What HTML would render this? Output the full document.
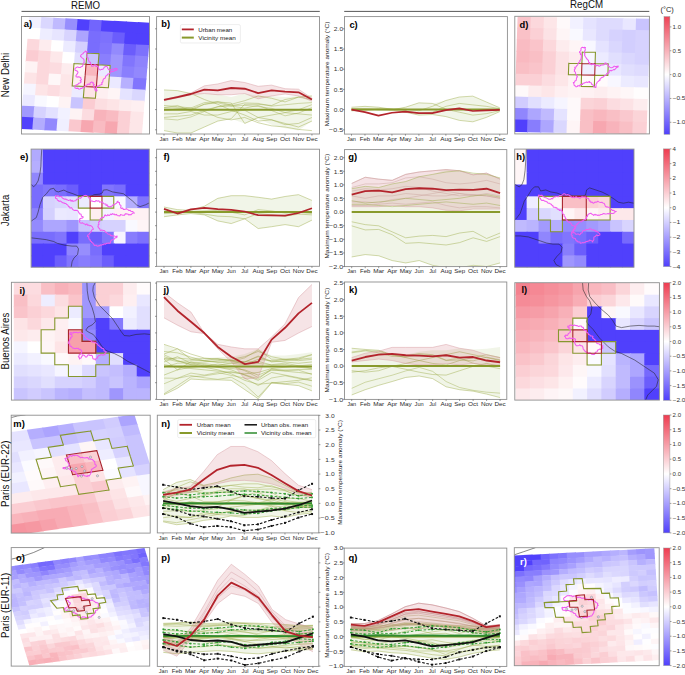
<!DOCTYPE html>
<html><head><meta charset="utf-8"><style>
html,body{margin:0;padding:0;background:#fff;}
body{width:685px;height:675px;overflow:hidden;}
svg{display:block;font-family:"Liberation Sans", sans-serif;}
</style></head><body>
<svg width="685" height="675" viewBox="0 0 685 675">
<rect x="0" y="0" width="685" height="675" fill="#fff"/>
<clipPath id="c156_16"><rect x="156.60" y="16.60" width="162.90" height="117.40"/></clipPath>
<g clip-path="url(#c156_16)">
<polygon points="164.00,89.93 177.45,90.64 190.90,93.52 204.35,93.52 217.80,94.24 231.25,97.11 244.70,93.52 258.15,95.91 271.60,95.91 285.05,97.11 298.50,95.91 311.95,95.91 311.95,121.05 298.50,130.62 285.05,128.23 271.60,124.64 258.15,118.65 244.70,123.44 231.25,118.65 217.80,121.05 204.35,127.03 190.90,133.02 177.45,133.02 164.00,130.62" fill="#7a9a1a" stroke="none" stroke-width="1" fill-opacity="0.1"/>
<polyline points="164.00,89.93 177.45,90.64 190.90,93.52 204.35,99.50 217.80,104.29 231.25,110.28 244.70,115.06 258.15,121.05 271.60,119.85 285.05,123.44 298.50,127.03 311.95,121.05" fill="none" stroke="#9aab45" stroke-width="0.45" stroke-linejoin="round"/>
<polyline points="164.00,105.49 177.45,106.68 190.90,107.88 204.35,111.47 217.80,117.46 231.25,119.85 244.70,117.46 258.15,122.72 271.60,125.84 285.05,127.03 298.50,129.43 311.95,130.62" fill="none" stroke="#9aab45" stroke-width="0.45" stroke-linejoin="round"/>
<polyline points="164.00,117.46 177.45,116.26 190.90,115.06 204.35,110.28 217.80,106.68 231.25,104.29 244.70,100.70 258.15,95.91 271.60,98.31 285.05,101.90 298.50,97.11 311.95,95.91" fill="none" stroke="#9aab45" stroke-width="0.45" stroke-linejoin="round"/>
<polyline points="164.00,130.62 177.45,133.02 190.90,133.02 204.35,127.03 217.80,121.05 231.25,118.65 244.70,104.29 258.15,104.29 271.60,105.49 285.05,99.50 298.50,97.11 311.95,99.50" fill="none" stroke="#9aab45" stroke-width="0.45" stroke-linejoin="round"/>
<polyline points="164.00,113.87 177.45,113.87 190.90,111.47 204.35,115.06 217.80,115.06 231.25,111.47 244.70,110.28 258.15,117.46 271.60,115.06 285.05,112.67 298.50,113.87 311.95,115.06" fill="none" stroke="#9aab45" stroke-width="0.45" stroke-linejoin="round"/>
<polyline points="164.00,107.88 177.45,107.88 190.90,109.08 204.35,104.29 217.80,101.90 231.25,103.09 244.70,123.44 258.15,117.46 271.60,119.85 285.05,124.64 298.50,123.44 311.95,117.46" fill="none" stroke="#9aab45" stroke-width="0.45" stroke-linejoin="round"/>
<polyline points="164.00,107.68 177.45,105.46 190.90,110.80 204.35,104.21 217.80,102.81 231.25,106.06 244.70,102.94 258.15,103.37 271.60,106.13 285.05,104.75 298.50,103.43 311.95,102.58" fill="none" stroke="#9aab45" stroke-width="0.42" stroke-linejoin="round"/>
<polyline points="164.00,110.72 177.45,108.80 190.90,107.96 204.35,102.64 217.80,101.58 231.25,105.20 244.70,105.40 258.15,106.44 271.60,108.41 285.05,112.49 298.50,109.75 311.95,104.67" fill="none" stroke="#9aab45" stroke-width="0.42" stroke-linejoin="round"/>
<polyline points="164.00,118.86 177.45,119.98 190.90,116.95 204.35,111.52 217.80,106.77 231.25,106.05 244.70,108.16 258.15,105.40 271.60,110.56 285.05,115.82 298.50,113.07 311.95,107.60" fill="none" stroke="#9aab45" stroke-width="0.42" stroke-linejoin="round"/>
<polygon points="164.00,99.50 177.45,96.39 190.90,93.04 204.35,85.86 217.80,83.94 231.25,80.59 244.70,82.50 258.15,86.33 271.60,85.14 285.05,88.73 298.50,89.21 311.95,98.31 311.95,101.18 298.50,95.91 285.05,94.00 271.60,95.91 258.15,98.78 244.70,93.52 231.25,94.71 217.80,94.71 204.35,93.52 190.90,94.71 177.45,97.83 164.00,100.70" fill="#b22234" stroke="none" stroke-width="1" fill-opacity="0.12"/>
<polyline points="164.00,99.50 177.45,96.39 190.90,93.04 204.35,85.86 217.80,83.94 231.25,80.59 244.70,82.50 258.15,86.33 271.60,85.14 285.05,88.73 298.50,89.21 311.95,98.31" fill="none" stroke="#d9a0a6" stroke-width="0.5" stroke-linejoin="round"/>
<polyline points="164.00,100.70 177.45,97.83 190.90,94.71 204.35,93.52 217.80,94.71 231.25,94.71 244.70,93.52 258.15,98.78 271.60,95.91 285.05,94.00 298.50,95.91 311.95,101.18" fill="none" stroke="#d9a0a6" stroke-width="0.5" stroke-linejoin="round"/>
<polyline points="164.00,109.80 177.45,109.80 190.90,109.80 204.35,109.80 217.80,109.80 231.25,109.80 244.70,109.80 258.15,109.80 271.60,109.80 285.05,109.80 298.50,109.80 311.95,109.80" fill="none" stroke="#889a2c" stroke-width="2.0" stroke-linejoin="round"/>
<polyline points="164.00,99.98 177.45,97.11 190.90,94.00 204.35,89.69 217.80,90.40 231.25,88.01 244.70,88.73 258.15,93.04 271.60,90.40 285.05,91.60 298.50,92.32 311.95,99.50" fill="none" stroke="#b3242c" stroke-width="1.8" stroke-linejoin="round"/>
</g>
<rect x="156.60" y="16.60" width="162.90" height="117.40" fill="none" stroke="#8e8e8e" stroke-width="0.9"/>
<line x1="164.00" y1="134.00" x2="164.00" y2="135.60" stroke="#555" stroke-width="0.6"/>
<text x="164.00" y="140.70" font-size="6.15" text-anchor="middle" font-weight="normal" fill="#2a2a2a" textLength="8.94" lengthAdjust="spacingAndGlyphs">Jan</text>
<line x1="177.45" y1="134.00" x2="177.45" y2="135.60" stroke="#555" stroke-width="0.6"/>
<text x="177.45" y="140.70" font-size="6.15" text-anchor="middle" font-weight="normal" fill="#2a2a2a" textLength="10.27" lengthAdjust="spacingAndGlyphs">Feb</text>
<line x1="190.90" y1="134.00" x2="190.90" y2="135.60" stroke="#555" stroke-width="0.6"/>
<text x="190.90" y="140.70" font-size="6.15" text-anchor="middle" font-weight="normal" fill="#2a2a2a" textLength="10.94" lengthAdjust="spacingAndGlyphs">Mar</text>
<line x1="204.35" y1="134.00" x2="204.35" y2="135.60" stroke="#555" stroke-width="0.6"/>
<text x="204.35" y="140.70" font-size="6.15" text-anchor="middle" font-weight="normal" fill="#2a2a2a" textLength="10.03" lengthAdjust="spacingAndGlyphs">Apr</text>
<line x1="217.80" y1="134.00" x2="217.80" y2="135.60" stroke="#555" stroke-width="0.6"/>
<text x="217.80" y="140.70" font-size="6.15" text-anchor="middle" font-weight="normal" fill="#2a2a2a" textLength="11.99" lengthAdjust="spacingAndGlyphs">May</text>
<line x1="231.25" y1="134.00" x2="231.25" y2="135.60" stroke="#555" stroke-width="0.6"/>
<text x="231.25" y="140.70" font-size="6.15" text-anchor="middle" font-weight="normal" fill="#2a2a2a" textLength="9.06" lengthAdjust="spacingAndGlyphs">Jun</text>
<line x1="244.70" y1="134.00" x2="244.70" y2="135.60" stroke="#555" stroke-width="0.6"/>
<text x="244.70" y="140.70" font-size="6.15" text-anchor="middle" font-weight="normal" fill="#2a2a2a" textLength="7.00" lengthAdjust="spacingAndGlyphs">Jul</text>
<line x1="258.15" y1="134.00" x2="258.15" y2="135.60" stroke="#555" stroke-width="0.6"/>
<text x="258.15" y="140.70" font-size="6.15" text-anchor="middle" font-weight="normal" fill="#2a2a2a" textLength="11.33" lengthAdjust="spacingAndGlyphs">Aug</text>
<line x1="271.60" y1="134.00" x2="271.60" y2="135.60" stroke="#555" stroke-width="0.6"/>
<text x="271.60" y="140.70" font-size="6.15" text-anchor="middle" font-weight="normal" fill="#2a2a2a" textLength="10.93" lengthAdjust="spacingAndGlyphs">Sep</text>
<line x1="285.05" y1="134.00" x2="285.05" y2="135.60" stroke="#555" stroke-width="0.6"/>
<text x="285.05" y="140.70" font-size="6.15" text-anchor="middle" font-weight="normal" fill="#2a2a2a" textLength="10.03" lengthAdjust="spacingAndGlyphs">Oct</text>
<line x1="298.50" y1="134.00" x2="298.50" y2="135.60" stroke="#555" stroke-width="0.6"/>
<text x="298.50" y="140.70" font-size="6.15" text-anchor="middle" font-weight="normal" fill="#2a2a2a" textLength="11.32" lengthAdjust="spacingAndGlyphs">Nov</text>
<line x1="311.95" y1="134.00" x2="311.95" y2="135.60" stroke="#555" stroke-width="0.6"/>
<text x="311.95" y="140.70" font-size="6.15" text-anchor="middle" font-weight="normal" fill="#2a2a2a" textLength="11.22" lengthAdjust="spacingAndGlyphs">Dec</text>
<line x1="155.00" y1="129.80" x2="156.60" y2="129.80" stroke="#555" stroke-width="0.6"/>
<line x1="155.00" y1="109.60" x2="156.60" y2="109.60" stroke="#555" stroke-width="0.6"/>
<line x1="155.00" y1="89.40" x2="156.60" y2="89.40" stroke="#555" stroke-width="0.6"/>
<line x1="155.00" y1="69.20" x2="156.60" y2="69.20" stroke="#555" stroke-width="0.6"/>
<line x1="155.00" y1="49.00" x2="156.60" y2="49.00" stroke="#555" stroke-width="0.6"/>
<line x1="155.00" y1="28.80" x2="156.60" y2="28.80" stroke="#555" stroke-width="0.6"/>
<rect x="180.4" y="24.6" width="60" height="18.4" rx="1.5" fill="#fff" fill-opacity="0.85" stroke="#e2e2e2" stroke-width="0.6"/>
<line x1="181.80" y1="29.40" x2="193.80" y2="29.40" stroke="#b3242c" stroke-width="1.8"/>
<line x1="181.80" y1="37.60" x2="193.80" y2="37.60" stroke="#889a2c" stroke-width="2.0"/>
<text x="198.30" y="31.60" font-size="5.9" text-anchor="start" font-weight="normal" fill="#222" textLength="33.98" lengthAdjust="spacingAndGlyphs">Urban mean</text>
<text x="198.30" y="39.80" font-size="5.9" text-anchor="start" font-weight="normal" fill="#222" textLength="37.49" lengthAdjust="spacingAndGlyphs">Vicinity mean</text>
<clipPath id="c344_16"><rect x="344.50" y="16.60" width="162.90" height="117.50"/></clipPath>
<g clip-path="url(#c344_16)">
<polygon points="351.50,107.23 364.98,106.35 378.46,107.23 391.94,109.27 405.42,107.23 418.90,102.85 432.38,103.43 445.86,100.51 459.34,97.01 472.82,96.13 486.30,101.97 499.78,107.81 499.78,111.61 486.30,117.45 472.82,121.82 459.34,120.36 445.86,116.57 432.38,114.53 418.90,115.11 405.42,112.19 391.94,110.15 378.46,110.73 364.98,110.73 351.50,111.61" fill="#7a9a1a" stroke="none" stroke-width="1" fill-opacity="0.1"/>
<polyline points="351.50,107.23 364.98,106.35 378.46,107.23 391.94,109.27 405.42,110.73 418.90,113.65 432.38,112.19 445.86,106.35 459.34,103.43 472.82,104.89 486.30,106.35 499.78,108.69" fill="none" stroke="#9aab45" stroke-width="0.45" stroke-linejoin="round"/>
<polyline points="351.50,110.73 364.98,110.15 378.46,109.27 391.94,109.85 405.42,107.23 418.90,102.85 432.38,103.43 445.86,109.27 459.34,112.19 472.82,115.11 486.30,113.65 499.78,110.73" fill="none" stroke="#9aab45" stroke-width="0.45" stroke-linejoin="round"/>
<polyline points="351.50,109.27 364.98,108.69 378.46,109.85 391.94,110.15 405.42,112.19 418.90,115.11 432.38,114.53 445.86,116.57 459.34,120.36 472.82,121.82 486.30,117.45 499.78,111.61" fill="none" stroke="#9aab45" stroke-width="0.45" stroke-linejoin="round"/>
<polyline points="351.50,108.69 364.98,109.27 378.46,108.69 391.94,108.69 405.42,109.27 418.90,110.73 432.38,106.35 445.86,100.51 459.34,97.01 472.82,96.13 486.30,101.97 499.78,107.81" fill="none" stroke="#9aab45" stroke-width="0.45" stroke-linejoin="round"/>
<polyline points="351.50,109.60 364.98,109.60 378.46,109.60 391.94,109.60 405.42,109.60 418.90,109.60 432.38,109.60 445.86,109.60 459.34,109.60 472.82,109.60 486.30,109.60 499.78,109.60" fill="none" stroke="#889a2c" stroke-width="2.0" stroke-linejoin="round"/>
<polyline points="351.50,109.56 364.98,112.19 378.46,115.69 391.94,112.77 405.42,111.61 418.90,113.07 432.38,113.07 445.86,110.15 459.34,108.39 472.82,111.02 486.30,110.44 499.78,109.85" fill="none" stroke="#b3242c" stroke-width="1.7" stroke-linejoin="round"/>
</g>
<rect x="344.50" y="16.60" width="162.90" height="117.50" fill="none" stroke="#8e8e8e" stroke-width="0.9"/>
<line x1="351.50" y1="134.10" x2="351.50" y2="135.70" stroke="#555" stroke-width="0.6"/>
<text x="351.50" y="140.70" font-size="6.15" text-anchor="middle" font-weight="normal" fill="#2a2a2a" textLength="8.94" lengthAdjust="spacingAndGlyphs">Jan</text>
<line x1="364.98" y1="134.10" x2="364.98" y2="135.70" stroke="#555" stroke-width="0.6"/>
<text x="364.98" y="140.70" font-size="6.15" text-anchor="middle" font-weight="normal" fill="#2a2a2a" textLength="10.27" lengthAdjust="spacingAndGlyphs">Feb</text>
<line x1="378.46" y1="134.10" x2="378.46" y2="135.70" stroke="#555" stroke-width="0.6"/>
<text x="378.46" y="140.70" font-size="6.15" text-anchor="middle" font-weight="normal" fill="#2a2a2a" textLength="10.94" lengthAdjust="spacingAndGlyphs">Mar</text>
<line x1="391.94" y1="134.10" x2="391.94" y2="135.70" stroke="#555" stroke-width="0.6"/>
<text x="391.94" y="140.70" font-size="6.15" text-anchor="middle" font-weight="normal" fill="#2a2a2a" textLength="10.03" lengthAdjust="spacingAndGlyphs">Apr</text>
<line x1="405.42" y1="134.10" x2="405.42" y2="135.70" stroke="#555" stroke-width="0.6"/>
<text x="405.42" y="140.70" font-size="6.15" text-anchor="middle" font-weight="normal" fill="#2a2a2a" textLength="11.99" lengthAdjust="spacingAndGlyphs">May</text>
<line x1="418.90" y1="134.10" x2="418.90" y2="135.70" stroke="#555" stroke-width="0.6"/>
<text x="418.90" y="140.70" font-size="6.15" text-anchor="middle" font-weight="normal" fill="#2a2a2a" textLength="9.06" lengthAdjust="spacingAndGlyphs">Jun</text>
<line x1="432.38" y1="134.10" x2="432.38" y2="135.70" stroke="#555" stroke-width="0.6"/>
<text x="432.38" y="140.70" font-size="6.15" text-anchor="middle" font-weight="normal" fill="#2a2a2a" textLength="7.00" lengthAdjust="spacingAndGlyphs">Jul</text>
<line x1="445.86" y1="134.10" x2="445.86" y2="135.70" stroke="#555" stroke-width="0.6"/>
<text x="445.86" y="140.70" font-size="6.15" text-anchor="middle" font-weight="normal" fill="#2a2a2a" textLength="11.33" lengthAdjust="spacingAndGlyphs">Aug</text>
<line x1="459.34" y1="134.10" x2="459.34" y2="135.70" stroke="#555" stroke-width="0.6"/>
<text x="459.34" y="140.70" font-size="6.15" text-anchor="middle" font-weight="normal" fill="#2a2a2a" textLength="10.93" lengthAdjust="spacingAndGlyphs">Sep</text>
<line x1="472.82" y1="134.10" x2="472.82" y2="135.70" stroke="#555" stroke-width="0.6"/>
<text x="472.82" y="140.70" font-size="6.15" text-anchor="middle" font-weight="normal" fill="#2a2a2a" textLength="10.03" lengthAdjust="spacingAndGlyphs">Oct</text>
<line x1="486.30" y1="134.10" x2="486.30" y2="135.70" stroke="#555" stroke-width="0.6"/>
<text x="486.30" y="140.70" font-size="6.15" text-anchor="middle" font-weight="normal" fill="#2a2a2a" textLength="11.32" lengthAdjust="spacingAndGlyphs">Nov</text>
<line x1="499.78" y1="134.10" x2="499.78" y2="135.70" stroke="#555" stroke-width="0.6"/>
<text x="499.78" y="140.70" font-size="6.15" text-anchor="middle" font-weight="normal" fill="#2a2a2a" textLength="11.22" lengthAdjust="spacingAndGlyphs">Dec</text>
<line x1="342.90" y1="28.80" x2="344.50" y2="28.80" stroke="#555" stroke-width="0.6"/>
<line x1="342.90" y1="49.00" x2="344.50" y2="49.00" stroke="#555" stroke-width="0.6"/>
<line x1="342.90" y1="69.20" x2="344.50" y2="69.20" stroke="#555" stroke-width="0.6"/>
<line x1="342.90" y1="89.40" x2="344.50" y2="89.40" stroke="#555" stroke-width="0.6"/>
<line x1="342.90" y1="109.60" x2="344.50" y2="109.60" stroke="#555" stroke-width="0.6"/>
<line x1="342.90" y1="129.80" x2="344.50" y2="129.80" stroke="#555" stroke-width="0.6"/>
<text x="343.10" y="31.00" font-size="6.15" text-anchor="end" font-weight="normal" fill="#333" textLength="9.22" lengthAdjust="spacingAndGlyphs">2.0</text>
<text x="343.10" y="51.20" font-size="6.15" text-anchor="end" font-weight="normal" fill="#333" textLength="9.22" lengthAdjust="spacingAndGlyphs">1.5</text>
<text x="343.10" y="71.40" font-size="6.15" text-anchor="end" font-weight="normal" fill="#333" textLength="9.22" lengthAdjust="spacingAndGlyphs">1.0</text>
<text x="343.10" y="91.60" font-size="6.15" text-anchor="end" font-weight="normal" fill="#333" textLength="9.22" lengthAdjust="spacingAndGlyphs">0.5</text>
<text x="343.10" y="111.80" font-size="6.15" text-anchor="end" font-weight="normal" fill="#333" textLength="9.22" lengthAdjust="spacingAndGlyphs">0.0</text>
<text x="343.10" y="132.00" font-size="6.15" text-anchor="end" font-weight="normal" fill="#333" textLength="14.08" lengthAdjust="spacingAndGlyphs">−0.5</text>
<text x="328.60" y="73.90" font-size="6.0" text-anchor="middle" font-weight="normal" fill="#222" transform="rotate(-90 328.60 73.90)" textLength="104.67" lengthAdjust="spacingAndGlyphs">Maximum temperature anomaly (°C)</text>
<clipPath id="c156_149"><rect x="156.60" y="149.20" width="162.90" height="117.10"/></clipPath>
<g clip-path="url(#c156_149)">
<polygon points="164.00,207.00 177.45,209.63 190.90,210.42 204.35,206.21 217.80,198.33 231.25,195.70 244.70,195.70 258.15,197.28 271.60,199.12 285.05,196.49 298.50,194.65 311.95,200.43 311.95,220.14 298.50,226.71 285.05,224.60 271.60,226.71 258.15,228.54 244.70,218.82 231.25,223.55 217.80,220.92 204.35,214.88 190.90,213.57 177.45,214.88 164.00,216.72" fill="#7a9a1a" stroke="none" stroke-width="1" fill-opacity="0.1"/>
<polyline points="164.00,207.00 177.45,209.63 190.90,210.42 204.35,206.21 217.80,198.33 231.25,195.70 244.70,195.70 258.15,197.28 271.60,199.12 285.05,196.49 298.50,194.65 311.95,200.43" fill="none" stroke="#9aab45" stroke-width="0.45" stroke-linejoin="round"/>
<polyline points="164.00,216.72 177.45,214.88 190.90,213.57 204.35,214.88 217.80,220.92 231.25,223.55 244.70,218.82 258.15,213.57 271.60,214.88 285.05,216.20 298.50,214.09 311.95,214.88" fill="none" stroke="#9aab45" stroke-width="0.45" stroke-linejoin="round"/>
<polyline points="164.00,213.57 177.45,213.04 190.90,212.25 204.35,214.09 217.80,216.20 231.25,216.72 244.70,218.82 258.15,228.54 271.60,226.71 285.05,224.60 298.50,226.71 311.95,220.14" fill="none" stroke="#9aab45" stroke-width="0.45" stroke-linejoin="round"/>
<polyline points="164.00,210.94 177.45,211.47 190.90,211.47 204.35,210.94 217.80,210.42 231.25,212.25 244.70,214.88 258.15,209.63 271.60,210.94 285.05,213.04 298.50,212.25 311.95,213.57" fill="none" stroke="#9aab45" stroke-width="0.45" stroke-linejoin="round"/>
<polyline points="164.00,212.10 177.45,212.10 190.90,212.10 204.35,212.10 217.80,212.10 231.25,212.10 244.70,212.10 258.15,212.10 271.60,212.10 285.05,212.10 298.50,212.10 311.95,212.10" fill="none" stroke="#889a2c" stroke-width="2.0" stroke-linejoin="round"/>
<polyline points="164.00,208.84 177.45,213.57 190.90,209.36 204.35,207.79 217.80,209.10 231.25,209.89 244.70,211.47 258.15,215.14 271.60,215.41 285.05,215.67 298.50,213.04 311.95,208.31" fill="none" stroke="#b3242c" stroke-width="1.7" stroke-linejoin="round"/>
</g>
<rect x="156.60" y="149.20" width="162.90" height="117.10" fill="none" stroke="#8e8e8e" stroke-width="0.9"/>
<line x1="164.00" y1="266.30" x2="164.00" y2="267.90" stroke="#555" stroke-width="0.6"/>
<text x="164.00" y="273.00" font-size="6.15" text-anchor="middle" font-weight="normal" fill="#2a2a2a" textLength="8.94" lengthAdjust="spacingAndGlyphs">Jan</text>
<line x1="177.45" y1="266.30" x2="177.45" y2="267.90" stroke="#555" stroke-width="0.6"/>
<text x="177.45" y="273.00" font-size="6.15" text-anchor="middle" font-weight="normal" fill="#2a2a2a" textLength="10.27" lengthAdjust="spacingAndGlyphs">Feb</text>
<line x1="190.90" y1="266.30" x2="190.90" y2="267.90" stroke="#555" stroke-width="0.6"/>
<text x="190.90" y="273.00" font-size="6.15" text-anchor="middle" font-weight="normal" fill="#2a2a2a" textLength="10.94" lengthAdjust="spacingAndGlyphs">Mar</text>
<line x1="204.35" y1="266.30" x2="204.35" y2="267.90" stroke="#555" stroke-width="0.6"/>
<text x="204.35" y="273.00" font-size="6.15" text-anchor="middle" font-weight="normal" fill="#2a2a2a" textLength="10.03" lengthAdjust="spacingAndGlyphs">Apr</text>
<line x1="217.80" y1="266.30" x2="217.80" y2="267.90" stroke="#555" stroke-width="0.6"/>
<text x="217.80" y="273.00" font-size="6.15" text-anchor="middle" font-weight="normal" fill="#2a2a2a" textLength="11.99" lengthAdjust="spacingAndGlyphs">May</text>
<line x1="231.25" y1="266.30" x2="231.25" y2="267.90" stroke="#555" stroke-width="0.6"/>
<text x="231.25" y="273.00" font-size="6.15" text-anchor="middle" font-weight="normal" fill="#2a2a2a" textLength="9.06" lengthAdjust="spacingAndGlyphs">Jun</text>
<line x1="244.70" y1="266.30" x2="244.70" y2="267.90" stroke="#555" stroke-width="0.6"/>
<text x="244.70" y="273.00" font-size="6.15" text-anchor="middle" font-weight="normal" fill="#2a2a2a" textLength="7.00" lengthAdjust="spacingAndGlyphs">Jul</text>
<line x1="258.15" y1="266.30" x2="258.15" y2="267.90" stroke="#555" stroke-width="0.6"/>
<text x="258.15" y="273.00" font-size="6.15" text-anchor="middle" font-weight="normal" fill="#2a2a2a" textLength="11.33" lengthAdjust="spacingAndGlyphs">Aug</text>
<line x1="271.60" y1="266.30" x2="271.60" y2="267.90" stroke="#555" stroke-width="0.6"/>
<text x="271.60" y="273.00" font-size="6.15" text-anchor="middle" font-weight="normal" fill="#2a2a2a" textLength="10.93" lengthAdjust="spacingAndGlyphs">Sep</text>
<line x1="285.05" y1="266.30" x2="285.05" y2="267.90" stroke="#555" stroke-width="0.6"/>
<text x="285.05" y="273.00" font-size="6.15" text-anchor="middle" font-weight="normal" fill="#2a2a2a" textLength="10.03" lengthAdjust="spacingAndGlyphs">Oct</text>
<line x1="298.50" y1="266.30" x2="298.50" y2="267.90" stroke="#555" stroke-width="0.6"/>
<text x="298.50" y="273.00" font-size="6.15" text-anchor="middle" font-weight="normal" fill="#2a2a2a" textLength="11.32" lengthAdjust="spacingAndGlyphs">Nov</text>
<line x1="311.95" y1="266.30" x2="311.95" y2="267.90" stroke="#555" stroke-width="0.6"/>
<text x="311.95" y="273.00" font-size="6.15" text-anchor="middle" font-weight="normal" fill="#2a2a2a" textLength="11.22" lengthAdjust="spacingAndGlyphs">Dec</text>
<line x1="155.00" y1="266.50" x2="156.60" y2="266.50" stroke="#555" stroke-width="0.6"/>
<line x1="155.00" y1="252.90" x2="156.60" y2="252.90" stroke="#555" stroke-width="0.6"/>
<line x1="155.00" y1="239.30" x2="156.60" y2="239.30" stroke="#555" stroke-width="0.6"/>
<line x1="155.00" y1="225.70" x2="156.60" y2="225.70" stroke="#555" stroke-width="0.6"/>
<line x1="155.00" y1="212.10" x2="156.60" y2="212.10" stroke="#555" stroke-width="0.6"/>
<line x1="155.00" y1="198.50" x2="156.60" y2="198.50" stroke="#555" stroke-width="0.6"/>
<line x1="155.00" y1="184.90" x2="156.60" y2="184.90" stroke="#555" stroke-width="0.6"/>
<line x1="155.00" y1="171.30" x2="156.60" y2="171.30" stroke="#555" stroke-width="0.6"/>
<line x1="155.00" y1="157.70" x2="156.60" y2="157.70" stroke="#555" stroke-width="0.6"/>
<clipPath id="c344_149"><rect x="344.50" y="149.60" width="162.30" height="117.00"/></clipPath>
<g clip-path="url(#c344_149)">
<polygon points="351.70,188.73 365.19,186.33 378.68,187.53 392.17,183.94 405.66,181.55 419.15,176.76 432.64,174.36 446.13,170.06 459.62,170.77 473.11,173.17 486.60,174.36 500.09,177.96 500.09,262.94 486.60,266.54 473.11,265.34 459.62,267.73 446.13,267.73 432.64,265.34 419.15,260.55 405.66,262.94 392.17,260.55 378.68,255.76 365.19,254.57 351.70,256.96" fill="#7a9a1a" stroke="none" stroke-width="1" fill-opacity="0.1"/>
<polygon points="351.70,183.46 365.19,177.24 378.68,179.15 392.17,180.35 405.66,174.36 419.15,171.97 432.64,170.77 446.13,169.58 459.62,170.77 473.11,174.84 486.60,173.17 500.09,179.15 500.09,209.08 486.60,209.08 473.11,209.08 459.62,210.75 446.13,210.28 432.64,207.88 419.15,206.68 405.66,206.68 392.17,205.49 378.68,206.68 365.19,206.68 351.70,206.68" fill="#b22234" stroke="none" stroke-width="1" fill-opacity="0.13"/>
<polyline points="351.70,183.46 365.19,177.24 378.68,179.15 392.17,180.35 405.66,174.36 419.15,171.97 432.64,170.77 446.13,169.58 459.62,170.77 473.11,174.84 486.60,173.17 500.09,179.15" fill="none" stroke="#d49aa0" stroke-width="0.45" stroke-linejoin="round"/>
<polyline points="351.70,206.68 365.19,206.68 378.68,206.68 392.17,205.49 405.66,206.68 419.15,206.68 432.64,207.88 446.13,210.28 459.62,210.75 473.11,209.08 486.60,209.08 500.09,209.08" fill="none" stroke="#d49aa0" stroke-width="0.45" stroke-linejoin="round"/>
<polyline points="351.70,221.77 365.19,224.64 378.68,225.84 392.17,231.82 405.66,237.81 419.15,236.13 432.64,235.41 446.13,236.61 459.62,233.02 473.11,231.34 486.60,238.53 500.09,233.02" fill="none" stroke="#9aab45" stroke-width="0.45" stroke-linejoin="round"/>
<polyline points="351.70,225.84 365.19,229.91 378.68,229.43 392.17,234.69 405.66,243.31 419.15,242.60 432.64,243.79 446.13,244.99 459.62,242.60 473.11,237.81 486.60,241.40 500.09,236.61" fill="none" stroke="#9aab45" stroke-width="0.45" stroke-linejoin="round"/>
<polyline points="351.70,256.96 365.19,254.57 378.68,255.76 392.17,260.55 405.66,262.94 419.15,260.55 432.64,265.34 446.13,267.73 459.62,267.73 473.11,265.34 486.60,266.54 500.09,262.94" fill="none" stroke="#9aab45" stroke-width="0.45" stroke-linejoin="round"/>
<polyline points="351.70,183.46 365.19,177.24 378.68,179.15 392.17,180.35 405.66,174.36 419.15,171.97 432.64,170.77 446.13,169.58 459.62,170.77 473.11,174.84 486.60,173.17 500.09,179.15" fill="none" stroke="#c9a09a" stroke-width="0.45" stroke-linejoin="round"/>
<polyline points="351.70,187.53 365.19,183.94 378.68,183.94 392.17,182.74 405.66,177.96 419.15,176.76 432.64,179.15 446.13,182.74 459.62,183.94 473.11,182.74 486.60,180.35 500.09,183.94" fill="none" stroke="#c9a09a" stroke-width="0.45" stroke-linejoin="round"/>
<polyline points="351.70,195.91 365.19,198.31 378.68,195.91 392.17,195.91 405.66,193.52 419.15,194.71 432.64,195.91 446.13,195.91 459.62,193.52 473.11,195.91 486.60,193.52 500.09,195.91" fill="none" stroke="#c9a09a" stroke-width="0.45" stroke-linejoin="round"/>
<polyline points="351.70,201.90 365.19,201.90 378.68,203.09 392.17,199.50 405.66,198.31 419.15,195.91 432.64,193.52 446.13,191.12 459.62,193.52 473.11,194.71 486.60,195.91 500.09,198.31" fill="none" stroke="#c9a09a" stroke-width="0.45" stroke-linejoin="round"/>
<polyline points="351.70,205.49 365.19,205.49 378.68,204.29 392.17,203.09 405.66,204.29 419.15,203.09 432.64,201.90 446.13,205.49 459.62,207.88 473.11,206.68 486.60,206.68 500.09,207.88" fill="none" stroke="#c9a09a" stroke-width="0.45" stroke-linejoin="round"/>
<polyline points="351.70,191.12 365.19,188.73 378.68,189.93 392.17,188.73 405.66,186.33 419.15,187.53 432.64,191.12 446.13,193.52 459.62,195.91 473.11,194.71 486.60,195.91 500.09,198.31" fill="none" stroke="#c9a09a" stroke-width="0.45" stroke-linejoin="round"/>
<polyline points="351.70,188.73 365.19,186.33 378.68,187.53 392.17,183.94 405.66,181.55 419.15,176.76 432.64,174.36 446.13,171.97 459.62,170.77 473.11,173.17 486.60,174.36 500.09,177.96" fill="none" stroke="#9aab45" stroke-width="0.45" stroke-linejoin="round"/>
<polyline points="351.70,200.70 365.19,203.09 378.68,201.90 392.17,200.70 405.66,198.31 419.15,199.50 432.64,200.70 446.13,199.50 459.62,198.31 473.11,195.91 486.60,194.71 500.09,197.11" fill="none" stroke="#9aab45" stroke-width="0.45" stroke-linejoin="round"/>
<polyline points="351.70,204.29 365.19,204.29 378.68,205.49 392.17,206.68 405.66,205.49 419.15,204.29 432.64,203.09 446.13,201.90 459.62,203.09 473.11,204.29 486.60,203.09 500.09,205.49" fill="none" stroke="#9aab45" stroke-width="0.45" stroke-linejoin="round"/>
<polyline points="351.70,212.10 365.19,212.10 378.68,212.10 392.17,212.10 405.66,212.10 419.15,212.10 432.64,212.10 446.13,212.10 459.62,212.10 473.11,212.10 486.60,212.10 500.09,212.10" fill="none" stroke="#889a2c" stroke-width="2.0" stroke-linejoin="round"/>
<polyline points="351.70,194.71 365.19,191.12 378.68,190.64 392.17,192.32 405.66,189.21 419.15,188.25 432.64,188.73 446.13,190.17 459.62,189.69 473.11,189.93 486.60,188.73 500.09,193.04" fill="none" stroke="#b3242c" stroke-width="1.8" stroke-linejoin="round"/>
</g>
<rect x="344.50" y="149.60" width="162.30" height="117.00" fill="none" stroke="#8e8e8e" stroke-width="0.9"/>
<line x1="351.70" y1="266.60" x2="351.70" y2="268.20" stroke="#555" stroke-width="0.6"/>
<text x="351.70" y="273.00" font-size="6.15" text-anchor="middle" font-weight="normal" fill="#2a2a2a" textLength="8.94" lengthAdjust="spacingAndGlyphs">Jan</text>
<line x1="365.19" y1="266.60" x2="365.19" y2="268.20" stroke="#555" stroke-width="0.6"/>
<text x="365.19" y="273.00" font-size="6.15" text-anchor="middle" font-weight="normal" fill="#2a2a2a" textLength="10.27" lengthAdjust="spacingAndGlyphs">Feb</text>
<line x1="378.68" y1="266.60" x2="378.68" y2="268.20" stroke="#555" stroke-width="0.6"/>
<text x="378.68" y="273.00" font-size="6.15" text-anchor="middle" font-weight="normal" fill="#2a2a2a" textLength="10.94" lengthAdjust="spacingAndGlyphs">Mar</text>
<line x1="392.17" y1="266.60" x2="392.17" y2="268.20" stroke="#555" stroke-width="0.6"/>
<text x="392.17" y="273.00" font-size="6.15" text-anchor="middle" font-weight="normal" fill="#2a2a2a" textLength="10.03" lengthAdjust="spacingAndGlyphs">Apr</text>
<line x1="405.66" y1="266.60" x2="405.66" y2="268.20" stroke="#555" stroke-width="0.6"/>
<text x="405.66" y="273.00" font-size="6.15" text-anchor="middle" font-weight="normal" fill="#2a2a2a" textLength="11.99" lengthAdjust="spacingAndGlyphs">May</text>
<line x1="419.15" y1="266.60" x2="419.15" y2="268.20" stroke="#555" stroke-width="0.6"/>
<text x="419.15" y="273.00" font-size="6.15" text-anchor="middle" font-weight="normal" fill="#2a2a2a" textLength="9.06" lengthAdjust="spacingAndGlyphs">Jun</text>
<line x1="432.64" y1="266.60" x2="432.64" y2="268.20" stroke="#555" stroke-width="0.6"/>
<text x="432.64" y="273.00" font-size="6.15" text-anchor="middle" font-weight="normal" fill="#2a2a2a" textLength="7.00" lengthAdjust="spacingAndGlyphs">Jul</text>
<line x1="446.13" y1="266.60" x2="446.13" y2="268.20" stroke="#555" stroke-width="0.6"/>
<text x="446.13" y="273.00" font-size="6.15" text-anchor="middle" font-weight="normal" fill="#2a2a2a" textLength="11.33" lengthAdjust="spacingAndGlyphs">Aug</text>
<line x1="459.62" y1="266.60" x2="459.62" y2="268.20" stroke="#555" stroke-width="0.6"/>
<text x="459.62" y="273.00" font-size="6.15" text-anchor="middle" font-weight="normal" fill="#2a2a2a" textLength="10.93" lengthAdjust="spacingAndGlyphs">Sep</text>
<line x1="473.11" y1="266.60" x2="473.11" y2="268.20" stroke="#555" stroke-width="0.6"/>
<text x="473.11" y="273.00" font-size="6.15" text-anchor="middle" font-weight="normal" fill="#2a2a2a" textLength="10.03" lengthAdjust="spacingAndGlyphs">Oct</text>
<line x1="486.60" y1="266.60" x2="486.60" y2="268.20" stroke="#555" stroke-width="0.6"/>
<text x="486.60" y="273.00" font-size="6.15" text-anchor="middle" font-weight="normal" fill="#2a2a2a" textLength="11.32" lengthAdjust="spacingAndGlyphs">Nov</text>
<line x1="500.09" y1="266.60" x2="500.09" y2="268.20" stroke="#555" stroke-width="0.6"/>
<text x="500.09" y="273.00" font-size="6.15" text-anchor="middle" font-weight="normal" fill="#2a2a2a" textLength="11.22" lengthAdjust="spacingAndGlyphs">Dec</text>
<line x1="342.90" y1="157.70" x2="344.50" y2="157.70" stroke="#555" stroke-width="0.6"/>
<line x1="342.90" y1="171.30" x2="344.50" y2="171.30" stroke="#555" stroke-width="0.6"/>
<line x1="342.90" y1="184.90" x2="344.50" y2="184.90" stroke="#555" stroke-width="0.6"/>
<line x1="342.90" y1="198.50" x2="344.50" y2="198.50" stroke="#555" stroke-width="0.6"/>
<line x1="342.90" y1="212.10" x2="344.50" y2="212.10" stroke="#555" stroke-width="0.6"/>
<line x1="342.90" y1="225.70" x2="344.50" y2="225.70" stroke="#555" stroke-width="0.6"/>
<line x1="342.90" y1="239.30" x2="344.50" y2="239.30" stroke="#555" stroke-width="0.6"/>
<line x1="342.90" y1="252.90" x2="344.50" y2="252.90" stroke="#555" stroke-width="0.6"/>
<line x1="342.90" y1="266.50" x2="344.50" y2="266.50" stroke="#555" stroke-width="0.6"/>
<text x="343.10" y="159.90" font-size="6.15" text-anchor="end" font-weight="normal" fill="#333" textLength="9.22" lengthAdjust="spacingAndGlyphs">2.0</text>
<text x="343.10" y="173.50" font-size="6.15" text-anchor="end" font-weight="normal" fill="#333" textLength="9.22" lengthAdjust="spacingAndGlyphs">1.5</text>
<text x="343.10" y="187.10" font-size="6.15" text-anchor="end" font-weight="normal" fill="#333" textLength="9.22" lengthAdjust="spacingAndGlyphs">1.0</text>
<text x="343.10" y="200.70" font-size="6.15" text-anchor="end" font-weight="normal" fill="#333" textLength="9.22" lengthAdjust="spacingAndGlyphs">0.5</text>
<text x="343.10" y="214.30" font-size="6.15" text-anchor="end" font-weight="normal" fill="#333" textLength="9.22" lengthAdjust="spacingAndGlyphs">0.0</text>
<text x="343.10" y="227.90" font-size="6.15" text-anchor="end" font-weight="normal" fill="#333" textLength="14.08" lengthAdjust="spacingAndGlyphs">−0.5</text>
<text x="343.10" y="241.50" font-size="6.15" text-anchor="end" font-weight="normal" fill="#333" textLength="14.08" lengthAdjust="spacingAndGlyphs">−1.0</text>
<text x="343.10" y="255.10" font-size="6.15" text-anchor="end" font-weight="normal" fill="#333" textLength="14.08" lengthAdjust="spacingAndGlyphs">−1.5</text>
<text x="343.10" y="268.70" font-size="6.15" text-anchor="end" font-weight="normal" fill="#333" textLength="14.08" lengthAdjust="spacingAndGlyphs">−2.0</text>
<text x="328.60" y="206.20" font-size="6.0" text-anchor="middle" font-weight="normal" fill="#222" transform="rotate(-90 328.60 206.20)" textLength="104.67" lengthAdjust="spacingAndGlyphs">Maximum temperature anomaly (°C)</text>
<clipPath id="c156_281"><rect x="156.60" y="281.80" width="162.90" height="117.70"/></clipPath>
<g clip-path="url(#c156_281)">
<polygon points="164.00,344.36 177.45,350.14 190.90,356.71 204.35,358.02 217.80,357.23 231.25,356.71 244.70,354.08 258.15,348.82 271.60,355.39 285.05,355.39 298.50,354.08 311.95,352.24 311.95,390.86 298.50,385.61 285.05,384.29 271.60,382.98 258.15,398.74 244.70,389.55 231.25,380.35 217.80,379.83 204.35,379.83 190.90,379.04 177.45,388.23 164.00,394.80" fill="#7a9a1a" stroke="none" stroke-width="1" fill-opacity="0.1"/>
<polyline points="164.00,344.36 177.45,348.82 190.90,354.08 204.35,358.02 217.80,359.33 231.25,360.65 244.70,361.96 258.15,356.71 271.60,361.96 285.05,360.65 298.50,359.33 311.95,358.02" fill="none" stroke="#9aab45" stroke-width="0.45" stroke-linejoin="round"/>
<polyline points="164.00,354.08 177.45,348.82 190.90,359.33 204.35,360.65 217.80,361.96 231.25,363.27 244.70,364.59 258.15,359.33 271.60,360.65 285.05,361.96 298.50,363.27 311.95,361.96" fill="none" stroke="#9aab45" stroke-width="0.45" stroke-linejoin="round"/>
<polyline points="164.00,359.33 177.45,369.84 190.90,361.96 204.35,364.59 217.80,367.21 231.25,369.84 244.70,375.10 258.15,380.35 271.60,372.47 285.05,375.10 298.50,377.72 311.95,380.35" fill="none" stroke="#9aab45" stroke-width="0.45" stroke-linejoin="round"/>
<polyline points="164.00,375.10 177.45,369.84 190.90,367.21 204.35,365.90 217.80,367.21 231.25,368.53 244.70,369.84 258.15,375.10 271.60,369.84 285.05,371.16 298.50,372.47 311.95,373.78" fill="none" stroke="#9aab45" stroke-width="0.45" stroke-linejoin="round"/>
<polyline points="164.00,394.80 177.45,388.23 190.90,379.04 204.35,379.83 217.80,379.83 231.25,380.35 244.70,389.55 258.15,398.74 271.60,382.98 285.05,384.29 298.50,385.61 311.95,390.86" fill="none" stroke="#9aab45" stroke-width="0.45" stroke-linejoin="round"/>
<polyline points="164.00,356.71 177.45,360.65 190.90,364.59 204.35,367.21 217.80,369.84 231.25,373.78 244.70,380.35 258.15,384.29 271.60,382.98 285.05,381.67 298.50,380.35 311.95,377.72" fill="none" stroke="#9aab45" stroke-width="0.45" stroke-linejoin="round"/>
<polyline points="164.00,361.96 177.45,356.71 190.90,363.27 204.35,361.96 217.80,360.65 231.25,359.33 244.70,356.71 258.15,351.45 271.60,356.71 285.05,359.33 298.50,360.65 311.95,359.33" fill="none" stroke="#9aab45" stroke-width="0.45" stroke-linejoin="round"/>
<polyline points="164.00,364.59 177.45,367.21 190.90,368.53 204.35,369.84 217.80,371.16 231.25,372.47 244.70,373.78 258.15,372.47 271.60,368.53 285.05,367.21 298.50,365.90 311.95,364.59" fill="none" stroke="#9aab45" stroke-width="0.45" stroke-linejoin="round"/>
<polyline points="164.00,378.09 177.45,378.31 190.90,375.59 204.35,377.72 217.80,379.37 231.25,377.21 244.70,384.54 258.15,397.00 271.60,382.43 285.05,383.72 298.50,382.05 311.95,386.22" fill="none" stroke="#9aab45" stroke-width="0.42" stroke-linejoin="round"/>
<polyline points="164.00,358.60 177.45,361.57 190.90,360.80 204.35,360.53 217.80,358.64 231.25,360.54 244.70,362.10 258.15,356.03 271.60,361.34 285.05,359.12 298.50,359.03 311.95,354.85" fill="none" stroke="#9aab45" stroke-width="0.42" stroke-linejoin="round"/>
<polyline points="164.00,351.46 177.45,352.84 190.90,357.15 204.35,360.98 217.80,362.32 231.25,360.83 244.70,364.20 258.15,363.54 271.60,364.70 285.05,363.10 298.50,365.82 311.95,368.39" fill="none" stroke="#9aab45" stroke-width="0.42" stroke-linejoin="round"/>
<polyline points="164.00,393.79 177.45,385.63 190.90,376.77 204.35,375.86 217.80,373.80 231.25,371.57 244.70,374.69 258.15,379.07 271.60,368.82 285.05,370.69 298.50,369.54 311.95,369.42" fill="none" stroke="#9aab45" stroke-width="0.42" stroke-linejoin="round"/>
<polyline points="164.00,383.81 177.45,378.25 190.90,373.08 204.35,375.08 217.80,372.51 231.25,375.39 244.70,378.04 258.15,385.54 271.60,377.97 285.05,375.70 298.50,378.41 311.95,380.81" fill="none" stroke="#9aab45" stroke-width="0.42" stroke-linejoin="round"/>
<polyline points="164.00,367.20 177.45,363.24 190.90,362.68 204.35,366.23 217.80,364.10 231.25,365.34 244.70,370.69 258.15,377.50 271.60,370.21 285.05,369.91 298.50,370.10 311.95,374.42" fill="none" stroke="#9aab45" stroke-width="0.42" stroke-linejoin="round"/>
<polyline points="164.00,354.79 177.45,360.74 190.90,364.85 204.35,363.54 217.80,365.37 231.25,362.91 244.70,362.02 258.15,361.33 271.60,365.07 285.05,364.42 298.50,367.14 311.95,368.66" fill="none" stroke="#9aab45" stroke-width="0.42" stroke-linejoin="round"/>
<polyline points="164.00,358.85 177.45,358.13 190.90,359.13 204.35,358.55 217.80,358.81 231.25,361.17 244.70,357.90 258.15,349.82 271.60,359.17 285.05,359.58 298.50,357.93 311.95,354.53" fill="none" stroke="#9aab45" stroke-width="0.42" stroke-linejoin="round"/>
<polygon points="164.00,292.33 177.45,302.84 190.90,312.04 204.35,333.06 217.80,344.36 231.25,346.98 244.70,348.82 258.15,348.82 271.60,337.00 285.05,323.86 298.50,297.59 311.95,284.45 311.95,326.49 298.50,333.06 285.05,340.42 271.60,342.25 258.15,377.72 244.70,379.04 231.25,361.96 217.80,348.82 204.35,333.58 190.90,331.74 177.45,325.18 164.00,317.82" fill="#b22234" stroke="none" stroke-width="1" fill-opacity="0.12"/>
<polyline points="164.00,292.33 177.45,302.84 190.90,312.04 204.35,333.06 217.80,344.36 231.25,346.98 244.70,348.82 258.15,348.82 271.60,337.00 285.05,323.86 298.50,297.59 311.95,284.45" fill="none" stroke="#d9a0a6" stroke-width="0.5" stroke-linejoin="round"/>
<polyline points="164.00,317.82 177.45,325.18 190.90,331.74 204.35,333.58 217.80,348.82 231.25,361.96 244.70,379.04 258.15,377.72 271.60,342.25 285.05,340.42 298.50,333.06 311.95,326.49" fill="none" stroke="#d9a0a6" stroke-width="0.5" stroke-linejoin="round"/>
<polyline points="164.00,366.40 177.45,366.40 190.90,366.40 204.35,366.40 217.80,366.40 231.25,366.40 244.70,366.40 258.15,366.40 271.60,366.40 285.05,366.40 298.50,366.40 311.95,366.40" fill="none" stroke="#889a2c" stroke-width="2.0" stroke-linejoin="round"/>
<polyline points="164.00,297.06 177.45,310.73 190.90,321.76 204.35,333.06 217.80,346.98 231.25,356.71 244.70,364.06 258.15,361.96 271.60,339.63 285.05,327.80 298.50,313.35 311.95,302.84" fill="none" stroke="#b3242c" stroke-width="1.8" stroke-linejoin="round"/>
</g>
<rect x="156.60" y="281.80" width="162.90" height="117.70" fill="none" stroke="#8e8e8e" stroke-width="0.9"/>
<line x1="164.00" y1="399.50" x2="164.00" y2="401.10" stroke="#555" stroke-width="0.6"/>
<text x="164.00" y="406.20" font-size="6.15" text-anchor="middle" font-weight="normal" fill="#2a2a2a" textLength="8.94" lengthAdjust="spacingAndGlyphs">Jan</text>
<line x1="177.45" y1="399.50" x2="177.45" y2="401.10" stroke="#555" stroke-width="0.6"/>
<text x="177.45" y="406.20" font-size="6.15" text-anchor="middle" font-weight="normal" fill="#2a2a2a" textLength="10.27" lengthAdjust="spacingAndGlyphs">Feb</text>
<line x1="190.90" y1="399.50" x2="190.90" y2="401.10" stroke="#555" stroke-width="0.6"/>
<text x="190.90" y="406.20" font-size="6.15" text-anchor="middle" font-weight="normal" fill="#2a2a2a" textLength="10.94" lengthAdjust="spacingAndGlyphs">Mar</text>
<line x1="204.35" y1="399.50" x2="204.35" y2="401.10" stroke="#555" stroke-width="0.6"/>
<text x="204.35" y="406.20" font-size="6.15" text-anchor="middle" font-weight="normal" fill="#2a2a2a" textLength="10.03" lengthAdjust="spacingAndGlyphs">Apr</text>
<line x1="217.80" y1="399.50" x2="217.80" y2="401.10" stroke="#555" stroke-width="0.6"/>
<text x="217.80" y="406.20" font-size="6.15" text-anchor="middle" font-weight="normal" fill="#2a2a2a" textLength="11.99" lengthAdjust="spacingAndGlyphs">May</text>
<line x1="231.25" y1="399.50" x2="231.25" y2="401.10" stroke="#555" stroke-width="0.6"/>
<text x="231.25" y="406.20" font-size="6.15" text-anchor="middle" font-weight="normal" fill="#2a2a2a" textLength="9.06" lengthAdjust="spacingAndGlyphs">Jun</text>
<line x1="244.70" y1="399.50" x2="244.70" y2="401.10" stroke="#555" stroke-width="0.6"/>
<text x="244.70" y="406.20" font-size="6.15" text-anchor="middle" font-weight="normal" fill="#2a2a2a" textLength="7.00" lengthAdjust="spacingAndGlyphs">Jul</text>
<line x1="258.15" y1="399.50" x2="258.15" y2="401.10" stroke="#555" stroke-width="0.6"/>
<text x="258.15" y="406.20" font-size="6.15" text-anchor="middle" font-weight="normal" fill="#2a2a2a" textLength="11.33" lengthAdjust="spacingAndGlyphs">Aug</text>
<line x1="271.60" y1="399.50" x2="271.60" y2="401.10" stroke="#555" stroke-width="0.6"/>
<text x="271.60" y="406.20" font-size="6.15" text-anchor="middle" font-weight="normal" fill="#2a2a2a" textLength="10.93" lengthAdjust="spacingAndGlyphs">Sep</text>
<line x1="285.05" y1="399.50" x2="285.05" y2="401.10" stroke="#555" stroke-width="0.6"/>
<text x="285.05" y="406.20" font-size="6.15" text-anchor="middle" font-weight="normal" fill="#2a2a2a" textLength="10.03" lengthAdjust="spacingAndGlyphs">Oct</text>
<line x1="298.50" y1="399.50" x2="298.50" y2="401.10" stroke="#555" stroke-width="0.6"/>
<text x="298.50" y="406.20" font-size="6.15" text-anchor="middle" font-weight="normal" fill="#2a2a2a" textLength="11.32" lengthAdjust="spacingAndGlyphs">Nov</text>
<line x1="311.95" y1="399.50" x2="311.95" y2="401.10" stroke="#555" stroke-width="0.6"/>
<text x="311.95" y="406.20" font-size="6.15" text-anchor="middle" font-weight="normal" fill="#2a2a2a" textLength="11.22" lengthAdjust="spacingAndGlyphs">Dec</text>
<line x1="155.00" y1="399.30" x2="156.60" y2="399.30" stroke="#555" stroke-width="0.6"/>
<line x1="155.00" y1="382.70" x2="156.60" y2="382.70" stroke="#555" stroke-width="0.6"/>
<line x1="155.00" y1="366.10" x2="156.60" y2="366.10" stroke="#555" stroke-width="0.6"/>
<line x1="155.00" y1="349.50" x2="156.60" y2="349.50" stroke="#555" stroke-width="0.6"/>
<line x1="155.00" y1="332.90" x2="156.60" y2="332.90" stroke="#555" stroke-width="0.6"/>
<line x1="155.00" y1="316.30" x2="156.60" y2="316.30" stroke="#555" stroke-width="0.6"/>
<line x1="155.00" y1="299.70" x2="156.60" y2="299.70" stroke="#555" stroke-width="0.6"/>
<line x1="155.00" y1="283.10" x2="156.60" y2="283.10" stroke="#555" stroke-width="0.6"/>
<clipPath id="c344_282"><rect x="344.50" y="282.00" width="162.30" height="117.40"/></clipPath>
<g clip-path="url(#c344_282)">
<polygon points="351.70,348.25 365.19,349.42 378.68,350.29 392.17,354.67 405.66,354.67 419.15,351.75 432.64,350.29 446.13,350.29 459.62,348.25 473.11,349.42 486.60,348.83 500.09,347.08 500.09,397.59 486.60,394.09 473.11,391.17 459.62,389.71 446.13,386.79 432.64,378.61 419.15,375.99 405.66,377.45 392.17,381.53 378.68,385.33 365.19,389.71 351.70,394.96" fill="#7a9a1a" stroke="none" stroke-width="1" fill-opacity="0.1"/>
<polyline points="351.70,348.25 365.19,349.42 378.68,350.29 392.17,354.67 405.66,357.59 419.15,360.51 432.64,363.43 446.13,364.89 459.62,360.51 473.11,357.59 486.60,354.67 500.09,357.59" fill="none" stroke="#9aab45" stroke-width="0.45" stroke-linejoin="round"/>
<polyline points="351.70,370.73 365.19,372.19 378.68,370.73 392.17,366.35 405.66,363.43 419.15,360.51 432.64,357.59 446.13,354.67 459.62,351.75 473.11,354.67 486.60,357.59 500.09,360.51" fill="none" stroke="#9aab45" stroke-width="0.45" stroke-linejoin="round"/>
<polyline points="351.70,394.96 365.19,389.71 378.68,385.33 392.17,381.53 405.66,377.45 419.15,375.99 432.64,378.61 446.13,386.79 459.62,389.71 473.11,391.17 486.60,394.09 500.09,397.59" fill="none" stroke="#9aab45" stroke-width="0.45" stroke-linejoin="round"/>
<polyline points="351.70,372.19 365.19,370.73 378.68,367.81 392.17,366.35 405.66,369.27 419.15,372.19 432.64,374.53 446.13,375.11 459.62,370.73 473.11,366.35 486.60,363.43 500.09,366.35" fill="none" stroke="#9aab45" stroke-width="0.45" stroke-linejoin="round"/>
<polyline points="351.70,352.83 365.19,350.91 378.68,351.14 392.17,355.21 405.66,357.10 419.15,354.69 432.64,355.39 446.13,360.59 459.62,359.90 473.11,360.83 486.60,357.17 500.09,359.83" fill="none" stroke="#9aab45" stroke-width="0.42" stroke-linejoin="round"/>
<polyline points="351.70,351.97 365.19,350.22 378.68,352.91 392.17,356.41 405.66,356.17 419.15,353.51 432.64,354.68 446.13,360.15 459.62,358.16 473.11,363.21 486.60,366.06 500.09,368.70" fill="none" stroke="#9aab45" stroke-width="0.42" stroke-linejoin="round"/>
<polyline points="351.70,388.37 365.19,382.26 378.68,378.71 392.17,375.21 405.66,370.94 419.15,367.32 432.64,371.35 446.13,381.55 459.62,387.50 473.11,390.33 486.60,392.16 500.09,393.15" fill="none" stroke="#9aab45" stroke-width="0.42" stroke-linejoin="round"/>
<polygon points="351.70,357.59 365.19,353.21 378.68,351.17 392.17,347.37 405.66,347.37 419.15,347.37 432.64,347.37 446.13,344.45 459.62,348.25 473.11,350.29 486.60,354.67 500.09,357.59 500.09,364.89 486.60,364.89 473.11,363.43 459.62,364.89 446.13,363.43 432.64,364.89 419.15,364.89 405.66,363.43 392.17,360.51 378.68,359.05 365.19,360.51 351.70,361.97" fill="#b22234" stroke="none" stroke-width="1" fill-opacity="0.12"/>
<polyline points="351.70,357.59 365.19,353.21 378.68,351.17 392.17,347.37 405.66,347.37 419.15,347.37 432.64,347.37 446.13,344.45 459.62,348.25 473.11,350.29 486.60,354.67 500.09,357.59" fill="none" stroke="#d9a0a6" stroke-width="0.5" stroke-linejoin="round"/>
<polyline points="351.70,361.97 365.19,360.51 378.68,359.05 392.17,360.51 405.66,363.43 419.15,364.89 432.64,364.89 446.13,363.43 459.62,364.89 473.11,363.43 486.60,364.89 500.09,364.89" fill="none" stroke="#d9a0a6" stroke-width="0.5" stroke-linejoin="round"/>
<polyline points="351.70,366.10 365.19,366.10 378.68,366.10 392.17,366.10 405.66,366.10 419.15,366.10 432.64,366.10 446.13,366.10 459.62,366.10 473.11,366.10 486.60,366.10 500.09,366.10" fill="none" stroke="#889a2c" stroke-width="2.0" stroke-linejoin="round"/>
<polyline points="351.70,360.51 365.19,357.01 378.68,354.67 392.17,353.80 405.66,355.26 419.15,355.55 432.64,356.42 446.13,355.26 459.62,357.59 473.11,357.01 486.60,360.51 500.09,362.26" fill="none" stroke="#b3242c" stroke-width="1.8" stroke-linejoin="round"/>
</g>
<rect x="344.50" y="282.00" width="162.30" height="117.40" fill="none" stroke="#8e8e8e" stroke-width="0.9"/>
<line x1="351.70" y1="399.40" x2="351.70" y2="401.00" stroke="#555" stroke-width="0.6"/>
<text x="351.70" y="406.20" font-size="6.15" text-anchor="middle" font-weight="normal" fill="#2a2a2a" textLength="8.94" lengthAdjust="spacingAndGlyphs">Jan</text>
<line x1="365.19" y1="399.40" x2="365.19" y2="401.00" stroke="#555" stroke-width="0.6"/>
<text x="365.19" y="406.20" font-size="6.15" text-anchor="middle" font-weight="normal" fill="#2a2a2a" textLength="10.27" lengthAdjust="spacingAndGlyphs">Feb</text>
<line x1="378.68" y1="399.40" x2="378.68" y2="401.00" stroke="#555" stroke-width="0.6"/>
<text x="378.68" y="406.20" font-size="6.15" text-anchor="middle" font-weight="normal" fill="#2a2a2a" textLength="10.94" lengthAdjust="spacingAndGlyphs">Mar</text>
<line x1="392.17" y1="399.40" x2="392.17" y2="401.00" stroke="#555" stroke-width="0.6"/>
<text x="392.17" y="406.20" font-size="6.15" text-anchor="middle" font-weight="normal" fill="#2a2a2a" textLength="10.03" lengthAdjust="spacingAndGlyphs">Apr</text>
<line x1="405.66" y1="399.40" x2="405.66" y2="401.00" stroke="#555" stroke-width="0.6"/>
<text x="405.66" y="406.20" font-size="6.15" text-anchor="middle" font-weight="normal" fill="#2a2a2a" textLength="11.99" lengthAdjust="spacingAndGlyphs">May</text>
<line x1="419.15" y1="399.40" x2="419.15" y2="401.00" stroke="#555" stroke-width="0.6"/>
<text x="419.15" y="406.20" font-size="6.15" text-anchor="middle" font-weight="normal" fill="#2a2a2a" textLength="9.06" lengthAdjust="spacingAndGlyphs">Jun</text>
<line x1="432.64" y1="399.40" x2="432.64" y2="401.00" stroke="#555" stroke-width="0.6"/>
<text x="432.64" y="406.20" font-size="6.15" text-anchor="middle" font-weight="normal" fill="#2a2a2a" textLength="7.00" lengthAdjust="spacingAndGlyphs">Jul</text>
<line x1="446.13" y1="399.40" x2="446.13" y2="401.00" stroke="#555" stroke-width="0.6"/>
<text x="446.13" y="406.20" font-size="6.15" text-anchor="middle" font-weight="normal" fill="#2a2a2a" textLength="11.33" lengthAdjust="spacingAndGlyphs">Aug</text>
<line x1="459.62" y1="399.40" x2="459.62" y2="401.00" stroke="#555" stroke-width="0.6"/>
<text x="459.62" y="406.20" font-size="6.15" text-anchor="middle" font-weight="normal" fill="#2a2a2a" textLength="10.93" lengthAdjust="spacingAndGlyphs">Sep</text>
<line x1="473.11" y1="399.40" x2="473.11" y2="401.00" stroke="#555" stroke-width="0.6"/>
<text x="473.11" y="406.20" font-size="6.15" text-anchor="middle" font-weight="normal" fill="#2a2a2a" textLength="10.03" lengthAdjust="spacingAndGlyphs">Oct</text>
<line x1="486.60" y1="399.40" x2="486.60" y2="401.00" stroke="#555" stroke-width="0.6"/>
<text x="486.60" y="406.20" font-size="6.15" text-anchor="middle" font-weight="normal" fill="#2a2a2a" textLength="11.32" lengthAdjust="spacingAndGlyphs">Nov</text>
<line x1="500.09" y1="399.40" x2="500.09" y2="401.00" stroke="#555" stroke-width="0.6"/>
<text x="500.09" y="406.20" font-size="6.15" text-anchor="middle" font-weight="normal" fill="#2a2a2a" textLength="11.22" lengthAdjust="spacingAndGlyphs">Dec</text>
<line x1="342.90" y1="283.10" x2="344.50" y2="283.10" stroke="#555" stroke-width="0.6"/>
<line x1="342.90" y1="299.70" x2="344.50" y2="299.70" stroke="#555" stroke-width="0.6"/>
<line x1="342.90" y1="316.30" x2="344.50" y2="316.30" stroke="#555" stroke-width="0.6"/>
<line x1="342.90" y1="332.90" x2="344.50" y2="332.90" stroke="#555" stroke-width="0.6"/>
<line x1="342.90" y1="349.50" x2="344.50" y2="349.50" stroke="#555" stroke-width="0.6"/>
<line x1="342.90" y1="366.10" x2="344.50" y2="366.10" stroke="#555" stroke-width="0.6"/>
<line x1="342.90" y1="382.70" x2="344.50" y2="382.70" stroke="#555" stroke-width="0.6"/>
<line x1="342.90" y1="399.30" x2="344.50" y2="399.30" stroke="#555" stroke-width="0.6"/>
<text x="343.10" y="285.30" font-size="6.15" text-anchor="end" font-weight="normal" fill="#333" textLength="9.22" lengthAdjust="spacingAndGlyphs">2.5</text>
<text x="343.10" y="301.90" font-size="6.15" text-anchor="end" font-weight="normal" fill="#333" textLength="9.22" lengthAdjust="spacingAndGlyphs">2.0</text>
<text x="343.10" y="318.50" font-size="6.15" text-anchor="end" font-weight="normal" fill="#333" textLength="9.22" lengthAdjust="spacingAndGlyphs">1.5</text>
<text x="343.10" y="335.10" font-size="6.15" text-anchor="end" font-weight="normal" fill="#333" textLength="9.22" lengthAdjust="spacingAndGlyphs">1.0</text>
<text x="343.10" y="351.70" font-size="6.15" text-anchor="end" font-weight="normal" fill="#333" textLength="9.22" lengthAdjust="spacingAndGlyphs">0.5</text>
<text x="343.10" y="368.30" font-size="6.15" text-anchor="end" font-weight="normal" fill="#333" textLength="9.22" lengthAdjust="spacingAndGlyphs">0.0</text>
<text x="343.10" y="384.90" font-size="6.15" text-anchor="end" font-weight="normal" fill="#333" textLength="14.08" lengthAdjust="spacingAndGlyphs">−0.5</text>
<text x="343.10" y="401.50" font-size="6.15" text-anchor="end" font-weight="normal" fill="#333" textLength="14.08" lengthAdjust="spacingAndGlyphs">−1.0</text>
<text x="328.60" y="340.10" font-size="6.0" text-anchor="middle" font-weight="normal" fill="#222" transform="rotate(-90 328.60 340.10)" textLength="104.67" lengthAdjust="spacingAndGlyphs">Maximum temperature anomaly (°C)</text>
<clipPath id="c157_415"><rect x="157.30" y="415.20" width="161.50" height="117.70"/></clipPath>
<g clip-path="url(#c157_415)">
<polygon points="163.10,489.67 176.64,482.37 190.18,479.45 203.72,485.29 217.26,482.37 230.80,477.99 244.34,475.07 257.88,474.20 271.42,477.99 284.96,485.29 298.50,492.59 312.04,492.59 312.04,513.03 298.50,514.49 284.96,517.41 271.42,515.95 257.88,517.41 244.34,517.41 230.80,515.95 217.26,518.87 203.72,520.33 190.18,523.25 176.64,524.71 163.10,521.79" fill="#7a9a1a" stroke="none" stroke-width="1" fill-opacity="0.1"/>
<polyline points="163.10,489.67 176.64,482.37 190.18,479.45 203.72,485.29 217.26,482.37 230.80,477.99 244.34,475.07 257.88,474.20 271.42,477.99 284.96,485.29 298.50,492.59 312.04,492.59" fill="none" stroke="#9aab45" stroke-width="0.45" stroke-linejoin="round"/>
<polyline points="163.10,492.59 176.64,489.67 190.18,492.59 203.72,489.67 217.26,486.75 230.80,485.29 244.34,483.83 257.88,483.83 271.42,486.75 284.96,489.67 298.50,492.59 312.04,495.51" fill="none" stroke="#9aab45" stroke-width="0.45" stroke-linejoin="round"/>
<polyline points="163.10,498.43 176.64,501.35 190.18,498.43 203.72,495.51 217.26,492.59 230.80,492.59 244.34,495.51 257.88,498.43 271.42,499.89 284.96,498.43 298.50,498.43 312.04,501.35" fill="none" stroke="#9aab45" stroke-width="0.45" stroke-linejoin="round"/>
<polyline points="163.10,507.19 176.64,510.11 190.18,511.57 203.72,510.11 217.26,508.65 230.80,507.19 244.34,505.73 257.88,504.27 271.42,505.73 284.96,507.19 298.50,505.73 312.04,505.73" fill="none" stroke="#9aab45" stroke-width="0.45" stroke-linejoin="round"/>
<polyline points="163.10,513.03 176.64,517.41 190.18,517.41 203.72,514.49 217.26,513.03 230.80,511.57 244.34,510.11 257.88,510.11 271.42,508.65 284.96,510.11 298.50,507.19 312.04,507.19" fill="none" stroke="#9aab45" stroke-width="0.45" stroke-linejoin="round"/>
<polyline points="163.10,521.79 176.64,524.71 190.18,523.25 203.72,520.33 217.26,518.87 230.80,515.95 244.34,517.41 257.88,517.41 271.42,515.95 284.96,517.41 298.50,514.49 312.04,513.03" fill="none" stroke="#9aab45" stroke-width="0.45" stroke-linejoin="round"/>
<polyline points="163.10,497.51 176.64,494.07 190.18,491.34 203.72,492.41 217.26,492.35 230.80,491.18 244.34,489.90 257.88,489.39 271.42,488.93 284.96,490.72 298.50,495.61 312.04,495.83" fill="none" stroke="#9aab45" stroke-width="0.42" stroke-linejoin="round"/>
<polyline points="163.10,495.54 176.64,487.39 190.18,481.84 203.72,485.99 217.26,487.46 230.80,485.46 244.34,487.21 257.88,487.79 271.42,485.69 284.96,490.48 298.50,496.12 312.04,494.00" fill="none" stroke="#9aab45" stroke-width="0.42" stroke-linejoin="round"/>
<polyline points="163.10,517.78 176.64,515.92 190.18,517.49 203.72,512.57 217.26,514.53 230.80,511.01 244.34,512.43 257.88,510.70 271.42,509.92 284.96,509.89 298.50,506.93 312.04,507.77" fill="none" stroke="#9aab45" stroke-width="0.42" stroke-linejoin="round"/>
<polyline points="163.10,500.23 176.64,493.32 190.18,495.71 203.72,501.61 217.26,501.60 230.80,500.39 244.34,500.87 257.88,502.91 271.42,499.78 284.96,503.54 298.50,506.75 312.04,504.34" fill="none" stroke="#9aab45" stroke-width="0.42" stroke-linejoin="round"/>
<polyline points="163.10,520.95 176.64,522.68 190.18,519.74 203.72,517.11 217.26,514.52 230.80,515.19 244.34,515.41 257.88,510.46 271.42,506.14 284.96,510.79 298.50,512.57 312.04,511.22" fill="none" stroke="#9aab45" stroke-width="0.42" stroke-linejoin="round"/>
<polyline points="163.10,505.87 176.64,506.25 190.18,501.23 203.72,503.63 217.26,501.97 230.80,499.49 244.34,495.81 257.88,491.94 271.42,492.20 284.96,500.60 298.50,502.22 312.04,502.06" fill="none" stroke="#9aab45" stroke-width="0.42" stroke-linejoin="round"/>
<polyline points="163.10,497.08 176.64,487.73 190.18,488.29 203.72,494.69 217.26,491.07 230.80,488.71 244.34,488.81 257.88,492.35 271.42,498.11 284.96,501.60 298.50,506.28 312.04,507.63" fill="none" stroke="#9aab45" stroke-width="0.42" stroke-linejoin="round"/>
<polyline points="163.10,511.30 176.64,510.79 190.18,507.54 203.72,505.64 217.26,506.86 230.80,500.38 244.34,495.67 257.88,498.39 271.42,501.74 284.96,505.25 298.50,507.97 312.04,504.75" fill="none" stroke="#9aab45" stroke-width="0.42" stroke-linejoin="round"/>
<polygon points="163.10,492.01 176.64,488.21 190.18,486.75 203.72,471.57 217.26,454.64 230.80,446.46 244.34,446.46 257.88,451.72 271.42,460.47 284.96,473.61 298.50,485.29 312.04,489.67 312.04,497.85 298.50,494.05 284.96,488.21 271.42,483.83 257.88,481.50 244.34,480.33 230.80,480.91 217.26,483.83 203.72,486.75 190.18,492.59 176.64,495.51 163.10,497.85" fill="#b22234" stroke="none" stroke-width="1" fill-opacity="0.12"/>
<polyline points="163.10,492.01 176.64,488.21 190.18,486.75 203.72,471.57 217.26,454.64 230.80,446.46 244.34,446.46 257.88,451.72 271.42,460.47 284.96,473.61 298.50,485.29 312.04,489.67" fill="none" stroke="#d9a0a6" stroke-width="0.5" stroke-linejoin="round"/>
<polyline points="163.10,497.85 176.64,495.51 190.18,492.59 203.72,486.75 217.26,483.83 230.80,480.91 244.34,480.33 257.88,481.50 271.42,483.83 284.96,488.21 298.50,494.05 312.04,497.85" fill="none" stroke="#d9a0a6" stroke-width="0.5" stroke-linejoin="round"/>
<polyline points="163.10,503.40 176.64,503.40 190.18,503.40 203.72,503.40 217.26,503.40 230.80,503.40 244.34,503.40 257.88,503.40 271.42,503.40 284.96,503.40 298.50,503.40 312.04,503.40" fill="none" stroke="#889a2c" stroke-width="2.0" stroke-linejoin="round"/>
<polyline points="163.10,492.62 176.64,493.81 190.18,495.00 203.72,493.33 217.26,492.62 230.80,491.90 244.34,490.95 257.88,491.43 271.42,492.62 284.96,493.81 298.50,495.71 312.04,493.81" fill="none" stroke="#2f9a2f" stroke-width="0.95" stroke-linejoin="round" stroke-dasharray="2.6,1.7"/>
<rect x="162.25" y="491.77" width="1.7" height="1.7" fill="#2f9a2f"/>
<rect x="175.79" y="492.96" width="1.7" height="1.7" fill="#2f9a2f"/>
<rect x="189.33" y="494.15" width="1.7" height="1.7" fill="#2f9a2f"/>
<rect x="202.87" y="492.48" width="1.7" height="1.7" fill="#2f9a2f"/>
<rect x="216.41" y="491.77" width="1.7" height="1.7" fill="#2f9a2f"/>
<rect x="229.95" y="491.05" width="1.7" height="1.7" fill="#2f9a2f"/>
<rect x="243.49" y="490.10" width="1.7" height="1.7" fill="#2f9a2f"/>
<rect x="257.03" y="490.58" width="1.7" height="1.7" fill="#2f9a2f"/>
<rect x="270.57" y="491.77" width="1.7" height="1.7" fill="#2f9a2f"/>
<rect x="284.11" y="492.96" width="1.7" height="1.7" fill="#2f9a2f"/>
<rect x="297.65" y="494.86" width="1.7" height="1.7" fill="#2f9a2f"/>
<rect x="311.19" y="492.96" width="1.7" height="1.7" fill="#2f9a2f"/>
<polyline points="163.10,496.67 176.64,498.10 190.18,497.38 203.72,496.67 217.26,496.19 230.80,495.00 244.34,494.29 257.88,495.00 271.42,496.19 284.96,497.38 298.50,498.57 312.04,497.38" fill="none" stroke="#2f9a2f" stroke-width="0.95" stroke-linejoin="round" stroke-dasharray="2.6,1.7"/>
<rect x="162.25" y="495.82" width="1.7" height="1.7" fill="#2f9a2f"/>
<rect x="175.79" y="497.25" width="1.7" height="1.7" fill="#2f9a2f"/>
<rect x="189.33" y="496.53" width="1.7" height="1.7" fill="#2f9a2f"/>
<rect x="202.87" y="495.82" width="1.7" height="1.7" fill="#2f9a2f"/>
<rect x="216.41" y="495.34" width="1.7" height="1.7" fill="#2f9a2f"/>
<rect x="229.95" y="494.15" width="1.7" height="1.7" fill="#2f9a2f"/>
<rect x="243.49" y="493.44" width="1.7" height="1.7" fill="#2f9a2f"/>
<rect x="257.03" y="494.15" width="1.7" height="1.7" fill="#2f9a2f"/>
<rect x="270.57" y="495.34" width="1.7" height="1.7" fill="#2f9a2f"/>
<rect x="284.11" y="496.53" width="1.7" height="1.7" fill="#2f9a2f"/>
<rect x="297.65" y="497.72" width="1.7" height="1.7" fill="#2f9a2f"/>
<rect x="311.19" y="496.53" width="1.7" height="1.7" fill="#2f9a2f"/>
<polyline points="163.10,505.24 176.64,506.90 190.18,508.10 203.72,508.57 217.26,507.62 230.80,508.57 244.34,510.00 257.88,510.48 271.42,508.57 284.96,507.62 298.50,505.71 312.04,505.24" fill="none" stroke="#2f9a2f" stroke-width="0.95" stroke-linejoin="round" stroke-dasharray="2.6,1.7"/>
<rect x="162.25" y="504.39" width="1.7" height="1.7" fill="#2f9a2f"/>
<rect x="175.79" y="506.05" width="1.7" height="1.7" fill="#2f9a2f"/>
<rect x="189.33" y="507.25" width="1.7" height="1.7" fill="#2f9a2f"/>
<rect x="202.87" y="507.72" width="1.7" height="1.7" fill="#2f9a2f"/>
<rect x="216.41" y="506.77" width="1.7" height="1.7" fill="#2f9a2f"/>
<rect x="229.95" y="507.72" width="1.7" height="1.7" fill="#2f9a2f"/>
<rect x="243.49" y="509.15" width="1.7" height="1.7" fill="#2f9a2f"/>
<rect x="257.03" y="509.63" width="1.7" height="1.7" fill="#2f9a2f"/>
<rect x="270.57" y="507.72" width="1.7" height="1.7" fill="#2f9a2f"/>
<rect x="284.11" y="506.77" width="1.7" height="1.7" fill="#2f9a2f"/>
<rect x="297.65" y="504.86" width="1.7" height="1.7" fill="#2f9a2f"/>
<rect x="311.19" y="504.39" width="1.7" height="1.7" fill="#2f9a2f"/>
<polyline points="163.10,508.10 176.64,509.29 190.18,510.95 203.72,511.67 217.26,512.38 230.80,512.86 244.34,514.05 257.88,513.33 271.42,510.95 284.96,509.29 298.50,507.62 312.04,506.90" fill="none" stroke="#2f9a2f" stroke-width="0.95" stroke-linejoin="round" stroke-dasharray="2.6,1.7"/>
<rect x="162.25" y="507.25" width="1.7" height="1.7" fill="#2f9a2f"/>
<rect x="175.79" y="508.44" width="1.7" height="1.7" fill="#2f9a2f"/>
<rect x="189.33" y="510.10" width="1.7" height="1.7" fill="#2f9a2f"/>
<rect x="202.87" y="510.82" width="1.7" height="1.7" fill="#2f9a2f"/>
<rect x="216.41" y="511.53" width="1.7" height="1.7" fill="#2f9a2f"/>
<rect x="229.95" y="512.01" width="1.7" height="1.7" fill="#2f9a2f"/>
<rect x="243.49" y="513.20" width="1.7" height="1.7" fill="#2f9a2f"/>
<rect x="257.03" y="512.48" width="1.7" height="1.7" fill="#2f9a2f"/>
<rect x="270.57" y="510.10" width="1.7" height="1.7" fill="#2f9a2f"/>
<rect x="284.11" y="508.44" width="1.7" height="1.7" fill="#2f9a2f"/>
<rect x="297.65" y="506.77" width="1.7" height="1.7" fill="#2f9a2f"/>
<rect x="311.19" y="506.05" width="1.7" height="1.7" fill="#2f9a2f"/>
<polyline points="163.10,484.76 176.64,487.14 190.18,489.52 203.72,487.86 217.26,486.19 230.80,491.43 244.34,496.19 257.88,496.67 271.42,498.10 284.96,498.57 298.50,490.24 312.04,483.81" fill="none" stroke="#111" stroke-width="1.1" stroke-linejoin="round" stroke-dasharray="2.6,1.7"/>
<rect x="162.10" y="483.76" width="2.0" height="2.0" fill="#111"/>
<rect x="175.64" y="486.14" width="2.0" height="2.0" fill="#111"/>
<rect x="189.18" y="488.52" width="2.0" height="2.0" fill="#111"/>
<rect x="202.72" y="486.86" width="2.0" height="2.0" fill="#111"/>
<rect x="216.26" y="485.19" width="2.0" height="2.0" fill="#111"/>
<rect x="229.80" y="490.43" width="2.0" height="2.0" fill="#111"/>
<rect x="243.34" y="495.19" width="2.0" height="2.0" fill="#111"/>
<rect x="256.88" y="495.67" width="2.0" height="2.0" fill="#111"/>
<rect x="270.42" y="497.10" width="2.0" height="2.0" fill="#111"/>
<rect x="283.96" y="497.57" width="2.0" height="2.0" fill="#111"/>
<rect x="297.50" y="489.24" width="2.0" height="2.0" fill="#111"/>
<rect x="311.04" y="482.81" width="2.0" height="2.0" fill="#111"/>
<polyline points="163.10,514.05 176.64,517.14 190.18,523.57 203.72,527.14 217.26,525.95 230.80,527.14 244.34,530.71 257.88,529.52 271.42,525.95 284.96,522.86 298.50,517.62 312.04,514.05" fill="none" stroke="#111" stroke-width="1.1" stroke-linejoin="round" stroke-dasharray="2.6,1.7"/>
<rect x="162.10" y="513.05" width="2.0" height="2.0" fill="#111"/>
<rect x="175.64" y="516.14" width="2.0" height="2.0" fill="#111"/>
<rect x="189.18" y="522.57" width="2.0" height="2.0" fill="#111"/>
<rect x="202.72" y="526.14" width="2.0" height="2.0" fill="#111"/>
<rect x="216.26" y="524.95" width="2.0" height="2.0" fill="#111"/>
<rect x="229.80" y="526.14" width="2.0" height="2.0" fill="#111"/>
<rect x="243.34" y="529.71" width="2.0" height="2.0" fill="#111"/>
<rect x="256.88" y="528.52" width="2.0" height="2.0" fill="#111"/>
<rect x="270.42" y="524.95" width="2.0" height="2.0" fill="#111"/>
<rect x="283.96" y="521.86" width="2.0" height="2.0" fill="#111"/>
<rect x="297.50" y="516.62" width="2.0" height="2.0" fill="#111"/>
<rect x="311.04" y="513.05" width="2.0" height="2.0" fill="#111"/>
<polyline points="163.10,508.10 176.64,510.48 190.18,514.76 203.72,516.43 217.26,518.81 230.80,521.19 244.34,525.24 257.88,524.29 271.42,520.00 284.96,516.43 298.50,512.38 312.04,509.29" fill="none" stroke="#111" stroke-width="1.1" stroke-linejoin="round" stroke-dasharray="2.6,1.7"/>
<rect x="162.10" y="507.10" width="2.0" height="2.0" fill="#111"/>
<rect x="175.64" y="509.48" width="2.0" height="2.0" fill="#111"/>
<rect x="189.18" y="513.76" width="2.0" height="2.0" fill="#111"/>
<rect x="202.72" y="515.43" width="2.0" height="2.0" fill="#111"/>
<rect x="216.26" y="517.81" width="2.0" height="2.0" fill="#111"/>
<rect x="229.80" y="520.19" width="2.0" height="2.0" fill="#111"/>
<rect x="243.34" y="524.24" width="2.0" height="2.0" fill="#111"/>
<rect x="256.88" y="523.29" width="2.0" height="2.0" fill="#111"/>
<rect x="270.42" y="519.00" width="2.0" height="2.0" fill="#111"/>
<rect x="283.96" y="515.43" width="2.0" height="2.0" fill="#111"/>
<rect x="297.50" y="511.38" width="2.0" height="2.0" fill="#111"/>
<rect x="311.04" y="508.29" width="2.0" height="2.0" fill="#111"/>
<polyline points="163.10,503.33 176.64,503.57 190.18,503.10 203.72,503.33 217.26,503.57 230.80,503.33 244.34,503.33 257.88,503.57 271.42,503.33 284.96,503.57 298.50,503.57 312.04,503.10" fill="none" stroke="#2e8b2e" stroke-width="1.8" stroke-linejoin="round"/>
<polyline points="163.10,500.95 176.64,503.33 190.18,506.19 203.72,507.62 217.26,506.90 230.80,509.29 244.34,512.86 257.88,511.67 271.42,510.48 284.96,508.57 298.50,505.24 312.04,500.48" fill="none" stroke="#111" stroke-width="1.8" stroke-linejoin="round"/>
<polyline points="163.10,494.93 176.64,492.59 190.18,489.67 203.72,479.45 217.26,469.82 230.80,465.73 244.34,464.85 257.88,467.77 271.42,475.07 284.96,483.25 298.50,491.13 312.04,495.51" fill="none" stroke="#b3242c" stroke-width="1.8" stroke-linejoin="round"/>
</g>
<rect x="157.30" y="415.20" width="161.50" height="117.70" fill="none" stroke="#8e8e8e" stroke-width="0.9"/>
<line x1="163.10" y1="532.90" x2="163.10" y2="534.50" stroke="#555" stroke-width="0.6"/>
<text x="163.10" y="539.60" font-size="6.15" text-anchor="middle" font-weight="normal" fill="#2a2a2a" textLength="8.94" lengthAdjust="spacingAndGlyphs">Jan</text>
<line x1="176.64" y1="532.90" x2="176.64" y2="534.50" stroke="#555" stroke-width="0.6"/>
<text x="176.64" y="539.60" font-size="6.15" text-anchor="middle" font-weight="normal" fill="#2a2a2a" textLength="10.27" lengthAdjust="spacingAndGlyphs">Feb</text>
<line x1="190.18" y1="532.90" x2="190.18" y2="534.50" stroke="#555" stroke-width="0.6"/>
<text x="190.18" y="539.60" font-size="6.15" text-anchor="middle" font-weight="normal" fill="#2a2a2a" textLength="10.94" lengthAdjust="spacingAndGlyphs">Mar</text>
<line x1="203.72" y1="532.90" x2="203.72" y2="534.50" stroke="#555" stroke-width="0.6"/>
<text x="203.72" y="539.60" font-size="6.15" text-anchor="middle" font-weight="normal" fill="#2a2a2a" textLength="10.03" lengthAdjust="spacingAndGlyphs">Apr</text>
<line x1="217.26" y1="532.90" x2="217.26" y2="534.50" stroke="#555" stroke-width="0.6"/>
<text x="217.26" y="539.60" font-size="6.15" text-anchor="middle" font-weight="normal" fill="#2a2a2a" textLength="11.99" lengthAdjust="spacingAndGlyphs">May</text>
<line x1="230.80" y1="532.90" x2="230.80" y2="534.50" stroke="#555" stroke-width="0.6"/>
<text x="230.80" y="539.60" font-size="6.15" text-anchor="middle" font-weight="normal" fill="#2a2a2a" textLength="9.06" lengthAdjust="spacingAndGlyphs">Jun</text>
<line x1="244.34" y1="532.90" x2="244.34" y2="534.50" stroke="#555" stroke-width="0.6"/>
<text x="244.34" y="539.60" font-size="6.15" text-anchor="middle" font-weight="normal" fill="#2a2a2a" textLength="7.00" lengthAdjust="spacingAndGlyphs">Jul</text>
<line x1="257.88" y1="532.90" x2="257.88" y2="534.50" stroke="#555" stroke-width="0.6"/>
<text x="257.88" y="539.60" font-size="6.15" text-anchor="middle" font-weight="normal" fill="#2a2a2a" textLength="11.33" lengthAdjust="spacingAndGlyphs">Aug</text>
<line x1="271.42" y1="532.90" x2="271.42" y2="534.50" stroke="#555" stroke-width="0.6"/>
<text x="271.42" y="539.60" font-size="6.15" text-anchor="middle" font-weight="normal" fill="#2a2a2a" textLength="10.93" lengthAdjust="spacingAndGlyphs">Sep</text>
<line x1="284.96" y1="532.90" x2="284.96" y2="534.50" stroke="#555" stroke-width="0.6"/>
<text x="284.96" y="539.60" font-size="6.15" text-anchor="middle" font-weight="normal" fill="#2a2a2a" textLength="10.03" lengthAdjust="spacingAndGlyphs">Oct</text>
<line x1="298.50" y1="532.90" x2="298.50" y2="534.50" stroke="#555" stroke-width="0.6"/>
<text x="298.50" y="539.60" font-size="6.15" text-anchor="middle" font-weight="normal" fill="#2a2a2a" textLength="11.32" lengthAdjust="spacingAndGlyphs">Nov</text>
<line x1="312.04" y1="532.90" x2="312.04" y2="534.50" stroke="#555" stroke-width="0.6"/>
<text x="312.04" y="539.60" font-size="6.15" text-anchor="middle" font-weight="normal" fill="#2a2a2a" textLength="11.22" lengthAdjust="spacingAndGlyphs">Dec</text>
<line x1="318.80" y1="415.35" x2="320.40" y2="415.35" stroke="#555" stroke-width="0.6"/>
<line x1="318.80" y1="430.02" x2="320.40" y2="430.02" stroke="#555" stroke-width="0.6"/>
<line x1="318.80" y1="444.70" x2="320.40" y2="444.70" stroke="#555" stroke-width="0.6"/>
<line x1="318.80" y1="459.38" x2="320.40" y2="459.38" stroke="#555" stroke-width="0.6"/>
<line x1="318.80" y1="474.05" x2="320.40" y2="474.05" stroke="#555" stroke-width="0.6"/>
<line x1="318.80" y1="488.72" x2="320.40" y2="488.72" stroke="#555" stroke-width="0.6"/>
<line x1="318.80" y1="503.40" x2="320.40" y2="503.40" stroke="#555" stroke-width="0.6"/>
<line x1="318.80" y1="518.07" x2="320.40" y2="518.07" stroke="#555" stroke-width="0.6"/>
<line x1="318.80" y1="532.75" x2="320.40" y2="532.75" stroke="#555" stroke-width="0.6"/>
<text x="334.60" y="417.55" font-size="6.15" text-anchor="end" font-weight="normal" fill="#333" textLength="9.22" lengthAdjust="spacingAndGlyphs">3.0</text>
<text x="334.60" y="432.22" font-size="6.15" text-anchor="end" font-weight="normal" fill="#333" textLength="9.22" lengthAdjust="spacingAndGlyphs">2.5</text>
<text x="334.60" y="446.90" font-size="6.15" text-anchor="end" font-weight="normal" fill="#333" textLength="9.22" lengthAdjust="spacingAndGlyphs">2.0</text>
<text x="334.60" y="461.57" font-size="6.15" text-anchor="end" font-weight="normal" fill="#333" textLength="9.22" lengthAdjust="spacingAndGlyphs">1.5</text>
<text x="334.60" y="476.25" font-size="6.15" text-anchor="end" font-weight="normal" fill="#333" textLength="9.22" lengthAdjust="spacingAndGlyphs">1.0</text>
<text x="334.60" y="490.92" font-size="6.15" text-anchor="end" font-weight="normal" fill="#333" textLength="9.22" lengthAdjust="spacingAndGlyphs">0.5</text>
<text x="334.60" y="505.60" font-size="6.15" text-anchor="end" font-weight="normal" fill="#333" textLength="9.22" lengthAdjust="spacingAndGlyphs">0.0</text>
<text x="334.60" y="520.27" font-size="6.15" text-anchor="end" font-weight="normal" fill="#333" textLength="14.08" lengthAdjust="spacingAndGlyphs">−0.5</text>
<text x="334.60" y="534.95" font-size="6.15" text-anchor="end" font-weight="normal" fill="#333" textLength="14.08" lengthAdjust="spacingAndGlyphs">−1.0</text>
<text x="341.90" y="472.50" font-size="6.0" text-anchor="middle" font-weight="normal" fill="#222" transform="rotate(-90 341.90 472.50)" textLength="104.67" lengthAdjust="spacingAndGlyphs">Maximum temperature anomaly (°C)</text>
<rect x="177.7" y="419.6" width="138.1" height="18.1" rx="1.5" fill="#fff" fill-opacity="0.85" stroke="#e2e2e2" stroke-width="0.6"/>
<line x1="179.50" y1="424.80" x2="192.00" y2="424.80" stroke="#b3242c" stroke-width="1.8"/>
<line x1="179.50" y1="433.00" x2="192.00" y2="433.00" stroke="#889a2c" stroke-width="2.0"/>
<text x="196.70" y="427.10" font-size="5.9" text-anchor="start" font-weight="normal" fill="#222" textLength="33.98" lengthAdjust="spacingAndGlyphs">Urban mean</text>
<text x="196.70" y="435.30" font-size="5.9" text-anchor="start" font-weight="normal" fill="#222" textLength="37.49" lengthAdjust="spacingAndGlyphs">Vicinity mean</text>
<line x1="244.50" y1="424.80" x2="257.00" y2="424.80" stroke="#111" stroke-width="1.5"/>
<line x1="244.50" y1="433.00" x2="257.00" y2="433.00" stroke="#2e8b2e" stroke-width="1.5"/>
<text x="260.90" y="427.10" font-size="5.9" text-anchor="start" font-weight="normal" fill="#222" textLength="47.20" lengthAdjust="spacingAndGlyphs">Urban obs. mean</text>
<text x="260.90" y="435.30" font-size="5.9" text-anchor="start" font-weight="normal" fill="#222" textLength="50.71" lengthAdjust="spacingAndGlyphs">Vicinity obs. mean</text>
<clipPath id="c157_548"><rect x="157.30" y="548.10" width="161.50" height="118.30"/></clipPath>
<g clip-path="url(#c157_548)">
<polygon points="163.30,623.33 176.90,622.86 190.50,622.14 204.10,623.33 217.70,623.33 231.30,622.14 244.90,622.86 258.50,623.33 272.10,623.81 285.70,624.52 299.30,625.71 312.90,625.24 312.90,649.52 299.30,650.00 285.70,651.43 272.10,652.38 258.50,653.81 244.90,653.10 231.30,651.43 217.70,650.71 204.10,651.43 190.50,652.38 176.90,653.81 163.30,652.38" fill="#7a9a1a" stroke="none" stroke-width="1" fill-opacity="0.1"/>
<polyline points="163.30,623.33 176.90,622.86 190.50,622.14 204.10,623.33 217.70,623.33 231.30,622.14 244.90,622.86 258.50,623.33 272.10,623.81 285.70,624.52 299.30,625.71 312.90,625.24" fill="none" stroke="#9aab45" stroke-width="0.45" stroke-linejoin="round"/>
<polyline points="163.30,625.71 176.90,626.19 190.50,625.71 204.10,626.90 217.70,625.71 231.30,625.24 244.90,625.71 258.50,626.90 272.10,627.62 285.70,628.10 299.30,629.29 312.90,628.10" fill="none" stroke="#9aab45" stroke-width="0.45" stroke-linejoin="round"/>
<polyline points="163.30,630.48 176.90,630.95 190.50,631.67 204.10,630.95 217.70,630.48 231.30,630.00 244.90,630.48 258.50,630.95 272.10,631.67 285.70,630.95 299.30,630.48 312.90,630.00" fill="none" stroke="#9aab45" stroke-width="0.45" stroke-linejoin="round"/>
<polyline points="163.30,637.62 176.90,638.81 190.50,640.00 204.10,638.81 217.70,637.62 231.30,638.81 244.90,640.00 258.50,640.48 272.10,639.52 285.70,638.81 299.30,637.62 312.90,637.14" fill="none" stroke="#9aab45" stroke-width="0.45" stroke-linejoin="round"/>
<polyline points="163.30,644.76 176.90,645.95 190.50,647.14 204.10,646.67 217.70,645.24 231.30,645.95 244.90,647.62 258.50,648.33 272.10,646.67 285.70,645.24 299.30,644.29 312.90,643.57" fill="none" stroke="#9aab45" stroke-width="0.45" stroke-linejoin="round"/>
<polyline points="163.30,652.38 176.90,653.81 190.50,652.38 204.10,651.43 217.70,650.71 231.30,651.43 244.90,653.10 258.50,653.81 272.10,652.38 285.70,651.43 299.30,650.00 312.90,649.52" fill="none" stroke="#9aab45" stroke-width="0.45" stroke-linejoin="round"/>
<polyline points="163.30,640.62 176.90,643.63 190.50,640.82 204.10,641.71 217.70,643.81 231.30,646.92 244.90,646.16 258.50,647.93 272.10,647.68 285.70,647.02 299.30,648.74 312.90,648.43" fill="none" stroke="#9aab45" stroke-width="0.42" stroke-linejoin="round"/>
<polyline points="163.30,639.52 176.90,641.11 190.50,638.53 204.10,637.28 217.70,636.90 231.30,633.50 244.90,635.37 258.50,637.67 272.10,636.74 285.70,638.94 299.30,641.22 312.90,641.07" fill="none" stroke="#9aab45" stroke-width="0.42" stroke-linejoin="round"/>
<polyline points="163.30,639.93 176.90,637.24 190.50,639.68 204.10,638.18 217.70,635.91 231.30,638.39 244.90,641.44 258.50,639.31 272.10,637.56 285.70,635.81 299.30,634.58 312.90,631.23" fill="none" stroke="#9aab45" stroke-width="0.42" stroke-linejoin="round"/>
<polyline points="163.30,637.14 176.90,636.78 190.50,633.46 204.10,631.22 217.70,627.95 231.30,629.70 244.90,632.46 258.50,633.45 272.10,630.71 285.70,628.76 299.30,627.32 312.90,625.77" fill="none" stroke="#9aab45" stroke-width="0.42" stroke-linejoin="round"/>
<polyline points="163.30,624.73 176.90,623.48 190.50,622.75 204.10,624.93 217.70,624.61 231.30,623.33 244.90,623.46 258.50,624.23 272.10,626.60 285.70,625.92 299.30,626.20 312.90,625.72" fill="none" stroke="#9aab45" stroke-width="0.42" stroke-linejoin="round"/>
<polyline points="163.30,636.65 176.90,634.16 190.50,635.89 204.10,632.84 217.70,632.87 231.30,631.95 244.90,631.64 258.50,635.03 272.10,636.16 285.70,633.98 299.30,634.22 312.90,634.40" fill="none" stroke="#9aab45" stroke-width="0.42" stroke-linejoin="round"/>
<polyline points="163.30,623.91 176.90,624.23 190.50,625.15 204.10,625.88 217.70,625.30 231.30,624.30 244.90,623.46 258.50,626.70 272.10,630.13 285.70,630.36 299.30,628.19 312.90,627.11" fill="none" stroke="#9aab45" stroke-width="0.42" stroke-linejoin="round"/>
<polyline points="163.30,644.56 176.90,642.54 190.50,639.09 204.10,640.51 217.70,640.87 231.30,639.40 244.90,641.57 258.50,644.10 272.10,646.48 285.70,648.01 299.30,646.53 312.90,647.86" fill="none" stroke="#9aab45" stroke-width="0.42" stroke-linejoin="round"/>
<polygon points="163.30,635.70 176.90,641.60 190.50,628.40 204.10,605.00 217.70,580.30 231.30,564.20 244.90,574.40 258.50,586.10 272.10,609.50 285.70,619.70 299.30,624.00 312.90,627.80 312.90,651.80 299.30,644.50 285.70,635.70 272.10,622.60 258.50,603.60 244.90,596.30 231.30,593.40 217.70,603.60 204.10,622.60 190.50,640.10 176.90,656.20 163.30,650.30" fill="#b22234" stroke="none" stroke-width="1" fill-opacity="0.12"/>
<polyline points="163.30,635.70 176.90,641.60 190.50,628.40 204.10,605.00 217.70,580.30 231.30,564.20 244.90,574.40 258.50,586.10 272.10,609.50 285.70,619.70 299.30,624.00 312.90,627.80" fill="none" stroke="#d49aa0" stroke-width="0.45" stroke-linejoin="round"/>
<polyline points="163.30,650.30 176.90,656.20 190.50,640.10 204.10,622.60 217.70,603.60 231.30,593.40 244.90,596.30 258.50,603.60 272.10,622.60 285.70,635.70 299.30,644.50 312.90,651.80" fill="none" stroke="#d49aa0" stroke-width="0.45" stroke-linejoin="round"/>
<polyline points="163.30,638.00 176.90,644.00 190.50,632.00 204.10,612.00 217.70,588.00 231.30,572.00 244.90,580.00 258.50,592.00 272.10,612.00 285.70,626.00 299.30,632.00 312.90,633.00" fill="none" stroke="#d49aa0" stroke-width="0.45" stroke-linejoin="round"/>
<polyline points="163.30,644.00 176.90,650.00 190.50,637.00 204.10,617.00 217.70,598.00 231.30,586.00 244.90,590.00 258.50,600.00 272.10,618.00 285.70,630.00 299.30,637.00 312.90,641.00" fill="none" stroke="#d49aa0" stroke-width="0.45" stroke-linejoin="round"/>
<polyline points="163.30,646.00 176.90,652.00 190.50,636.00 204.10,614.00 217.70,592.00 231.30,578.00 244.90,586.00 258.50,596.00 272.10,614.00 285.70,628.00 299.30,634.00 312.90,638.00" fill="none" stroke="#d49aa0" stroke-width="0.45" stroke-linejoin="round"/>
<polyline points="163.30,636.60 176.90,636.60 190.50,636.60 204.10,636.60 217.70,636.60 231.30,636.60 244.90,636.60 258.50,636.60 272.10,636.60 285.70,636.60 299.30,636.60 312.90,636.60" fill="none" stroke="#889a2c" stroke-width="2.0" stroke-linejoin="round"/>
<polyline points="163.30,629.29 176.90,630.00 190.50,632.38 204.10,628.57 217.70,628.10 231.30,626.90 244.90,625.71 258.50,626.19 272.10,627.62 285.70,630.00 299.30,631.67 312.90,629.29" fill="none" stroke="#2f9a2f" stroke-width="0.95" stroke-linejoin="round" stroke-dasharray="2.6,1.7"/>
<rect x="162.45" y="628.44" width="1.7" height="1.7" fill="#2f9a2f"/>
<rect x="176.05" y="629.15" width="1.7" height="1.7" fill="#2f9a2f"/>
<rect x="189.65" y="631.53" width="1.7" height="1.7" fill="#2f9a2f"/>
<rect x="203.25" y="627.72" width="1.7" height="1.7" fill="#2f9a2f"/>
<rect x="216.85" y="627.25" width="1.7" height="1.7" fill="#2f9a2f"/>
<rect x="230.45" y="626.05" width="1.7" height="1.7" fill="#2f9a2f"/>
<rect x="244.05" y="624.86" width="1.7" height="1.7" fill="#2f9a2f"/>
<rect x="257.65" y="625.34" width="1.7" height="1.7" fill="#2f9a2f"/>
<rect x="271.25" y="626.77" width="1.7" height="1.7" fill="#2f9a2f"/>
<rect x="284.85" y="629.15" width="1.7" height="1.7" fill="#2f9a2f"/>
<rect x="298.45" y="630.82" width="1.7" height="1.7" fill="#2f9a2f"/>
<rect x="312.05" y="628.44" width="1.7" height="1.7" fill="#2f9a2f"/>
<polyline points="163.30,632.38 176.90,634.05 190.50,632.86 204.10,633.33 217.70,632.38 231.30,630.00 244.90,629.29 258.50,629.29 272.10,630.48 285.70,632.38 299.30,634.05 312.90,632.86" fill="none" stroke="#2f9a2f" stroke-width="0.95" stroke-linejoin="round" stroke-dasharray="2.6,1.7"/>
<rect x="162.45" y="631.53" width="1.7" height="1.7" fill="#2f9a2f"/>
<rect x="176.05" y="633.20" width="1.7" height="1.7" fill="#2f9a2f"/>
<rect x="189.65" y="632.01" width="1.7" height="1.7" fill="#2f9a2f"/>
<rect x="203.25" y="632.48" width="1.7" height="1.7" fill="#2f9a2f"/>
<rect x="216.85" y="631.53" width="1.7" height="1.7" fill="#2f9a2f"/>
<rect x="230.45" y="629.15" width="1.7" height="1.7" fill="#2f9a2f"/>
<rect x="244.05" y="628.44" width="1.7" height="1.7" fill="#2f9a2f"/>
<rect x="257.65" y="628.44" width="1.7" height="1.7" fill="#2f9a2f"/>
<rect x="271.25" y="629.63" width="1.7" height="1.7" fill="#2f9a2f"/>
<rect x="284.85" y="631.53" width="1.7" height="1.7" fill="#2f9a2f"/>
<rect x="298.45" y="633.20" width="1.7" height="1.7" fill="#2f9a2f"/>
<rect x="312.05" y="632.01" width="1.7" height="1.7" fill="#2f9a2f"/>
<polyline points="163.30,640.00 176.90,641.90 190.50,643.57 204.10,644.29 217.70,642.38 231.30,641.90 244.90,644.76 258.50,645.24 272.10,642.38 285.70,641.19 299.30,638.81 312.90,639.52" fill="none" stroke="#2f9a2f" stroke-width="0.95" stroke-linejoin="round" stroke-dasharray="2.6,1.7"/>
<rect x="162.45" y="639.15" width="1.7" height="1.7" fill="#2f9a2f"/>
<rect x="176.05" y="641.05" width="1.7" height="1.7" fill="#2f9a2f"/>
<rect x="189.65" y="642.72" width="1.7" height="1.7" fill="#2f9a2f"/>
<rect x="203.25" y="643.44" width="1.7" height="1.7" fill="#2f9a2f"/>
<rect x="216.85" y="641.53" width="1.7" height="1.7" fill="#2f9a2f"/>
<rect x="230.45" y="641.05" width="1.7" height="1.7" fill="#2f9a2f"/>
<rect x="244.05" y="643.91" width="1.7" height="1.7" fill="#2f9a2f"/>
<rect x="257.65" y="644.39" width="1.7" height="1.7" fill="#2f9a2f"/>
<rect x="271.25" y="641.53" width="1.7" height="1.7" fill="#2f9a2f"/>
<rect x="284.85" y="640.34" width="1.7" height="1.7" fill="#2f9a2f"/>
<rect x="298.45" y="637.96" width="1.7" height="1.7" fill="#2f9a2f"/>
<rect x="312.05" y="638.67" width="1.7" height="1.7" fill="#2f9a2f"/>
<polyline points="163.30,643.57 176.90,645.24 190.50,647.14 204.10,645.95 217.70,645.24 231.30,647.14 244.90,648.33 258.50,646.67 272.10,644.29 285.70,643.57 299.30,642.38 312.90,641.19" fill="none" stroke="#2f9a2f" stroke-width="0.95" stroke-linejoin="round" stroke-dasharray="2.6,1.7"/>
<rect x="162.45" y="642.72" width="1.7" height="1.7" fill="#2f9a2f"/>
<rect x="176.05" y="644.39" width="1.7" height="1.7" fill="#2f9a2f"/>
<rect x="189.65" y="646.29" width="1.7" height="1.7" fill="#2f9a2f"/>
<rect x="203.25" y="645.10" width="1.7" height="1.7" fill="#2f9a2f"/>
<rect x="216.85" y="644.39" width="1.7" height="1.7" fill="#2f9a2f"/>
<rect x="230.45" y="646.29" width="1.7" height="1.7" fill="#2f9a2f"/>
<rect x="244.05" y="647.48" width="1.7" height="1.7" fill="#2f9a2f"/>
<rect x="257.65" y="645.82" width="1.7" height="1.7" fill="#2f9a2f"/>
<rect x="271.25" y="643.44" width="1.7" height="1.7" fill="#2f9a2f"/>
<rect x="284.85" y="642.72" width="1.7" height="1.7" fill="#2f9a2f"/>
<rect x="298.45" y="641.53" width="1.7" height="1.7" fill="#2f9a2f"/>
<rect x="312.05" y="640.34" width="1.7" height="1.7" fill="#2f9a2f"/>
<polyline points="163.30,618.10 176.90,619.76 190.50,622.86 204.10,621.43 217.70,619.05 231.30,624.52 244.90,628.10 258.50,629.29 272.10,630.48 285.70,631.67 299.30,623.33 312.90,616.67" fill="none" stroke="#111" stroke-width="1.1" stroke-linejoin="round" stroke-dasharray="2.6,1.7"/>
<rect x="162.30" y="617.10" width="2.0" height="2.0" fill="#111"/>
<rect x="175.90" y="618.76" width="2.0" height="2.0" fill="#111"/>
<rect x="189.50" y="621.86" width="2.0" height="2.0" fill="#111"/>
<rect x="203.10" y="620.43" width="2.0" height="2.0" fill="#111"/>
<rect x="216.70" y="618.05" width="2.0" height="2.0" fill="#111"/>
<rect x="230.30" y="623.52" width="2.0" height="2.0" fill="#111"/>
<rect x="243.90" y="627.10" width="2.0" height="2.0" fill="#111"/>
<rect x="257.50" y="628.29" width="2.0" height="2.0" fill="#111"/>
<rect x="271.10" y="629.48" width="2.0" height="2.0" fill="#111"/>
<rect x="284.70" y="630.67" width="2.0" height="2.0" fill="#111"/>
<rect x="298.30" y="622.33" width="2.0" height="2.0" fill="#111"/>
<rect x="311.90" y="615.67" width="2.0" height="2.0" fill="#111"/>
<polyline points="163.30,647.14 176.90,651.43 190.50,654.29 204.10,660.24 217.70,658.57 231.30,660.48 244.90,665.00 258.50,663.33 272.10,660.24 285.70,657.38 299.30,651.43 312.90,646.67" fill="none" stroke="#111" stroke-width="1.1" stroke-linejoin="round" stroke-dasharray="2.6,1.7"/>
<rect x="162.30" y="646.14" width="2.0" height="2.0" fill="#111"/>
<rect x="175.90" y="650.43" width="2.0" height="2.0" fill="#111"/>
<rect x="189.50" y="653.29" width="2.0" height="2.0" fill="#111"/>
<rect x="203.10" y="659.24" width="2.0" height="2.0" fill="#111"/>
<rect x="216.70" y="657.57" width="2.0" height="2.0" fill="#111"/>
<rect x="230.30" y="659.48" width="2.0" height="2.0" fill="#111"/>
<rect x="243.90" y="664.00" width="2.0" height="2.0" fill="#111"/>
<rect x="257.50" y="662.33" width="2.0" height="2.0" fill="#111"/>
<rect x="271.10" y="659.24" width="2.0" height="2.0" fill="#111"/>
<rect x="284.70" y="656.38" width="2.0" height="2.0" fill="#111"/>
<rect x="298.30" y="650.43" width="2.0" height="2.0" fill="#111"/>
<rect x="311.90" y="645.67" width="2.0" height="2.0" fill="#111"/>
<polyline points="163.30,647.14 176.90,650.71 190.50,652.38 204.10,654.29 217.70,653.81 231.30,656.19 244.90,659.05 258.50,657.86 272.10,653.81 285.70,650.71 299.30,648.33 312.90,645.95" fill="none" stroke="#111" stroke-width="1.1" stroke-linejoin="round" stroke-dasharray="2.6,1.7"/>
<rect x="162.30" y="646.14" width="2.0" height="2.0" fill="#111"/>
<rect x="175.90" y="649.71" width="2.0" height="2.0" fill="#111"/>
<rect x="189.50" y="651.38" width="2.0" height="2.0" fill="#111"/>
<rect x="203.10" y="653.29" width="2.0" height="2.0" fill="#111"/>
<rect x="216.70" y="652.81" width="2.0" height="2.0" fill="#111"/>
<rect x="230.30" y="655.19" width="2.0" height="2.0" fill="#111"/>
<rect x="243.90" y="658.05" width="2.0" height="2.0" fill="#111"/>
<rect x="257.50" y="656.86" width="2.0" height="2.0" fill="#111"/>
<rect x="271.10" y="652.81" width="2.0" height="2.0" fill="#111"/>
<rect x="284.70" y="649.71" width="2.0" height="2.0" fill="#111"/>
<rect x="298.30" y="647.33" width="2.0" height="2.0" fill="#111"/>
<rect x="311.90" y="644.95" width="2.0" height="2.0" fill="#111"/>
<polyline points="163.30,635.95 176.90,636.19 190.50,635.71 204.10,635.95 217.70,636.19 231.30,635.95 244.90,635.95 258.50,636.19 272.10,635.95 285.70,636.19 299.30,636.19 312.90,635.71" fill="none" stroke="#2e8b2e" stroke-width="1.8" stroke-linejoin="round"/>
<polyline points="163.30,634.05 176.90,636.43 190.50,640.00 204.10,641.19 217.70,640.48 231.30,641.90 244.90,645.95 258.50,644.76 272.10,643.57 285.70,642.38 299.30,637.62 312.90,633.33" fill="none" stroke="#111" stroke-width="1.8" stroke-linejoin="round"/>
<polyline points="163.30,641.60 176.90,646.00 190.50,635.70 204.10,619.70 217.70,595.70 231.30,582.60 244.90,589.00 258.50,597.80 272.10,615.30 285.70,631.40 299.30,635.70 312.90,637.20" fill="none" stroke="#b3242c" stroke-width="1.8" stroke-linejoin="round"/>
</g>
<rect x="157.30" y="548.10" width="161.50" height="118.30" fill="none" stroke="#8e8e8e" stroke-width="0.9"/>
<line x1="163.30" y1="666.40" x2="163.30" y2="668.00" stroke="#555" stroke-width="0.6"/>
<text x="163.30" y="673.20" font-size="6.15" text-anchor="middle" font-weight="normal" fill="#2a2a2a" textLength="8.94" lengthAdjust="spacingAndGlyphs">Jan</text>
<line x1="176.90" y1="666.40" x2="176.90" y2="668.00" stroke="#555" stroke-width="0.6"/>
<text x="176.90" y="673.20" font-size="6.15" text-anchor="middle" font-weight="normal" fill="#2a2a2a" textLength="10.27" lengthAdjust="spacingAndGlyphs">Feb</text>
<line x1="190.50" y1="666.40" x2="190.50" y2="668.00" stroke="#555" stroke-width="0.6"/>
<text x="190.50" y="673.20" font-size="6.15" text-anchor="middle" font-weight="normal" fill="#2a2a2a" textLength="10.94" lengthAdjust="spacingAndGlyphs">Mar</text>
<line x1="204.10" y1="666.40" x2="204.10" y2="668.00" stroke="#555" stroke-width="0.6"/>
<text x="204.10" y="673.20" font-size="6.15" text-anchor="middle" font-weight="normal" fill="#2a2a2a" textLength="10.03" lengthAdjust="spacingAndGlyphs">Apr</text>
<line x1="217.70" y1="666.40" x2="217.70" y2="668.00" stroke="#555" stroke-width="0.6"/>
<text x="217.70" y="673.20" font-size="6.15" text-anchor="middle" font-weight="normal" fill="#2a2a2a" textLength="11.99" lengthAdjust="spacingAndGlyphs">May</text>
<line x1="231.30" y1="666.40" x2="231.30" y2="668.00" stroke="#555" stroke-width="0.6"/>
<text x="231.30" y="673.20" font-size="6.15" text-anchor="middle" font-weight="normal" fill="#2a2a2a" textLength="9.06" lengthAdjust="spacingAndGlyphs">Jun</text>
<line x1="244.90" y1="666.40" x2="244.90" y2="668.00" stroke="#555" stroke-width="0.6"/>
<text x="244.90" y="673.20" font-size="6.15" text-anchor="middle" font-weight="normal" fill="#2a2a2a" textLength="7.00" lengthAdjust="spacingAndGlyphs">Jul</text>
<line x1="258.50" y1="666.40" x2="258.50" y2="668.00" stroke="#555" stroke-width="0.6"/>
<text x="258.50" y="673.20" font-size="6.15" text-anchor="middle" font-weight="normal" fill="#2a2a2a" textLength="11.33" lengthAdjust="spacingAndGlyphs">Aug</text>
<line x1="272.10" y1="666.40" x2="272.10" y2="668.00" stroke="#555" stroke-width="0.6"/>
<text x="272.10" y="673.20" font-size="6.15" text-anchor="middle" font-weight="normal" fill="#2a2a2a" textLength="10.93" lengthAdjust="spacingAndGlyphs">Sep</text>
<line x1="285.70" y1="666.40" x2="285.70" y2="668.00" stroke="#555" stroke-width="0.6"/>
<text x="285.70" y="673.20" font-size="6.15" text-anchor="middle" font-weight="normal" fill="#2a2a2a" textLength="10.03" lengthAdjust="spacingAndGlyphs">Oct</text>
<line x1="299.30" y1="666.40" x2="299.30" y2="668.00" stroke="#555" stroke-width="0.6"/>
<text x="299.30" y="673.20" font-size="6.15" text-anchor="middle" font-weight="normal" fill="#2a2a2a" textLength="11.32" lengthAdjust="spacingAndGlyphs">Nov</text>
<line x1="312.90" y1="666.40" x2="312.90" y2="668.00" stroke="#555" stroke-width="0.6"/>
<text x="312.90" y="673.20" font-size="6.15" text-anchor="middle" font-weight="normal" fill="#2a2a2a" textLength="11.22" lengthAdjust="spacingAndGlyphs">Dec</text>
<line x1="318.80" y1="548.10" x2="320.40" y2="548.10" stroke="#555" stroke-width="0.6"/>
<line x1="318.80" y1="562.85" x2="320.40" y2="562.85" stroke="#555" stroke-width="0.6"/>
<line x1="318.80" y1="577.60" x2="320.40" y2="577.60" stroke="#555" stroke-width="0.6"/>
<line x1="318.80" y1="592.35" x2="320.40" y2="592.35" stroke="#555" stroke-width="0.6"/>
<line x1="318.80" y1="607.10" x2="320.40" y2="607.10" stroke="#555" stroke-width="0.6"/>
<line x1="318.80" y1="621.85" x2="320.40" y2="621.85" stroke="#555" stroke-width="0.6"/>
<line x1="318.80" y1="636.60" x2="320.40" y2="636.60" stroke="#555" stroke-width="0.6"/>
<line x1="318.80" y1="651.35" x2="320.40" y2="651.35" stroke="#555" stroke-width="0.6"/>
<line x1="318.80" y1="666.10" x2="320.40" y2="666.10" stroke="#555" stroke-width="0.6"/>
<clipPath id="c344_548"><rect x="344.20" y="548.10" width="162.60" height="118.30"/></clipPath>
<g clip-path="url(#c344_548)">
<polygon points="350.90,625.91 364.44,627.11 377.98,625.91 391.52,624.71 405.06,623.52 418.60,623.52 432.14,624.00 445.68,625.43 459.22,625.91 472.76,625.91 486.30,627.83 499.84,627.11 499.84,649.85 486.30,651.05 472.76,653.44 459.22,657.03 445.68,659.43 432.14,658.23 418.60,655.84 405.06,653.44 391.52,652.72 377.98,651.05 364.44,651.77 350.90,649.85" fill="#7a9a1a" stroke="none" stroke-width="1" fill-opacity="0.1"/>
<polyline points="350.90,625.91 364.44,627.11 377.98,625.91 391.52,624.71 405.06,623.52 418.60,623.52 432.14,624.00 445.68,625.43 459.22,625.91 472.76,625.91 486.30,627.83 499.84,627.11" fill="none" stroke="#9aab45" stroke-width="0.45" stroke-linejoin="round"/>
<polyline points="350.90,628.31 364.44,628.78 377.98,627.83 391.52,625.91 405.06,624.71 418.60,624.71 432.14,625.91 445.68,627.11 459.22,628.31 472.76,628.78 486.30,630.22 499.84,629.50" fill="none" stroke="#9aab45" stroke-width="0.45" stroke-linejoin="round"/>
<polyline points="350.90,637.88 364.44,639.08 377.98,640.28 391.52,640.75 405.06,640.28 418.60,641.47 432.14,643.87 445.68,644.58 459.22,642.67 472.76,640.28 486.30,639.08 499.84,637.88" fill="none" stroke="#9aab45" stroke-width="0.45" stroke-linejoin="round"/>
<polyline points="350.90,641.47 364.44,643.15 377.98,644.58 391.52,645.54 405.06,646.26 418.60,647.46 432.14,649.85 445.68,651.05 459.22,648.65 472.76,645.54 486.30,643.15 499.84,641.47" fill="none" stroke="#9aab45" stroke-width="0.45" stroke-linejoin="round"/>
<polyline points="350.90,645.06 364.44,646.98 377.98,647.94 391.52,649.37 405.06,650.33 418.60,652.25 432.14,654.64 445.68,655.84 459.22,652.72 472.76,649.37 486.30,646.98 499.84,645.06" fill="none" stroke="#9aab45" stroke-width="0.45" stroke-linejoin="round"/>
<polyline points="350.90,649.85 364.44,651.77 377.98,651.05 391.52,652.72 405.06,653.44 418.60,655.84 432.14,658.23 445.68,659.43 459.22,657.03 472.76,653.44 486.30,651.05 499.84,649.85" fill="none" stroke="#9aab45" stroke-width="0.45" stroke-linejoin="round"/>
<polyline points="350.90,636.15 364.44,639.80 377.98,636.90 391.52,635.11 405.06,631.24 418.60,628.88 432.14,625.64 445.68,626.11 459.22,626.64 472.76,629.79 486.30,632.17 499.84,630.70" fill="none" stroke="#9aab45" stroke-width="0.42" stroke-linejoin="round"/>
<polyline points="350.90,636.93 364.44,637.43 377.98,633.86 391.52,635.87 405.06,636.28 418.60,634.29 432.14,631.88 445.68,629.95 459.22,633.47 472.76,630.01 486.30,631.98 499.84,633.74" fill="none" stroke="#9aab45" stroke-width="0.42" stroke-linejoin="round"/>
<polyline points="350.90,627.21 364.44,628.31 377.98,629.65 391.52,626.79 405.06,624.12 418.60,624.16 432.14,624.68 445.68,627.53 459.22,630.20 472.76,629.28 486.30,628.29 499.84,628.73" fill="none" stroke="#9aab45" stroke-width="0.42" stroke-linejoin="round"/>
<polyline points="350.90,643.87 364.44,644.59 377.98,645.73 391.52,647.67 405.06,648.69 418.60,651.02 432.14,650.94 445.68,651.82 459.22,652.27 472.76,650.44 486.30,647.66 499.84,648.28" fill="none" stroke="#9aab45" stroke-width="0.42" stroke-linejoin="round"/>
<polyline points="350.90,642.57 364.44,642.24 377.98,639.67 391.52,636.78 405.06,638.23 418.60,640.54 432.14,642.39 445.68,647.73 459.22,645.25 472.76,641.03 486.30,638.42 499.84,636.61" fill="none" stroke="#9aab45" stroke-width="0.42" stroke-linejoin="round"/>
<polyline points="350.90,645.78 364.44,644.96 377.98,643.71 391.52,641.51 405.06,642.34 418.60,640.92 432.14,639.80 445.68,642.29 459.22,643.85 472.76,642.57 486.30,640.73 499.84,640.54" fill="none" stroke="#9aab45" stroke-width="0.42" stroke-linejoin="round"/>
<polyline points="350.90,630.14 364.44,630.12 377.98,630.12 391.52,630.25 405.06,627.23 418.60,630.17 432.14,633.76 445.68,633.32 459.22,636.58 472.76,633.78 486.30,632.04 499.84,631.30" fill="none" stroke="#9aab45" stroke-width="0.42" stroke-linejoin="round"/>
<polyline points="350.90,646.32 364.44,648.40 377.98,647.54 391.52,647.37 405.06,646.28 418.60,647.35 432.14,649.63 445.68,654.50 459.22,649.33 472.76,644.99 486.30,646.39 499.84,646.15" fill="none" stroke="#9aab45" stroke-width="0.42" stroke-linejoin="round"/>
<polygon points="350.90,623.52 364.44,623.52 377.98,620.64 391.52,613.94 405.06,606.76 418.60,603.17 432.14,604.84 445.68,607.96 459.22,611.55 472.76,618.25 486.30,625.91 499.84,624.71 499.84,630.22 486.30,630.70 472.76,628.31 459.22,627.83 445.68,626.39 432.14,625.43 418.60,624.00 405.06,624.71 391.52,625.91 377.98,628.31 364.44,630.22 350.90,630.22" fill="#b22234" stroke="none" stroke-width="1" fill-opacity="0.12"/>
<polyline points="350.90,623.52 364.44,623.52 377.98,620.64 391.52,613.94 405.06,606.76 418.60,603.17 432.14,604.84 445.68,607.96 459.22,611.55 472.76,618.25 486.30,625.91 499.84,624.71" fill="none" stroke="#c98c92" stroke-width="0.45" stroke-linejoin="round"/>
<polyline points="350.90,630.22 364.44,630.22 377.98,628.31 391.52,625.91 405.06,624.71 418.60,624.00 432.14,625.43 445.68,626.39 459.22,627.83 472.76,628.31 486.30,630.70 499.84,630.22" fill="none" stroke="#c98c92" stroke-width="0.45" stroke-linejoin="round"/>
<polyline points="350.90,623.52 364.44,623.52 377.98,620.64 391.52,613.94 405.06,606.76 418.60,603.17 432.14,604.84 445.68,607.96 459.22,611.55 472.76,618.25 486.30,625.91 499.84,624.71" fill="none" stroke="#c98c92" stroke-width="0.45" stroke-linejoin="round"/>
<polyline points="350.90,626.39 364.44,627.11 377.98,624.71 391.52,619.93 405.06,613.94 418.60,612.03 432.14,613.46 445.68,615.86 459.22,618.73 472.76,622.32 486.30,627.83 499.84,626.39" fill="none" stroke="#c98c92" stroke-width="0.45" stroke-linejoin="round"/>
<polyline points="350.90,628.31 364.44,628.78 377.98,627.11 391.52,623.52 405.06,619.93 418.60,618.25 432.14,619.93 445.68,621.60 459.22,624.00 472.76,625.91 486.30,629.50 499.84,628.31" fill="none" stroke="#c98c92" stroke-width="0.45" stroke-linejoin="round"/>
<polyline points="350.90,633.03 364.44,633.39 377.98,632.32 391.52,630.52 405.06,628.72 418.60,628.37 432.14,629.08 445.68,629.80 459.22,630.52 472.76,631.96 486.30,633.75 499.84,633.25" fill="none" stroke="#b9a078" stroke-width="0.45" stroke-linejoin="round"/>
<polyline points="350.90,631.61 364.44,632.11 377.98,630.60 391.52,628.09 405.06,625.57 418.60,625.07 432.14,626.08 445.68,627.08 459.22,628.09 472.76,630.10 486.30,632.61 499.84,631.91" fill="none" stroke="#b9a078" stroke-width="0.45" stroke-linejoin="round"/>
<polyline points="350.90,630.18 364.44,630.83 377.98,628.89 391.52,625.66 405.06,622.42 418.60,621.78 432.14,623.07 445.68,624.36 459.22,625.66 472.76,628.24 486.30,631.47 499.84,630.57" fill="none" stroke="#b9a078" stroke-width="0.45" stroke-linejoin="round"/>
<polyline points="350.90,628.76 364.44,629.55 377.98,627.18 391.52,623.22 405.06,619.27 418.60,618.48 432.14,620.06 445.68,621.64 459.22,623.22 472.76,626.39 486.30,630.34 499.84,629.23" fill="none" stroke="#b9a078" stroke-width="0.45" stroke-linejoin="round"/>
<polyline points="350.90,627.33 364.44,628.26 377.98,625.46 391.52,620.79 405.06,616.12 418.60,615.19 432.14,617.06 445.68,618.93 459.22,620.79 472.76,624.53 486.30,629.20 499.84,627.89" fill="none" stroke="#b9a078" stroke-width="0.45" stroke-linejoin="round"/>
<polyline points="350.90,626.50 364.44,627.51 377.98,624.46 391.52,619.37 405.06,614.29 418.60,613.27 432.14,615.30 445.68,617.34 459.22,619.37 472.76,623.44 486.30,628.53 499.84,627.11" fill="none" stroke="#c98c92" stroke-width="0.45" stroke-linejoin="round"/>
<polyline points="350.90,625.66 364.44,626.77 377.98,623.46 391.52,617.96 405.06,612.45 418.60,611.35 432.14,613.55 445.68,615.75 459.22,617.96 472.76,622.36 486.30,627.87 499.84,626.33" fill="none" stroke="#c98c92" stroke-width="0.45" stroke-linejoin="round"/>
<polygon points="350.90,625.31 364.44,626.45 377.98,623.03 391.52,617.35 405.06,611.66 418.60,610.52 432.14,612.80 445.68,615.07 459.22,617.35 472.76,621.90 486.30,627.58 499.84,625.99 499.84,633.25 486.30,633.75 472.76,631.96 459.22,630.52 445.68,629.80 432.14,629.08 418.60,628.37 405.06,628.72 391.52,630.52 377.98,632.32 364.44,633.39 350.90,633.03" fill="#8a6a2a" stroke="none" stroke-width="1" fill-opacity="0.08"/>
<polyline points="350.90,636.60 364.44,636.60 377.98,636.60 391.52,636.60 405.06,636.60 418.60,636.60 432.14,636.60 445.68,636.60 459.22,636.60 472.76,636.60 486.30,636.60 499.84,636.60" fill="none" stroke="#889a2c" stroke-width="2.0" stroke-linejoin="round"/>
<polyline points="350.90,629.50 364.44,630.22 377.98,632.61 391.52,628.78 405.06,628.31 418.60,627.11 432.14,625.91 445.68,626.39 459.22,627.83 472.76,630.22 486.30,631.90 499.84,629.50" fill="none" stroke="#2f9a2f" stroke-width="0.95" stroke-linejoin="round" stroke-dasharray="2.6,1.7"/>
<rect x="350.05" y="628.65" width="1.7" height="1.7" fill="#2f9a2f"/>
<rect x="363.59" y="629.37" width="1.7" height="1.7" fill="#2f9a2f"/>
<rect x="377.13" y="631.76" width="1.7" height="1.7" fill="#2f9a2f"/>
<rect x="390.67" y="627.93" width="1.7" height="1.7" fill="#2f9a2f"/>
<rect x="404.21" y="627.46" width="1.7" height="1.7" fill="#2f9a2f"/>
<rect x="417.75" y="626.26" width="1.7" height="1.7" fill="#2f9a2f"/>
<rect x="431.29" y="625.06" width="1.7" height="1.7" fill="#2f9a2f"/>
<rect x="444.83" y="625.54" width="1.7" height="1.7" fill="#2f9a2f"/>
<rect x="458.37" y="626.98" width="1.7" height="1.7" fill="#2f9a2f"/>
<rect x="471.91" y="629.37" width="1.7" height="1.7" fill="#2f9a2f"/>
<rect x="485.45" y="631.05" width="1.7" height="1.7" fill="#2f9a2f"/>
<rect x="498.99" y="628.65" width="1.7" height="1.7" fill="#2f9a2f"/>
<polyline points="350.90,632.61 364.44,634.29 377.98,633.09 391.52,633.57 405.06,632.61 418.60,630.22 432.14,629.50 445.68,629.50 459.22,630.70 472.76,632.61 486.30,634.29 499.84,633.09" fill="none" stroke="#2f9a2f" stroke-width="0.95" stroke-linejoin="round" stroke-dasharray="2.6,1.7"/>
<rect x="350.05" y="631.76" width="1.7" height="1.7" fill="#2f9a2f"/>
<rect x="363.59" y="633.44" width="1.7" height="1.7" fill="#2f9a2f"/>
<rect x="377.13" y="632.24" width="1.7" height="1.7" fill="#2f9a2f"/>
<rect x="390.67" y="632.72" width="1.7" height="1.7" fill="#2f9a2f"/>
<rect x="404.21" y="631.76" width="1.7" height="1.7" fill="#2f9a2f"/>
<rect x="417.75" y="629.37" width="1.7" height="1.7" fill="#2f9a2f"/>
<rect x="431.29" y="628.65" width="1.7" height="1.7" fill="#2f9a2f"/>
<rect x="444.83" y="628.65" width="1.7" height="1.7" fill="#2f9a2f"/>
<rect x="458.37" y="629.85" width="1.7" height="1.7" fill="#2f9a2f"/>
<rect x="471.91" y="631.76" width="1.7" height="1.7" fill="#2f9a2f"/>
<rect x="485.45" y="633.44" width="1.7" height="1.7" fill="#2f9a2f"/>
<rect x="498.99" y="632.24" width="1.7" height="1.7" fill="#2f9a2f"/>
<polyline points="350.90,640.28 364.44,642.19 377.98,643.87 391.52,644.58 405.06,642.67 418.60,642.19 432.14,645.06 445.68,645.54 459.22,642.67 472.76,641.47 486.30,639.08 499.84,639.80" fill="none" stroke="#2f9a2f" stroke-width="0.95" stroke-linejoin="round" stroke-dasharray="2.6,1.7"/>
<rect x="350.05" y="639.43" width="1.7" height="1.7" fill="#2f9a2f"/>
<rect x="363.59" y="641.34" width="1.7" height="1.7" fill="#2f9a2f"/>
<rect x="377.13" y="643.02" width="1.7" height="1.7" fill="#2f9a2f"/>
<rect x="390.67" y="643.73" width="1.7" height="1.7" fill="#2f9a2f"/>
<rect x="404.21" y="641.82" width="1.7" height="1.7" fill="#2f9a2f"/>
<rect x="417.75" y="641.34" width="1.7" height="1.7" fill="#2f9a2f"/>
<rect x="431.29" y="644.21" width="1.7" height="1.7" fill="#2f9a2f"/>
<rect x="444.83" y="644.69" width="1.7" height="1.7" fill="#2f9a2f"/>
<rect x="458.37" y="641.82" width="1.7" height="1.7" fill="#2f9a2f"/>
<rect x="471.91" y="640.62" width="1.7" height="1.7" fill="#2f9a2f"/>
<rect x="485.45" y="638.23" width="1.7" height="1.7" fill="#2f9a2f"/>
<rect x="498.99" y="638.95" width="1.7" height="1.7" fill="#2f9a2f"/>
<polyline points="350.90,643.87 364.44,645.54 377.98,647.46 391.52,646.26 405.06,645.54 418.60,647.46 432.14,648.65 445.68,646.98 459.22,644.58 472.76,643.87 486.30,642.67 499.84,641.47" fill="none" stroke="#2f9a2f" stroke-width="0.95" stroke-linejoin="round" stroke-dasharray="2.6,1.7"/>
<rect x="350.05" y="643.02" width="1.7" height="1.7" fill="#2f9a2f"/>
<rect x="363.59" y="644.69" width="1.7" height="1.7" fill="#2f9a2f"/>
<rect x="377.13" y="646.61" width="1.7" height="1.7" fill="#2f9a2f"/>
<rect x="390.67" y="645.41" width="1.7" height="1.7" fill="#2f9a2f"/>
<rect x="404.21" y="644.69" width="1.7" height="1.7" fill="#2f9a2f"/>
<rect x="417.75" y="646.61" width="1.7" height="1.7" fill="#2f9a2f"/>
<rect x="431.29" y="647.80" width="1.7" height="1.7" fill="#2f9a2f"/>
<rect x="444.83" y="646.13" width="1.7" height="1.7" fill="#2f9a2f"/>
<rect x="458.37" y="643.73" width="1.7" height="1.7" fill="#2f9a2f"/>
<rect x="471.91" y="643.02" width="1.7" height="1.7" fill="#2f9a2f"/>
<rect x="485.45" y="641.82" width="1.7" height="1.7" fill="#2f9a2f"/>
<rect x="498.99" y="640.62" width="1.7" height="1.7" fill="#2f9a2f"/>
<polyline points="350.90,617.53 364.44,619.93 377.98,622.32 391.52,621.12 405.06,618.73 418.60,623.52 432.14,628.31 445.68,629.50 459.22,630.22 472.76,631.18 486.30,623.52 499.84,616.33" fill="none" stroke="#111" stroke-width="1.1" stroke-linejoin="round" stroke-dasharray="2.6,1.7"/>
<rect x="349.90" y="616.53" width="2.0" height="2.0" fill="#111"/>
<rect x="363.44" y="618.93" width="2.0" height="2.0" fill="#111"/>
<rect x="376.98" y="621.32" width="2.0" height="2.0" fill="#111"/>
<rect x="390.52" y="620.12" width="2.0" height="2.0" fill="#111"/>
<rect x="404.06" y="617.73" width="2.0" height="2.0" fill="#111"/>
<rect x="417.60" y="622.52" width="2.0" height="2.0" fill="#111"/>
<rect x="431.14" y="627.31" width="2.0" height="2.0" fill="#111"/>
<rect x="444.68" y="628.50" width="2.0" height="2.0" fill="#111"/>
<rect x="458.22" y="629.22" width="2.0" height="2.0" fill="#111"/>
<rect x="471.76" y="630.18" width="2.0" height="2.0" fill="#111"/>
<rect x="485.30" y="622.52" width="2.0" height="2.0" fill="#111"/>
<rect x="498.84" y="615.33" width="2.0" height="2.0" fill="#111"/>
<polyline points="350.90,646.98 364.44,651.05 377.98,657.03 391.52,660.62 405.06,658.23 418.60,659.43 432.14,659.43 445.68,657.03 459.22,652.25 472.76,649.85 486.30,647.46 499.84,646.98" fill="none" stroke="#111" stroke-width="1.1" stroke-linejoin="round" stroke-dasharray="2.6,1.7"/>
<rect x="349.90" y="645.98" width="2.0" height="2.0" fill="#111"/>
<rect x="363.44" y="650.05" width="2.0" height="2.0" fill="#111"/>
<rect x="376.98" y="656.03" width="2.0" height="2.0" fill="#111"/>
<rect x="390.52" y="659.62" width="2.0" height="2.0" fill="#111"/>
<rect x="404.06" y="657.23" width="2.0" height="2.0" fill="#111"/>
<rect x="417.60" y="658.43" width="2.0" height="2.0" fill="#111"/>
<rect x="431.14" y="658.43" width="2.0" height="2.0" fill="#111"/>
<rect x="444.68" y="656.03" width="2.0" height="2.0" fill="#111"/>
<rect x="458.22" y="651.25" width="2.0" height="2.0" fill="#111"/>
<rect x="471.76" y="648.85" width="2.0" height="2.0" fill="#111"/>
<rect x="485.30" y="646.46" width="2.0" height="2.0" fill="#111"/>
<rect x="498.84" y="645.98" width="2.0" height="2.0" fill="#111"/>
<polyline points="350.90,646.98 364.44,651.05 377.98,654.16 391.52,655.84 405.06,658.23 418.60,661.82 432.14,664.69 445.68,663.02 459.22,659.43 472.76,656.55 486.30,651.05 499.84,647.46" fill="none" stroke="#111" stroke-width="1.1" stroke-linejoin="round" stroke-dasharray="2.6,1.7"/>
<rect x="349.90" y="645.98" width="2.0" height="2.0" fill="#111"/>
<rect x="363.44" y="650.05" width="2.0" height="2.0" fill="#111"/>
<rect x="376.98" y="653.16" width="2.0" height="2.0" fill="#111"/>
<rect x="390.52" y="654.84" width="2.0" height="2.0" fill="#111"/>
<rect x="404.06" y="657.23" width="2.0" height="2.0" fill="#111"/>
<rect x="417.60" y="660.82" width="2.0" height="2.0" fill="#111"/>
<rect x="431.14" y="663.69" width="2.0" height="2.0" fill="#111"/>
<rect x="444.68" y="662.02" width="2.0" height="2.0" fill="#111"/>
<rect x="458.22" y="658.43" width="2.0" height="2.0" fill="#111"/>
<rect x="471.76" y="655.55" width="2.0" height="2.0" fill="#111"/>
<rect x="485.30" y="650.05" width="2.0" height="2.0" fill="#111"/>
<rect x="498.84" y="646.46" width="2.0" height="2.0" fill="#111"/>
<polyline points="350.90,635.49 364.44,635.73 377.98,635.25 391.52,635.49 405.06,635.73 418.60,635.49 432.14,635.49 445.68,635.73 459.22,635.49 472.76,635.73 486.30,635.73 499.84,635.25" fill="none" stroke="#2e8b2e" stroke-width="1.8" stroke-linejoin="round"/>
<polyline points="350.90,634.29 364.44,636.68 377.98,640.28 391.52,641.47 405.06,640.28 418.60,643.15 432.14,646.26 445.68,645.06 459.22,643.87 472.76,642.19 486.30,637.88 499.84,633.57" fill="none" stroke="#111" stroke-width="1.8" stroke-linejoin="round"/>
<polyline points="350.90,624.71 364.44,625.91 377.98,622.32 391.52,616.33 405.06,610.35 418.60,609.15 432.14,611.55 445.68,613.94 459.22,616.33 472.76,621.12 486.30,627.11 499.84,625.43" fill="none" stroke="#b3242c" stroke-width="1.8" stroke-linejoin="round"/>
</g>
<rect x="344.20" y="548.10" width="162.60" height="118.30" fill="none" stroke="#8e8e8e" stroke-width="0.9"/>
<line x1="350.90" y1="666.40" x2="350.90" y2="668.00" stroke="#555" stroke-width="0.6"/>
<text x="350.90" y="673.20" font-size="6.15" text-anchor="middle" font-weight="normal" fill="#2a2a2a" textLength="8.94" lengthAdjust="spacingAndGlyphs">Jan</text>
<line x1="364.44" y1="666.40" x2="364.44" y2="668.00" stroke="#555" stroke-width="0.6"/>
<text x="364.44" y="673.20" font-size="6.15" text-anchor="middle" font-weight="normal" fill="#2a2a2a" textLength="10.27" lengthAdjust="spacingAndGlyphs">Feb</text>
<line x1="377.98" y1="666.40" x2="377.98" y2="668.00" stroke="#555" stroke-width="0.6"/>
<text x="377.98" y="673.20" font-size="6.15" text-anchor="middle" font-weight="normal" fill="#2a2a2a" textLength="10.94" lengthAdjust="spacingAndGlyphs">Mar</text>
<line x1="391.52" y1="666.40" x2="391.52" y2="668.00" stroke="#555" stroke-width="0.6"/>
<text x="391.52" y="673.20" font-size="6.15" text-anchor="middle" font-weight="normal" fill="#2a2a2a" textLength="10.03" lengthAdjust="spacingAndGlyphs">Apr</text>
<line x1="405.06" y1="666.40" x2="405.06" y2="668.00" stroke="#555" stroke-width="0.6"/>
<text x="405.06" y="673.20" font-size="6.15" text-anchor="middle" font-weight="normal" fill="#2a2a2a" textLength="11.99" lengthAdjust="spacingAndGlyphs">May</text>
<line x1="418.60" y1="666.40" x2="418.60" y2="668.00" stroke="#555" stroke-width="0.6"/>
<text x="418.60" y="673.20" font-size="6.15" text-anchor="middle" font-weight="normal" fill="#2a2a2a" textLength="9.06" lengthAdjust="spacingAndGlyphs">Jun</text>
<line x1="432.14" y1="666.40" x2="432.14" y2="668.00" stroke="#555" stroke-width="0.6"/>
<text x="432.14" y="673.20" font-size="6.15" text-anchor="middle" font-weight="normal" fill="#2a2a2a" textLength="7.00" lengthAdjust="spacingAndGlyphs">Jul</text>
<line x1="445.68" y1="666.40" x2="445.68" y2="668.00" stroke="#555" stroke-width="0.6"/>
<text x="445.68" y="673.20" font-size="6.15" text-anchor="middle" font-weight="normal" fill="#2a2a2a" textLength="11.33" lengthAdjust="spacingAndGlyphs">Aug</text>
<line x1="459.22" y1="666.40" x2="459.22" y2="668.00" stroke="#555" stroke-width="0.6"/>
<text x="459.22" y="673.20" font-size="6.15" text-anchor="middle" font-weight="normal" fill="#2a2a2a" textLength="10.93" lengthAdjust="spacingAndGlyphs">Sep</text>
<line x1="472.76" y1="666.40" x2="472.76" y2="668.00" stroke="#555" stroke-width="0.6"/>
<text x="472.76" y="673.20" font-size="6.15" text-anchor="middle" font-weight="normal" fill="#2a2a2a" textLength="10.03" lengthAdjust="spacingAndGlyphs">Oct</text>
<line x1="486.30" y1="666.40" x2="486.30" y2="668.00" stroke="#555" stroke-width="0.6"/>
<text x="486.30" y="673.20" font-size="6.15" text-anchor="middle" font-weight="normal" fill="#2a2a2a" textLength="11.32" lengthAdjust="spacingAndGlyphs">Nov</text>
<line x1="499.84" y1="666.40" x2="499.84" y2="668.00" stroke="#555" stroke-width="0.6"/>
<text x="499.84" y="673.20" font-size="6.15" text-anchor="middle" font-weight="normal" fill="#2a2a2a" textLength="11.22" lengthAdjust="spacingAndGlyphs">Dec</text>
<line x1="342.60" y1="548.10" x2="344.20" y2="548.10" stroke="#555" stroke-width="0.6"/>
<line x1="342.60" y1="562.85" x2="344.20" y2="562.85" stroke="#555" stroke-width="0.6"/>
<line x1="342.60" y1="577.60" x2="344.20" y2="577.60" stroke="#555" stroke-width="0.6"/>
<line x1="342.60" y1="592.35" x2="344.20" y2="592.35" stroke="#555" stroke-width="0.6"/>
<line x1="342.60" y1="607.10" x2="344.20" y2="607.10" stroke="#555" stroke-width="0.6"/>
<line x1="342.60" y1="621.85" x2="344.20" y2="621.85" stroke="#555" stroke-width="0.6"/>
<line x1="342.60" y1="636.60" x2="344.20" y2="636.60" stroke="#555" stroke-width="0.6"/>
<line x1="342.60" y1="651.35" x2="344.20" y2="651.35" stroke="#555" stroke-width="0.6"/>
<line x1="342.60" y1="666.10" x2="344.20" y2="666.10" stroke="#555" stroke-width="0.6"/>
<text x="343.10" y="550.30" font-size="6.15" text-anchor="end" font-weight="normal" fill="#333" textLength="9.22" lengthAdjust="spacingAndGlyphs">3.0</text>
<text x="343.10" y="565.05" font-size="6.15" text-anchor="end" font-weight="normal" fill="#333" textLength="9.22" lengthAdjust="spacingAndGlyphs">2.5</text>
<text x="343.10" y="579.80" font-size="6.15" text-anchor="end" font-weight="normal" fill="#333" textLength="9.22" lengthAdjust="spacingAndGlyphs">2.0</text>
<text x="343.10" y="594.55" font-size="6.15" text-anchor="end" font-weight="normal" fill="#333" textLength="9.22" lengthAdjust="spacingAndGlyphs">1.5</text>
<text x="343.10" y="609.30" font-size="6.15" text-anchor="end" font-weight="normal" fill="#333" textLength="9.22" lengthAdjust="spacingAndGlyphs">1.0</text>
<text x="343.10" y="624.05" font-size="6.15" text-anchor="end" font-weight="normal" fill="#333" textLength="9.22" lengthAdjust="spacingAndGlyphs">0.5</text>
<text x="343.10" y="638.80" font-size="6.15" text-anchor="end" font-weight="normal" fill="#333" textLength="9.22" lengthAdjust="spacingAndGlyphs">0.0</text>
<text x="343.10" y="653.55" font-size="6.15" text-anchor="end" font-weight="normal" fill="#333" textLength="14.08" lengthAdjust="spacingAndGlyphs">−0.5</text>
<text x="343.10" y="668.30" font-size="6.15" text-anchor="end" font-weight="normal" fill="#333" textLength="14.08" lengthAdjust="spacingAndGlyphs">−1.0</text>
<text x="328.60" y="605.50" font-size="6.0" text-anchor="middle" font-weight="normal" fill="#222" transform="rotate(-90 328.60 605.50)" textLength="104.67" lengthAdjust="spacingAndGlyphs">Maximum temperature anomaly (°C)</text>
<clipPath id="m21_16"><rect x="21.50" y="16.50" width="128.00" height="117.50"/></clipPath>
<g clip-path="url(#m21_16)">
<g transform="matrix(12.0700 0.6200 -0.9000 11.1500 29.300 16.500)">
<rect x="0" y="0" width="1.08" height="1.08" fill="#f2f1ff"/>
<rect x="1" y="0" width="1.08" height="1.08" fill="#dad7fe"/>
<rect x="2" y="0" width="1.08" height="1.08" fill="#c0bafe"/>
<rect x="3" y="0" width="1.08" height="1.08" fill="#978efd"/>
<rect x="4" y="0" width="1.08" height="1.08" fill="#5040fc"/>
<rect x="5" y="0" width="1.08" height="1.08" fill="#7265fd"/>
<rect x="6" y="0" width="1.08" height="1.08" fill="#5040fc"/>
<rect x="7" y="0" width="1.08" height="1.08" fill="#5040fc"/>
<rect x="8" y="0" width="1.08" height="1.08" fill="#5040fc"/>
<rect x="9" y="0" width="1.08" height="1.08" fill="#5040fc"/>
<rect x="0" y="1" width="1.08" height="1.08" fill="#ffffff"/>
<rect x="1" y="1" width="1.08" height="1.08" fill="#eeedff"/>
<rect x="2" y="1" width="1.08" height="1.08" fill="#e7e5ff"/>
<rect x="3" y="1" width="1.08" height="1.08" fill="#d8d4fe"/>
<rect x="4" y="1" width="1.08" height="1.08" fill="#aca4fe"/>
<rect x="5" y="1" width="1.08" height="1.08" fill="#796dfd"/>
<rect x="6" y="1" width="1.08" height="1.08" fill="#7d71fd"/>
<rect x="7" y="1" width="1.08" height="1.08" fill="#6b5dfc"/>
<rect x="8" y="1" width="1.08" height="1.08" fill="#5040fc"/>
<rect x="9" y="1" width="1.08" height="1.08" fill="#5040fc"/>
<rect x="0" y="2" width="1.08" height="1.08" fill="#fcd8dc"/>
<rect x="1" y="2" width="1.08" height="1.08" fill="#fdecee"/>
<rect x="2" y="2" width="1.08" height="1.08" fill="#ffffff"/>
<rect x="3" y="2" width="1.08" height="1.08" fill="#ecebff"/>
<rect x="4" y="2" width="1.08" height="1.08" fill="#d4d0fe"/>
<rect x="5" y="2" width="1.08" height="1.08" fill="#796dfd"/>
<rect x="6" y="2" width="1.08" height="1.08" fill="#8175fd"/>
<rect x="7" y="2" width="1.08" height="1.08" fill="#938afd"/>
<rect x="8" y="2" width="1.08" height="1.08" fill="#6b5dfc"/>
<rect x="9" y="2" width="1.08" height="1.08" fill="#7d71fd"/>
<rect x="0" y="3" width="1.08" height="1.08" fill="#fbccd2"/>
<rect x="1" y="3" width="1.08" height="1.08" fill="#fcd8dc"/>
<rect x="2" y="3" width="1.08" height="1.08" fill="#fde8ea"/>
<rect x="3" y="3" width="1.08" height="1.08" fill="#ffffff"/>
<rect x="4" y="3" width="1.08" height="1.08" fill="#e1dffe"/>
<rect x="5" y="3" width="1.08" height="1.08" fill="#c9c4fe"/>
<rect x="6" y="3" width="1.08" height="1.08" fill="#8a7ffd"/>
<rect x="7" y="3" width="1.08" height="1.08" fill="#9f96fd"/>
<rect x="8" y="3" width="1.08" height="1.08" fill="#8175fd"/>
<rect x="9" y="3" width="1.08" height="1.08" fill="#8e83fd"/>
<rect x="0" y="4" width="1.08" height="1.08" fill="#fef3f4"/>
<rect x="1" y="4" width="1.08" height="1.08" fill="#fcd8dc"/>
<rect x="2" y="4" width="1.08" height="1.08" fill="#fcdce0"/>
<rect x="3" y="4" width="1.08" height="1.08" fill="#fdecee"/>
<rect x="4" y="4" width="1.08" height="1.08" fill="#fef5f6"/>
<rect x="5" y="4" width="1.08" height="1.08" fill="#f9b7be"/>
<rect x="6" y="4" width="1.08" height="1.08" fill="#ebe9ff"/>
<rect x="7" y="4" width="1.08" height="1.08" fill="#9f96fd"/>
<rect x="8" y="4" width="1.08" height="1.08" fill="#8a7ffd"/>
<rect x="9" y="4" width="1.08" height="1.08" fill="#9288fd"/>
<rect x="0" y="5" width="1.08" height="1.08" fill="#fde4e6"/>
<rect x="1" y="5" width="1.08" height="1.08" fill="#fcd8dc"/>
<rect x="2" y="5" width="1.08" height="1.08" fill="#fef7f8"/>
<rect x="3" y="5" width="1.08" height="1.08" fill="#fde6e8"/>
<rect x="4" y="5" width="1.08" height="1.08" fill="#feeff1"/>
<rect x="5" y="5" width="1.08" height="1.08" fill="#fbd0d5"/>
<rect x="6" y="5" width="1.08" height="1.08" fill="#fde6e8"/>
<rect x="7" y="5" width="1.08" height="1.08" fill="#ebe9ff"/>
<rect x="8" y="5" width="1.08" height="1.08" fill="#b7b0fe"/>
<rect x="9" y="5" width="1.08" height="1.08" fill="#8175fd"/>
<rect x="0" y="6" width="1.08" height="1.08" fill="#f6f5ff"/>
<rect x="1" y="6" width="1.08" height="1.08" fill="#fde4e6"/>
<rect x="2" y="6" width="1.08" height="1.08" fill="#fcdce0"/>
<rect x="3" y="6" width="1.08" height="1.08" fill="#fde6e8"/>
<rect x="4" y="6" width="1.08" height="1.08" fill="#ecebff"/>
<rect x="5" y="6" width="1.08" height="1.08" fill="#fde4e6"/>
<rect x="6" y="6" width="1.08" height="1.08" fill="#feeff1"/>
<rect x="7" y="6" width="1.08" height="1.08" fill="#fef5f6"/>
<rect x="8" y="6" width="1.08" height="1.08" fill="#e5e3ff"/>
<rect x="9" y="6" width="1.08" height="1.08" fill="#dad7fe"/>
<rect x="0" y="7" width="1.08" height="1.08" fill="#ebe9ff"/>
<rect x="1" y="7" width="1.08" height="1.08" fill="#f9f9ff"/>
<rect x="2" y="7" width="1.08" height="1.08" fill="#ffffff"/>
<rect x="3" y="7" width="1.08" height="1.08" fill="#fef3f4"/>
<rect x="4" y="7" width="1.08" height="1.08" fill="#c9c4fe"/>
<rect x="5" y="7" width="1.08" height="1.08" fill="#fbccd2"/>
<rect x="6" y="7" width="1.08" height="1.08" fill="#fcdee1"/>
<rect x="7" y="7" width="1.08" height="1.08" fill="#fde4e6"/>
<rect x="8" y="7" width="1.08" height="1.08" fill="#fdecee"/>
<rect x="9" y="7" width="1.08" height="1.08" fill="#feeff1"/>
<rect x="0" y="8" width="1.08" height="1.08" fill="#a098fd"/>
<rect x="1" y="8" width="1.08" height="1.08" fill="#d6d2fe"/>
<rect x="2" y="8" width="1.08" height="1.08" fill="#e3e1ff"/>
<rect x="3" y="8" width="1.08" height="1.08" fill="#f2f1ff"/>
<rect x="4" y="8" width="1.08" height="1.08" fill="#fef3f4"/>
<rect x="5" y="8" width="1.08" height="1.08" fill="#fcdce0"/>
<rect x="6" y="8" width="1.08" height="1.08" fill="#f8b3bb"/>
<rect x="7" y="8" width="1.08" height="1.08" fill="#f9bbc2"/>
<rect x="8" y="8" width="1.08" height="1.08" fill="#fbd0d5"/>
<rect x="9" y="8" width="1.08" height="1.08" fill="#fde6e8"/>
<rect x="0" y="9" width="1.08" height="1.08" fill="#5040fc"/>
<rect x="1" y="9" width="1.08" height="1.08" fill="#b3acfe"/>
<rect x="2" y="9" width="1.08" height="1.08" fill="#9288fd"/>
<rect x="3" y="9" width="1.08" height="1.08" fill="#f0efff"/>
<rect x="4" y="9" width="1.08" height="1.08" fill="#fac8ce"/>
<rect x="5" y="9" width="1.08" height="1.08" fill="#f7a7b0"/>
<rect x="6" y="9" width="1.08" height="1.08" fill="#f9bbc2"/>
<rect x="7" y="9" width="1.08" height="1.08" fill="#f7a7b0"/>
<rect x="8" y="9" width="1.08" height="1.08" fill="#fbd0d5"/>
<rect x="9" y="9" width="1.08" height="1.08" fill="#fde6e8"/>
</g>
<path d="M73.98 63.58L86.05 64.20M73.98 63.58L73.08 74.73M83.35 97.65L95.42 98.27M84.25 86.50L83.35 97.65M96.32 87.12L95.42 98.27M72.18 85.88L84.25 86.50M73.08 74.73L72.18 85.88M98.12 64.82L110.19 65.44M110.19 65.44L109.29 76.59M96.32 87.12L108.39 87.74M109.29 76.59L108.39 87.74M86.95 53.05L99.02 53.67M86.95 53.05L86.05 64.20M99.02 53.67L98.12 64.82" stroke="#86972e" stroke-width="1.1" fill="none" stroke-linecap="square"/>
<path d="M86.05 64.20L98.12 64.82M86.05 64.20L85.15 75.35M98.12 64.82L97.22 75.97M84.25 86.50L96.32 87.12M85.15 75.35L84.25 86.50M97.22 75.97L96.32 87.12" stroke="#a8262e" stroke-width="1.1" fill="none" stroke-linecap="square"/>
<path d="M85.26 51.02L86.18 51.66L87.27 51.43L86.47 53.03L86.86 54.07L87.12 55.13L86.87 56.24L86.82 57.39L88.20 57.95L88.11 59.12L88.39 60.13L88.88 61.06L89.34 61.97L90.51 62.35L90.53 63.59L91.29 64.28L91.49 65.28L91.69 66.29L93.13 66.15L94.10 65.08L95.42 64.82L96.00 66.53L97.31 66.29L98.33 67.04L98.51 68.29L99.22 69.46L100.52 69.90L101.60 69.37L102.89 69.28L103.73 68.29L104.23 67.26L105.17 66.75L106.14 66.29L107.43 66.90L107.75 68.29L108.55 69.50L109.57 70.05L110.69 69.82L111.77 69.90L112.83 69.08L114.18 69.10L115.25 68.63L116.32 68.47L117.39 69.10L116.86 70.06L115.78 70.30L114.68 70.62L113.67 71.19L112.57 71.51L111.27 71.62L110.16 72.31L109.81 73.56L108.55 73.92L107.39 74.36L106.95 75.52L105.81 75.92L105.58 76.93L105.34 77.93L104.28 78.48L103.36 79.17L102.93 80.34L102.87 81.82L101.73 82.75L102.13 84.36L100.94 84.81L99.72 85.16L98.71 86.16L97.31 85.96L96.51 87.04L96.51 88.37L96.45 89.31L97.10 90.25L96.51 91.18L95.65 90.65L94.90 89.98L94.89 88.64L94.10 87.57L94.01 86.59L93.22 85.74L94.26 84.57L92.80 83.82L93.29 82.75L91.69 81.95L90.72 82.47L90.02 83.16L90.08 84.36L89.00 84.19L87.94 84.10L87.06 84.91L86.06 85.16L85.56 86.26L84.46 86.77L83.68 87.34L82.65 87.54L82.05 88.37L80.88 88.25L79.95 89.08L78.84 89.18L77.84 88.14L76.43 88.37L75.13 88.06L74.82 86.77L75.62 85.16L76.83 84.75L78.03 84.36L78.45 83.25L79.52 83.11L80.44 82.75L81.27 81.82L80.07 80.69L81.47 79.81L80.84 78.73L80.73 77.57L79.64 77.13L78.43 76.85L77.23 77.13L76.09 76.72L76.02 75.52L76.59 74.69L77.23 73.92L78.03 72.31L77.43 71.30L76.43 70.70L75.19 70.33L74.82 69.10L75.41 68.08L76.43 67.49L77.63 66.88L78.84 67.49L80.20 67.58L81.24 66.69L82.49 66.32L82.85 65.08L83.25 63.47L84.26 62.47L84.06 61.06L84.01 59.74L83.25 58.65L82.05 57.85L81.33 56.97L80.44 56.24L81.24 54.64L82.85 53.84L83.65 52.63L84.86 51.83Z" stroke="#f05af0" stroke-width="1.05" fill="none" stroke-linejoin="round"/>
</g>
<rect x="21.50" y="16.50" width="128.00" height="117.50" fill="none" stroke="#8e8e8e" stroke-width="0.9"/>
<clipPath id="m31_149"><rect x="31.10" y="149.10" width="118.10" height="118.10"/></clipPath>
<g clip-path="url(#m31_149)">
<g transform="matrix(11.8100 0.0000 0.0000 11.8100 31.100 149.100)">
<rect x="0" y="0" width="1.08" height="1.08" fill="#b1aafe"/>
<rect x="1" y="0" width="1.08" height="1.08" fill="#5040fc"/>
<rect x="2" y="0" width="1.08" height="1.08" fill="#5040fc"/>
<rect x="3" y="0" width="1.08" height="1.08" fill="#5040fc"/>
<rect x="4" y="0" width="1.08" height="1.08" fill="#5040fc"/>
<rect x="5" y="0" width="1.08" height="1.08" fill="#5040fc"/>
<rect x="6" y="0" width="1.08" height="1.08" fill="#5040fc"/>
<rect x="7" y="0" width="1.08" height="1.08" fill="#5040fc"/>
<rect x="8" y="0" width="1.08" height="1.08" fill="#5040fc"/>
<rect x="9" y="0" width="1.08" height="1.08" fill="#5040fc"/>
<rect x="0" y="1" width="1.08" height="1.08" fill="#b5aefe"/>
<rect x="1" y="1" width="1.08" height="1.08" fill="#5040fc"/>
<rect x="2" y="1" width="1.08" height="1.08" fill="#5040fc"/>
<rect x="3" y="1" width="1.08" height="1.08" fill="#5040fc"/>
<rect x="4" y="1" width="1.08" height="1.08" fill="#5040fc"/>
<rect x="5" y="1" width="1.08" height="1.08" fill="#5040fc"/>
<rect x="6" y="1" width="1.08" height="1.08" fill="#5040fc"/>
<rect x="7" y="1" width="1.08" height="1.08" fill="#5040fc"/>
<rect x="8" y="1" width="1.08" height="1.08" fill="#5040fc"/>
<rect x="9" y="1" width="1.08" height="1.08" fill="#5040fc"/>
<rect x="0" y="2" width="1.08" height="1.08" fill="#9086fd"/>
<rect x="1" y="2" width="1.08" height="1.08" fill="#5040fc"/>
<rect x="2" y="2" width="1.08" height="1.08" fill="#5040fc"/>
<rect x="3" y="2" width="1.08" height="1.08" fill="#5040fc"/>
<rect x="4" y="2" width="1.08" height="1.08" fill="#5040fc"/>
<rect x="5" y="2" width="1.08" height="1.08" fill="#5040fc"/>
<rect x="6" y="2" width="1.08" height="1.08" fill="#5040fc"/>
<rect x="7" y="2" width="1.08" height="1.08" fill="#5040fc"/>
<rect x="8" y="2" width="1.08" height="1.08" fill="#5040fc"/>
<rect x="9" y="2" width="1.08" height="1.08" fill="#5040fc"/>
<rect x="0" y="3" width="1.08" height="1.08" fill="#796dfd"/>
<rect x="1" y="3" width="1.08" height="1.08" fill="#8175fd"/>
<rect x="2" y="3" width="1.08" height="1.08" fill="#796dfd"/>
<rect x="3" y="3" width="1.08" height="1.08" fill="#6b5dfc"/>
<rect x="4" y="3" width="1.08" height="1.08" fill="#5040fc"/>
<rect x="5" y="3" width="1.08" height="1.08" fill="#5040fc"/>
<rect x="6" y="3" width="1.08" height="1.08" fill="#8175fd"/>
<rect x="7" y="3" width="1.08" height="1.08" fill="#796dfd"/>
<rect x="8" y="3" width="1.08" height="1.08" fill="#5040fc"/>
<rect x="9" y="3" width="1.08" height="1.08" fill="#5040fc"/>
<rect x="0" y="4" width="1.08" height="1.08" fill="#796dfd"/>
<rect x="1" y="4" width="1.08" height="1.08" fill="#d6d2fe"/>
<rect x="2" y="4" width="1.08" height="1.08" fill="#dad7fe"/>
<rect x="3" y="4" width="1.08" height="1.08" fill="#e1dffe"/>
<rect x="4" y="4" width="1.08" height="1.08" fill="#ecebff"/>
<rect x="5" y="4" width="1.08" height="1.08" fill="#ffffff"/>
<rect x="6" y="4" width="1.08" height="1.08" fill="#f2f1ff"/>
<rect x="7" y="4" width="1.08" height="1.08" fill="#f9f9ff"/>
<rect x="8" y="4" width="1.08" height="1.08" fill="#b5aefe"/>
<rect x="9" y="4" width="1.08" height="1.08" fill="#8175fd"/>
<rect x="0" y="5" width="1.08" height="1.08" fill="#8c81fd"/>
<rect x="1" y="5" width="1.08" height="1.08" fill="#d4d0fe"/>
<rect x="2" y="5" width="1.08" height="1.08" fill="#ebe9ff"/>
<rect x="3" y="5" width="1.08" height="1.08" fill="#e9e7ff"/>
<rect x="4" y="5" width="1.08" height="1.08" fill="#ffffff"/>
<rect x="5" y="5" width="1.08" height="1.08" fill="#feeff1"/>
<rect x="6" y="5" width="1.08" height="1.08" fill="#f4f3ff"/>
<rect x="7" y="5" width="1.08" height="1.08" fill="#fef1f3"/>
<rect x="8" y="5" width="1.08" height="1.08" fill="#fef1f3"/>
<rect x="9" y="5" width="1.08" height="1.08" fill="#fef1f3"/>
<rect x="0" y="6" width="1.08" height="1.08" fill="#938afd"/>
<rect x="1" y="6" width="1.08" height="1.08" fill="#ada6fe"/>
<rect x="2" y="6" width="1.08" height="1.08" fill="#ada6fe"/>
<rect x="3" y="6" width="1.08" height="1.08" fill="#9f96fd"/>
<rect x="4" y="6" width="1.08" height="1.08" fill="#c9c4fe"/>
<rect x="5" y="6" width="1.08" height="1.08" fill="#d2cefe"/>
<rect x="6" y="6" width="1.08" height="1.08" fill="#d6d2fe"/>
<rect x="7" y="6" width="1.08" height="1.08" fill="#d6d2fe"/>
<rect x="8" y="6" width="1.08" height="1.08" fill="#f9f9ff"/>
<rect x="9" y="6" width="1.08" height="1.08" fill="#fef5f6"/>
<rect x="0" y="7" width="1.08" height="1.08" fill="#796dfd"/>
<rect x="1" y="7" width="1.08" height="1.08" fill="#796dfd"/>
<rect x="2" y="7" width="1.08" height="1.08" fill="#8175fd"/>
<rect x="3" y="7" width="1.08" height="1.08" fill="#5040fc"/>
<rect x="4" y="7" width="1.08" height="1.08" fill="#796dfd"/>
<rect x="5" y="7" width="1.08" height="1.08" fill="#6b5dfc"/>
<rect x="6" y="7" width="1.08" height="1.08" fill="#8175fd"/>
<rect x="7" y="7" width="1.08" height="1.08" fill="#f6f5ff"/>
<rect x="8" y="7" width="1.08" height="1.08" fill="#887dfd"/>
<rect x="9" y="7" width="1.08" height="1.08" fill="#7d71fd"/>
<rect x="0" y="8" width="1.08" height="1.08" fill="#5040fc"/>
<rect x="1" y="8" width="1.08" height="1.08" fill="#5040fc"/>
<rect x="2" y="8" width="1.08" height="1.08" fill="#5040fc"/>
<rect x="3" y="8" width="1.08" height="1.08" fill="#9086fd"/>
<rect x="4" y="8" width="1.08" height="1.08" fill="#978efd"/>
<rect x="5" y="8" width="1.08" height="1.08" fill="#796dfd"/>
<rect x="6" y="8" width="1.08" height="1.08" fill="#5040fc"/>
<rect x="7" y="8" width="1.08" height="1.08" fill="#5040fc"/>
<rect x="8" y="8" width="1.08" height="1.08" fill="#5040fc"/>
<rect x="9" y="8" width="1.08" height="1.08" fill="#5040fc"/>
<rect x="0" y="9" width="1.08" height="1.08" fill="#5040fc"/>
<rect x="1" y="9" width="1.08" height="1.08" fill="#5040fc"/>
<rect x="2" y="9" width="1.08" height="1.08" fill="#6b5dfc"/>
<rect x="3" y="9" width="1.08" height="1.08" fill="#8175fd"/>
<rect x="4" y="9" width="1.08" height="1.08" fill="#887dfd"/>
<rect x="5" y="9" width="1.08" height="1.08" fill="#8175fd"/>
<rect x="6" y="9" width="1.08" height="1.08" fill="#6b5dfc"/>
<rect x="7" y="9" width="1.08" height="1.08" fill="#5040fc"/>
<rect x="8" y="9" width="1.08" height="1.08" fill="#5040fc"/>
<rect x="9" y="9" width="1.08" height="1.08" fill="#5040fc"/>
</g>
<path d="M41.78 149.12L41.23 157.02L40.86 166.21L39.94 173.55L38.10 180.90L35.71 184.94L33.51 186.78L31.12 184.21" stroke="#222" stroke-width="0.55" fill="none" stroke-linejoin="round"/>
<path d="M31.12 221.31L33.51 219.48L36.27 217.64L38.10 212.13L39.94 204.78L42.70 197.43L46.37 193.76L50.04 189.17L53.72 188.25L55.55 191.00L58.31 191.92L63.82 190.09L67.49 191.92L73.00 193.76L77.60 195.60L83.11 195.60L90.45 196.51L94.13 194.68L99.64 194.13L102.39 192.84L103.31 190.09L106.99 189.72L112.50 191.92L118.01 192.84L123.52 193.76L128.11 197.43L132.70 201.11L136.38 204.78L140.05 206.62L145.56 204.78L149.23 202.94" stroke="#222" stroke-width="0.55" fill="none" stroke-linejoin="round"/>
<path d="M31.12 237.84L39.02 238.76L46.37 239.68L53.72 241.52L57.39 243.35L64.74 245.19L72.09 246.11L76.68 246.11L78.51 248.87L77.60 254.38L73.92 258.05L72.09 261.72L71.17 267.23" stroke="#222" stroke-width="0.55" fill="none" stroke-linejoin="round"/>
<path d="M78.34 196.34L90.15 196.34M78.34 208.15L90.15 208.15M78.34 196.34L78.34 208.15M90.15 196.34L101.96 196.34M101.96 196.34L113.77 196.34M101.96 208.15L113.77 208.15M113.77 196.34L113.77 208.15M90.15 219.96L101.96 219.96M90.15 208.15L90.15 219.96M101.96 208.15L101.96 219.96" stroke="#86972e" stroke-width="1.1" fill="none" stroke-linecap="square"/>
<path d="M90.15 196.34L101.96 196.34M90.15 208.15L101.96 208.15M90.15 196.34L90.15 208.15M101.96 196.34L101.96 208.15" stroke="#a8262e" stroke-width="1.1" fill="none" stroke-linecap="square"/>
<path d="M55.55 195.60L56.38 196.22L57.44 195.71L58.38 195.77L59.13 196.81L60.15 196.51L61.36 196.57L62.00 197.59L62.86 198.24L63.73 198.86L64.74 199.27L65.76 198.93L66.54 199.83L67.49 199.82L68.31 200.52L69.33 200.19L70.39 199.68L71.03 201.23L72.18 200.26L72.91 201.38L73.92 201.11L74.85 200.66L75.98 200.64L76.46 199.30L77.60 199.27L78.39 198.57L79.16 197.80L80.54 198.27L81.29 197.48L81.99 196.58L83.11 196.51L83.91 195.84L84.79 195.45L85.75 195.39L86.78 195.60L87.41 196.35L88.22 196.91L88.63 197.88L89.54 198.35L90.67 198.59L90.55 200.09L91.09 200.93L92.29 201.11L93.21 201.47L94.13 201.47L95.05 201.63L95.96 200.50L96.88 201.05L97.80 201.11L98.92 200.81L99.50 202.12L100.54 202.08L101.66 201.77L102.42 202.56L103.31 202.94L103.87 203.81L104.84 204.06L105.99 204.05L106.10 205.59L107.62 205.01L107.75 206.52L108.82 206.62L109.97 206.99L110.78 206.36L111.79 206.33L112.51 205.44L113.28 204.69L114.33 204.78L115.04 204.02L116.06 203.56L116.82 202.86L117.15 201.72L118.01 201.11L117.87 202.33L119.55 202.63L119.39 203.86L119.84 204.78L120.92 205.39L120.95 206.52L120.57 207.86L121.68 208.45L122.69 208.04L123.40 209.48L124.34 209.51L125.31 209.34L126.38 208.56L127.19 209.37L128.13 209.79L128.90 210.55L130.22 210.21L130.87 211.21L131.92 211.40L132.98 211.58L133.39 213.05L134.54 213.05L133.34 212.95L132.42 213.40L131.62 214.09L130.87 214.88L129.97 214.54L128.87 215.06L128.10 214.22L127.19 213.96L126.21 213.73L125.29 213.89L124.55 215.12L123.64 215.30L122.70 215.34L121.68 214.88L120.61 214.50L119.98 215.90L118.97 215.73L118.01 215.80L117.07 215.37L116.43 214.37L115.01 214.91L114.33 213.96L113.42 214.32L112.50 213.56L111.58 214.59L110.66 213.96L109.97 214.87L109.14 215.52L107.60 214.73L106.99 215.80L105.89 215.70L105.15 214.88L104.53 215.80L104.08 216.82L103.31 217.64L102.17 217.26L101.37 217.95L100.56 218.56L100.05 219.42L99.84 220.40L99.78 221.44L98.62 222.04L98.72 223.15L99.07 224.21L98.08 224.94L98.33 225.98L97.80 226.82L98.62 227.36L98.96 228.25L99.83 228.75L99.90 229.84L100.56 230.50L101.60 230.05L102.54 230.16L103.42 230.52L104.35 230.63L105.15 231.42L105.54 232.42L106.61 232.53L107.19 233.28L107.84 233.95L108.82 234.17L109.97 234.18L110.36 235.69L111.66 235.39L112.50 236.01L113.42 235.95L114.33 235.99L115.25 236.30L116.17 236.41L117.09 236.01L117.04 237.13L116.17 237.84L115.03 237.86L114.38 238.86L113.58 239.56L112.50 239.68L111.51 240.09L110.95 240.82L110.41 241.56L110.50 242.78L109.74 243.35L108.70 242.93L107.82 243.32L106.85 243.21L105.99 243.71L105.15 244.27L104.05 243.78L103.32 244.76L102.30 244.60L101.48 245.19L100.45 245.01L99.63 245.62L98.72 245.87L97.80 246.11L96.85 246.03L96.10 245.11L95.00 245.60L94.13 245.19L93.87 244.24L93.10 243.67L92.72 242.80L91.69 242.42L91.37 241.52L90.32 241.16L90.48 239.89L89.29 239.63L89.00 238.71L88.62 237.84L88.71 236.79L87.36 236.22L87.70 235.09L88.82 234.84L89.17 233.81L89.83 233.09L90.45 232.33L91.33 231.83L91.36 230.49L92.01 229.76L93.21 229.58L93.22 228.56L92.72 227.70L92.29 226.82L91.47 226.18L90.67 225.47L89.38 225.75L88.62 224.99L87.58 225.25L86.95 223.84L85.70 224.94L84.94 224.07L84.03 223.82L83.15 223.43L82.35 222.72L81.27 223.15L79.91 222.67L79.43 221.31L80.03 220.49L79.45 219.28L80.35 218.56L81.25 218.19L82.25 218.12L83.11 217.64L82.93 216.43L81.32 216.18L81.27 214.88L80.84 213.93L79.52 213.88L79.10 212.92L78.51 212.13L78.00 210.91L76.97 210.47L75.76 210.29L74.56 210.40L73.59 210.04L72.69 209.54L72.09 208.45L71.36 207.62L69.94 208.16L69.52 206.69L68.41 206.62L68.15 205.59L67.55 204.84L66.57 204.41L65.90 203.44L64.81 203.49L64.00 202.86L62.90 202.94L62.02 202.28L61.20 201.51L60.15 201.11L59.02 201.41L58.33 200.42L57.39 200.19L56.99 198.75L55.55 198.35L55.39 197.43L55.88 196.51Z" stroke="#f05af0" stroke-width="1.05" fill="none" stroke-linejoin="round"/>
</g>
<rect x="31.10" y="149.10" width="118.10" height="118.10" fill="none" stroke="#8e8e8e" stroke-width="0.9"/>
<clipPath id="m11_282"><rect x="11.40" y="282.30" width="139.00" height="117.80"/></clipPath>
<g clip-path="url(#m11_282)">
<g transform="matrix(13.6600 0.0000 0.0000 11.7000 13.800 282.900)">
<rect x="0" y="0" width="1.08" height="1.08" fill="#fcdce0"/>
<rect x="1" y="0" width="1.08" height="1.08" fill="#fcdce0"/>
<rect x="2" y="0" width="1.08" height="1.08" fill="#f9bfc5"/>
<rect x="3" y="0" width="1.08" height="1.08" fill="#f8b1b9"/>
<rect x="4" y="0" width="1.08" height="1.08" fill="#f9b9c0"/>
<rect x="5" y="0" width="1.08" height="1.08" fill="#9f96fd"/>
<rect x="6" y="0" width="1.08" height="1.08" fill="#fbd0d5"/>
<rect x="7" y="0" width="1.08" height="1.08" fill="#fbd0d5"/>
<rect x="8" y="0" width="1.08" height="1.08" fill="#fdecee"/>
<rect x="9" y="0" width="1.08" height="1.08" fill="#fffbfc"/>
<rect x="0" y="1" width="1.08" height="1.08" fill="#f9bfc5"/>
<rect x="1" y="1" width="1.08" height="1.08" fill="#fcd8dc"/>
<rect x="2" y="1" width="1.08" height="1.08" fill="#eeedff"/>
<rect x="3" y="1" width="1.08" height="1.08" fill="#fcdce0"/>
<rect x="4" y="1" width="1.08" height="1.08" fill="#fac4ca"/>
<rect x="5" y="1" width="1.08" height="1.08" fill="#9f96fd"/>
<rect x="6" y="1" width="1.08" height="1.08" fill="#fbd0d5"/>
<rect x="7" y="1" width="1.08" height="1.08" fill="#fcd8dc"/>
<rect x="8" y="1" width="1.08" height="1.08" fill="#feeff1"/>
<rect x="9" y="1" width="1.08" height="1.08" fill="#e9e7ff"/>
<rect x="0" y="2" width="1.08" height="1.08" fill="#fac4ca"/>
<rect x="1" y="2" width="1.08" height="1.08" fill="#fbd0d5"/>
<rect x="2" y="2" width="1.08" height="1.08" fill="#fcd8dc"/>
<rect x="3" y="2" width="1.08" height="1.08" fill="#fde4e6"/>
<rect x="4" y="2" width="1.08" height="1.08" fill="#ecebff"/>
<rect x="5" y="2" width="1.08" height="1.08" fill="#9f96fd"/>
<rect x="6" y="2" width="1.08" height="1.08" fill="#a29afd"/>
<rect x="7" y="2" width="1.08" height="1.08" fill="#ffffff"/>
<rect x="8" y="2" width="1.08" height="1.08" fill="#f2f1ff"/>
<rect x="9" y="2" width="1.08" height="1.08" fill="#e1dffe"/>
<rect x="0" y="3" width="1.08" height="1.08" fill="#fde4e6"/>
<rect x="1" y="3" width="1.08" height="1.08" fill="#fcd8dc"/>
<rect x="2" y="3" width="1.08" height="1.08" fill="#fde8ea"/>
<rect x="3" y="3" width="1.08" height="1.08" fill="#feeff1"/>
<rect x="4" y="3" width="1.08" height="1.08" fill="#f9f9ff"/>
<rect x="5" y="3" width="1.08" height="1.08" fill="#887dfd"/>
<rect x="6" y="3" width="1.08" height="1.08" fill="#5040fc"/>
<rect x="7" y="3" width="1.08" height="1.08" fill="#8579fd"/>
<rect x="8" y="3" width="1.08" height="1.08" fill="#ecebff"/>
<rect x="9" y="3" width="1.08" height="1.08" fill="#e1dffe"/>
<rect x="0" y="4" width="1.08" height="1.08" fill="#fde8ea"/>
<rect x="1" y="4" width="1.08" height="1.08" fill="#fdecee"/>
<rect x="2" y="4" width="1.08" height="1.08" fill="#fef3f4"/>
<rect x="3" y="4" width="1.08" height="1.08" fill="#fdecee"/>
<rect x="4" y="4" width="1.08" height="1.08" fill="#f7a1ab"/>
<rect x="5" y="4" width="1.08" height="1.08" fill="#938afd"/>
<rect x="6" y="4" width="1.08" height="1.08" fill="#5040fc"/>
<rect x="7" y="4" width="1.08" height="1.08" fill="#5040fc"/>
<rect x="8" y="4" width="1.08" height="1.08" fill="#5040fc"/>
<rect x="9" y="4" width="1.08" height="1.08" fill="#5040fc"/>
<rect x="0" y="5" width="1.08" height="1.08" fill="#f6f5ff"/>
<rect x="1" y="5" width="1.08" height="1.08" fill="#ffffff"/>
<rect x="2" y="5" width="1.08" height="1.08" fill="#fef5f6"/>
<rect x="3" y="5" width="1.08" height="1.08" fill="#fde4e6"/>
<rect x="4" y="5" width="1.08" height="1.08" fill="#f7a1ab"/>
<rect x="5" y="5" width="1.08" height="1.08" fill="#f7a1ab"/>
<rect x="6" y="5" width="1.08" height="1.08" fill="#5040fc"/>
<rect x="7" y="5" width="1.08" height="1.08" fill="#5040fc"/>
<rect x="8" y="5" width="1.08" height="1.08" fill="#5040fc"/>
<rect x="9" y="5" width="1.08" height="1.08" fill="#5040fc"/>
<rect x="0" y="6" width="1.08" height="1.08" fill="#ecebff"/>
<rect x="1" y="6" width="1.08" height="1.08" fill="#f2f1ff"/>
<rect x="2" y="6" width="1.08" height="1.08" fill="#f9f9ff"/>
<rect x="3" y="6" width="1.08" height="1.08" fill="#fef9fa"/>
<rect x="4" y="6" width="1.08" height="1.08" fill="#fef3f4"/>
<rect x="5" y="6" width="1.08" height="1.08" fill="#fef9fa"/>
<rect x="6" y="6" width="1.08" height="1.08" fill="#b5aefe"/>
<rect x="7" y="6" width="1.08" height="1.08" fill="#e1dffe"/>
<rect x="8" y="6" width="1.08" height="1.08" fill="#5040fc"/>
<rect x="9" y="6" width="1.08" height="1.08" fill="#5040fc"/>
<rect x="0" y="7" width="1.08" height="1.08" fill="#e1dffe"/>
<rect x="1" y="7" width="1.08" height="1.08" fill="#e5e3ff"/>
<rect x="2" y="7" width="1.08" height="1.08" fill="#e9e7ff"/>
<rect x="3" y="7" width="1.08" height="1.08" fill="#f6f5ff"/>
<rect x="4" y="7" width="1.08" height="1.08" fill="#f2f1ff"/>
<rect x="5" y="7" width="1.08" height="1.08" fill="#dcd9fe"/>
<rect x="6" y="7" width="1.08" height="1.08" fill="#c9c4fe"/>
<rect x="7" y="7" width="1.08" height="1.08" fill="#c4befe"/>
<rect x="8" y="7" width="1.08" height="1.08" fill="#b5aefe"/>
<rect x="9" y="7" width="1.08" height="1.08" fill="#5040fc"/>
<rect x="0" y="8" width="1.08" height="1.08" fill="#d6d2fe"/>
<rect x="1" y="8" width="1.08" height="1.08" fill="#dad7fe"/>
<rect x="2" y="8" width="1.08" height="1.08" fill="#e1dffe"/>
<rect x="3" y="8" width="1.08" height="1.08" fill="#d6d2fe"/>
<rect x="4" y="8" width="1.08" height="1.08" fill="#d6d2fe"/>
<rect x="5" y="8" width="1.08" height="1.08" fill="#d1ccfe"/>
<rect x="6" y="8" width="1.08" height="1.08" fill="#c0bafe"/>
<rect x="7" y="8" width="1.08" height="1.08" fill="#c9c4fe"/>
<rect x="8" y="8" width="1.08" height="1.08" fill="#bab4fe"/>
<rect x="9" y="8" width="1.08" height="1.08" fill="#aca4fe"/>
<rect x="0" y="9" width="1.08" height="1.08" fill="#c9c4fe"/>
<rect x="1" y="9" width="1.08" height="1.08" fill="#d1ccfe"/>
<rect x="2" y="9" width="1.08" height="1.08" fill="#c9c4fe"/>
<rect x="3" y="9" width="1.08" height="1.08" fill="#bab4fe"/>
<rect x="4" y="9" width="1.08" height="1.08" fill="#b5aefe"/>
<rect x="5" y="9" width="1.08" height="1.08" fill="#c4befe"/>
<rect x="6" y="9" width="1.08" height="1.08" fill="#c0bafe"/>
<rect x="7" y="9" width="1.08" height="1.08" fill="#9f96fd"/>
<rect x="8" y="9" width="1.08" height="1.08" fill="#bab4fe"/>
<rect x="9" y="9" width="1.08" height="1.08" fill="#bab4fe"/>
</g>
<path d="M86.86 282.26L87.28 290.79L88.56 299.31L92.19 307.84L94.32 315.30L95.38 321.69L92.19 324.89L87.92 327.02L85.79 330.22L88.99 332.35L93.25 334.48L97.51 339.81L101.78 346.20L106.04 350.46L114.56 353.66L120.96 356.86L127.35 361.12L135.88 365.38L144.40 369.65L150.37 372.84" stroke="#222" stroke-width="0.55" fill="none" stroke-linejoin="round"/>
<path d="M95.38 282.26L93.25 286.53L92.83 290.79L94.32 297.18L99.65 305.71L106.04 312.10L112.43 318.49L116.70 324.89L120.96 331.28L124.16 335.54L129.48 335.97L135.88 334.48L144.40 333.84L150.37 334.48" stroke="#222" stroke-width="0.55" fill="none" stroke-linejoin="round"/>
<path d="M82.10 329.70L82.10 341.40M68.44 376.50L82.10 376.50M68.44 364.80L68.44 376.50M68.44 306.30L82.10 306.30M68.44 306.30L68.44 318.00M82.10 306.30L82.10 318.00M82.10 341.40L95.76 341.40M95.76 341.40L95.76 353.10M82.10 318.00L82.10 329.70M95.76 353.10L109.42 353.10M95.76 364.80L109.42 364.80M109.42 353.10L109.42 364.80M41.12 329.70L54.78 329.70M41.12 329.70L41.12 341.40M54.78 318.00L68.44 318.00M54.78 318.00L54.78 329.70M82.10 376.50L95.76 376.50M95.76 364.80L95.76 376.50M54.78 364.80L68.44 364.80M54.78 353.10L54.78 364.80M41.12 353.10L54.78 353.10M41.12 341.40L41.12 353.10" stroke="#86972e" stroke-width="1.1" fill="none" stroke-linecap="square"/>
<path d="M68.44 329.70L82.10 329.70M68.44 329.70L68.44 341.40M82.10 329.70L82.10 341.40M68.44 353.10L82.10 353.10M68.44 341.40L68.44 353.10M82.10 341.40L95.76 341.40M82.10 353.10L95.76 353.10M95.76 341.40L95.76 353.10" stroke="#a8262e" stroke-width="1.1" fill="none" stroke-linecap="square"/>
<path d="M69.81 333.41L70.74 332.52L71.94 332.99L73.05 333.12L73.99 332.14L75.13 332.45L76.20 332.35L77.27 332.61L78.33 332.79L79.40 332.28L80.46 332.35L81.53 333.09L82.60 333.84L83.88 334.32L84.10 335.63L84.73 336.61L85.69 337.10L86.11 338.31L87.24 338.58L87.91 339.47L88.99 339.81L89.89 340.15L90.91 340.23L91.31 341.56L92.18 341.94L93.25 341.94L94.19 342.20L95.23 342.25L95.80 343.23L96.66 343.64L97.51 344.07L97.94 345.07L98.83 345.59L99.64 346.21L100.28 346.99L101.20 347.49L101.78 348.33L103.04 348.43L103.88 349.08L103.94 350.78L104.88 351.30L106.04 351.53L105.97 352.69L104.78 353.48L104.97 354.73L103.91 354.69L102.84 355.32L101.78 354.73L100.69 354.68L100.02 355.47L98.93 355.42L98.25 356.19L97.51 356.86L97.49 357.99L96.30 358.35L95.56 359.02L95.38 360.05L94.58 358.99L93.25 358.99L92.66 358.00L92.58 356.84L92.19 355.79L91.22 355.15L89.90 355.56L88.99 354.73L87.91 355.07L87.27 355.85L86.86 356.86L85.49 356.93L84.73 355.79L83.72 355.14L82.60 354.73L82.24 355.88L81.53 356.86L81.15 357.90L80.00 358.17L79.40 358.99L79.49 357.61L78.33 356.86L79.03 356.05L79.15 354.80L80.24 354.30L81.22 353.70L81.53 352.60L81.82 351.31L81.13 350.36L80.46 349.40L79.23 349.80L78.50 348.19L77.30 348.45L76.20 348.33L74.98 348.67L73.93 348.34L72.85 348.14L71.94 347.27L71.40 346.38L70.15 346.21L69.81 345.14L69.89 343.92L68.54 343.19L68.74 341.94L69.32 341.17L69.74 340.29L69.76 339.16L70.87 338.74L70.52 337.44L72.16 336.80L71.94 335.54L71.73 334.33L70.12 334.52Z" stroke="#f05af0" stroke-width="1.05" fill="none" stroke-linejoin="round"/>
</g>
<rect x="11.40" y="282.30" width="139.00" height="117.80" fill="none" stroke="#8e8e8e" stroke-width="0.9"/>
<clipPath id="m11_415"><rect x="11.20" y="415.20" width="139.00" height="117.90"/></clipPath>
<g clip-path="url(#m11_415)">
<g transform="matrix(15.1800 -2.1900 3.0700 9.8500 -18.650 436.400)">
<rect x="0" y="0" width="1.08" height="1.08" fill="#e3e1ff"/>
<rect x="1" y="0" width="1.08" height="1.08" fill="#e5e3ff"/>
<rect x="2" y="0" width="1.08" height="1.08" fill="#e5e3ff"/>
<rect x="3" y="0" width="1.08" height="1.08" fill="#b5aefe"/>
<rect x="4" y="0" width="1.08" height="1.08" fill="#aca4fe"/>
<rect x="5" y="0" width="1.08" height="1.08" fill="#b7b0fe"/>
<rect x="6" y="0" width="1.08" height="1.08" fill="#c9c4fe"/>
<rect x="7" y="0" width="1.08" height="1.08" fill="#c9c4fe"/>
<rect x="8" y="0" width="1.08" height="1.08" fill="#d1ccfe"/>
<rect x="9" y="0" width="1.08" height="1.08" fill="#aca4fe"/>
<rect x="0" y="1" width="1.08" height="1.08" fill="#e9e7ff"/>
<rect x="1" y="1" width="1.08" height="1.08" fill="#e9e7ff"/>
<rect x="2" y="1" width="1.08" height="1.08" fill="#e9e7ff"/>
<rect x="3" y="1" width="1.08" height="1.08" fill="#c9c4fe"/>
<rect x="4" y="1" width="1.08" height="1.08" fill="#c9c4fe"/>
<rect x="5" y="1" width="1.08" height="1.08" fill="#c4befe"/>
<rect x="6" y="1" width="1.08" height="1.08" fill="#c9c4fe"/>
<rect x="7" y="1" width="1.08" height="1.08" fill="#d6d2fe"/>
<rect x="8" y="1" width="1.08" height="1.08" fill="#d4d0fe"/>
<rect x="9" y="1" width="1.08" height="1.08" fill="#c0bafe"/>
<rect x="0" y="2" width="1.08" height="1.08" fill="#e1dffe"/>
<rect x="1" y="2" width="1.08" height="1.08" fill="#e1dffe"/>
<rect x="2" y="2" width="1.08" height="1.08" fill="#f2f1ff"/>
<rect x="3" y="2" width="1.08" height="1.08" fill="#f6f5ff"/>
<rect x="4" y="2" width="1.08" height="1.08" fill="#e1dffe"/>
<rect x="5" y="2" width="1.08" height="1.08" fill="#e5e3ff"/>
<rect x="6" y="2" width="1.08" height="1.08" fill="#fef5f6"/>
<rect x="7" y="2" width="1.08" height="1.08" fill="#e9e7ff"/>
<rect x="8" y="2" width="1.08" height="1.08" fill="#d1ccfe"/>
<rect x="9" y="2" width="1.08" height="1.08" fill="#c9c4fe"/>
<rect x="0" y="3" width="1.08" height="1.08" fill="#e9e7ff"/>
<rect x="1" y="3" width="1.08" height="1.08" fill="#e9e7ff"/>
<rect x="2" y="3" width="1.08" height="1.08" fill="#fbfbff"/>
<rect x="3" y="3" width="1.08" height="1.08" fill="#fef9fa"/>
<rect x="4" y="3" width="1.08" height="1.08" fill="#fdecee"/>
<rect x="5" y="3" width="1.08" height="1.08" fill="#f9bfc5"/>
<rect x="6" y="3" width="1.08" height="1.08" fill="#fbd0d5"/>
<rect x="7" y="3" width="1.08" height="1.08" fill="#eeedff"/>
<rect x="8" y="3" width="1.08" height="1.08" fill="#d6d2fe"/>
<rect x="9" y="3" width="1.08" height="1.08" fill="#c9c4fe"/>
<rect x="0" y="4" width="1.08" height="1.08" fill="#f2f1ff"/>
<rect x="1" y="4" width="1.08" height="1.08" fill="#f2f1ff"/>
<rect x="2" y="4" width="1.08" height="1.08" fill="#fffbfc"/>
<rect x="3" y="4" width="1.08" height="1.08" fill="#fef5f6"/>
<rect x="4" y="4" width="1.08" height="1.08" fill="#fdecee"/>
<rect x="5" y="4" width="1.08" height="1.08" fill="#f7a7b0"/>
<rect x="6" y="4" width="1.08" height="1.08" fill="#f9b7be"/>
<rect x="7" y="4" width="1.08" height="1.08" fill="#ffffff"/>
<rect x="8" y="4" width="1.08" height="1.08" fill="#e9e7ff"/>
<rect x="9" y="4" width="1.08" height="1.08" fill="#c9c4fe"/>
<rect x="0" y="5" width="1.08" height="1.08" fill="#e9e7ff"/>
<rect x="1" y="5" width="1.08" height="1.08" fill="#e9e7ff"/>
<rect x="2" y="5" width="1.08" height="1.08" fill="#fef9fa"/>
<rect x="3" y="5" width="1.08" height="1.08" fill="#feeff1"/>
<rect x="4" y="5" width="1.08" height="1.08" fill="#fde8ea"/>
<rect x="5" y="5" width="1.08" height="1.08" fill="#fbd0d5"/>
<rect x="6" y="5" width="1.08" height="1.08" fill="#fde4e6"/>
<rect x="7" y="5" width="1.08" height="1.08" fill="#fbfbff"/>
<rect x="8" y="5" width="1.08" height="1.08" fill="#e5e3ff"/>
<rect x="9" y="5" width="1.08" height="1.08" fill="#d6d2fe"/>
<rect x="0" y="6" width="1.08" height="1.08" fill="#fdecee"/>
<rect x="1" y="6" width="1.08" height="1.08" fill="#fdecee"/>
<rect x="2" y="6" width="1.08" height="1.08" fill="#fde8ea"/>
<rect x="3" y="6" width="1.08" height="1.08" fill="#fde8ea"/>
<rect x="4" y="6" width="1.08" height="1.08" fill="#fde8ea"/>
<rect x="5" y="6" width="1.08" height="1.08" fill="#fbd0d5"/>
<rect x="6" y="6" width="1.08" height="1.08" fill="#fac8ce"/>
<rect x="7" y="6" width="1.08" height="1.08" fill="#fdecee"/>
<rect x="8" y="6" width="1.08" height="1.08" fill="#fef3f4"/>
<rect x="9" y="6" width="1.08" height="1.08" fill="#f8f7ff"/>
<rect x="0" y="7" width="1.08" height="1.08" fill="#fbced3"/>
<rect x="1" y="7" width="1.08" height="1.08" fill="#fbced3"/>
<rect x="2" y="7" width="1.08" height="1.08" fill="#fac8ce"/>
<rect x="3" y="7" width="1.08" height="1.08" fill="#fac4ca"/>
<rect x="4" y="7" width="1.08" height="1.08" fill="#fac4ca"/>
<rect x="5" y="7" width="1.08" height="1.08" fill="#fac8ce"/>
<rect x="6" y="7" width="1.08" height="1.08" fill="#fcdce0"/>
<rect x="7" y="7" width="1.08" height="1.08" fill="#fde4e6"/>
<rect x="8" y="7" width="1.08" height="1.08" fill="#fef9fa"/>
<rect x="9" y="7" width="1.08" height="1.08" fill="#f8f7ff"/>
<rect x="0" y="8" width="1.08" height="1.08" fill="#f9b5bc"/>
<rect x="1" y="8" width="1.08" height="1.08" fill="#f8b1b9"/>
<rect x="2" y="8" width="1.08" height="1.08" fill="#f8abb4"/>
<rect x="3" y="8" width="1.08" height="1.08" fill="#f8abb4"/>
<rect x="4" y="8" width="1.08" height="1.08" fill="#f9b5bc"/>
<rect x="5" y="8" width="1.08" height="1.08" fill="#f9bfc5"/>
<rect x="6" y="8" width="1.08" height="1.08" fill="#fbd0d5"/>
<rect x="7" y="8" width="1.08" height="1.08" fill="#fce0e3"/>
<rect x="8" y="8" width="1.08" height="1.08" fill="#fde8ea"/>
<rect x="9" y="8" width="1.08" height="1.08" fill="#fef3f4"/>
<rect x="0" y="9" width="1.08" height="1.08" fill="#f6949f"/>
<rect x="1" y="9" width="1.08" height="1.08" fill="#f698a2"/>
<rect x="2" y="9" width="1.08" height="1.08" fill="#f7a1ab"/>
<rect x="3" y="9" width="1.08" height="1.08" fill="#f8abb4"/>
<rect x="4" y="9" width="1.08" height="1.08" fill="#f9b5bc"/>
<rect x="5" y="9" width="1.08" height="1.08" fill="#fac1c7"/>
<rect x="6" y="9" width="1.08" height="1.08" fill="#fbced3"/>
<rect x="7" y="9" width="1.08" height="1.08" fill="#fbd4d8"/>
<rect x="8" y="9" width="1.08" height="1.08" fill="#fde4e6"/>
<rect x="9" y="9" width="1.08" height="1.08" fill="#fde8ea"/>
</g>
<path d="M11.20 417.60L17.60 415.90L25.50 414.90" stroke="#222" stroke-width="0.55" fill="none" stroke-linejoin="round"/>
<path d="M42.24 479.08L57.42 476.89M39.17 469.23L42.24 479.08M60.49 486.74L75.67 484.55M57.42 476.89L60.49 486.74M106.03 480.17L121.21 477.98M118.14 468.13L121.21 477.98M75.50 433.11L90.68 430.92M90.68 430.92L93.75 440.77M78.74 494.40L93.92 492.21M75.67 484.55L78.74 494.40M36.10 459.38L51.28 457.19M36.10 459.38L39.17 469.23M118.14 468.13L133.32 465.94M130.25 456.09L133.32 465.94M48.21 447.34L63.39 445.15M48.21 447.34L51.28 457.19M93.75 440.77L108.93 438.58M108.93 438.58L112.00 448.43M60.32 435.30L75.50 433.11M60.32 435.30L63.39 445.15M112.00 448.43L127.18 446.24M127.18 446.24L130.25 456.09M93.92 492.21L109.10 490.02M106.03 480.17L109.10 490.02" stroke="#86972e" stroke-width="1.1" fill="none" stroke-linecap="square"/>
<path d="M72.60 474.70L87.78 472.51M69.53 464.85L72.60 474.70M87.78 472.51L102.96 470.32M99.89 460.47L102.96 470.32M66.46 455.00L81.64 452.81M66.46 455.00L69.53 464.85M81.64 452.81L96.82 450.62M96.82 450.62L99.89 460.47" stroke="#a8262e" stroke-width="1.1" fill="none" stroke-linecap="square"/>
<path d="M64.93 458.58L65.87 458.20L66.89 458.15L67.85 457.85L69.03 457.05L69.31 455.66L70.55 455.56L71.50 456.39L72.37 455.74L73.27 455.21L74.42 455.66L75.61 455.27L76.73 455.30L77.79 455.70L78.80 456.39L79.67 456.70L80.32 457.67L81.33 457.54L82.36 457.38L83.18 457.85L84.09 457.70L85.00 458.13L85.91 457.59L86.82 457.85L87.97 457.62L88.46 459.05L89.50 459.10L90.47 459.31L91.71 459.27L92.71 459.70L93.39 460.77L94.63 461.52L94.85 462.96L95.01 464.43L96.31 465.15L96.07 466.57L94.85 467.34L93.65 467.91L92.66 468.80L91.35 469.50L91.20 470.99L91.64 472.13L90.88 472.97L90.47 473.91L89.77 475.02L89.01 476.09L88.04 475.47L87.07 476.56L86.09 476.09L84.96 475.93L83.98 475.46L83.18 474.64L82.37 475.53L81.17 474.87L80.26 475.36L78.90 475.70L78.07 476.82L77.61 475.76L77.34 474.64L76.03 473.92L75.88 472.45L75.05 471.67L74.09 471.15L72.96 470.99L72.09 470.29L70.89 470.24L70.04 469.53L69.10 468.69L67.85 468.80L66.93 468.60L66.02 468.66L65.11 468.73L64.20 468.80L62.74 468.07L63.61 467.43L64.67 467.51L65.66 467.34L66.89 467.39L67.85 466.61L68.81 465.66L69.31 464.42L68.38 463.45L67.85 462.23L67.02 461.10L65.66 460.77L65.77 459.51Z" stroke="#f05af0" stroke-width="1.05" fill="none" stroke-linejoin="round"/>
<circle cx="90.47" cy="457.12" r="1.1" fill="#dde" stroke="#777" stroke-width="0.4"/>
<circle cx="82.01" cy="466.61" r="1.1" fill="#dde" stroke="#777" stroke-width="0.4"/>
<circle cx="84.64" cy="470.99" r="1.1" fill="#dde" stroke="#777" stroke-width="0.4"/>
<circle cx="81.42" cy="476.09" r="1.1" fill="#dde" stroke="#777" stroke-width="0.4"/>
<circle cx="97.48" cy="475.80" r="1.1" fill="#dde" stroke="#777" stroke-width="0.4"/>
<circle cx="66.82" cy="468.21" r="1.1" fill="#dde" stroke="#777" stroke-width="0.4"/>
<circle cx="71.79" cy="468.80" r="1.1" fill="#dde" stroke="#777" stroke-width="0.4"/>
<circle cx="76.17" cy="468.50" r="1.1" fill="#dde" stroke="#777" stroke-width="0.4"/>
</g>
<rect x="11.20" y="415.20" width="139.00" height="117.90" fill="none" stroke="#8e8e8e" stroke-width="0.9"/>
<clipPath id="m11_547"><rect x="11.20" y="547.60" width="138.50" height="118.50"/></clipPath>
<g clip-path="url(#m11_547)">
<g transform="matrix(7.6000 -1.0400 1.3500 4.4200 -0.500 567.800)">
<rect x="0" y="0" width="1.08" height="1.08" fill="#948afd"/>
<rect x="1" y="0" width="1.08" height="1.08" fill="#978efd"/>
<rect x="2" y="0" width="1.08" height="1.08" fill="#9086fd"/>
<rect x="3" y="0" width="1.08" height="1.08" fill="#9389fd"/>
<rect x="4" y="0" width="1.08" height="1.08" fill="#8a7ffd"/>
<rect x="5" y="0" width="1.08" height="1.08" fill="#7568fd"/>
<rect x="6" y="0" width="1.08" height="1.08" fill="#766afd"/>
<rect x="7" y="0" width="1.08" height="1.08" fill="#9187fd"/>
<rect x="8" y="0" width="1.08" height="1.08" fill="#8c81fd"/>
<rect x="9" y="0" width="1.08" height="1.08" fill="#9288fd"/>
<rect x="10" y="0" width="1.08" height="1.08" fill="#a8a0fe"/>
<rect x="11" y="0" width="1.08" height="1.08" fill="#968dfd"/>
<rect x="12" y="0" width="1.08" height="1.08" fill="#9a90fd"/>
<rect x="13" y="0" width="1.08" height="1.08" fill="#8e83fd"/>
<rect x="14" y="0" width="1.08" height="1.08" fill="#8e83fd"/>
<rect x="15" y="0" width="1.08" height="1.08" fill="#7e72fd"/>
<rect x="16" y="0" width="1.08" height="1.08" fill="#8277fd"/>
<rect x="17" y="0" width="1.08" height="1.08" fill="#8176fd"/>
<rect x="18" y="0" width="1.08" height="1.08" fill="#786bfd"/>
<rect x="0" y="1" width="1.08" height="1.08" fill="#aba3fe"/>
<rect x="1" y="1" width="1.08" height="1.08" fill="#a69efd"/>
<rect x="2" y="1" width="1.08" height="1.08" fill="#9389fd"/>
<rect x="3" y="1" width="1.08" height="1.08" fill="#9e95fd"/>
<rect x="4" y="1" width="1.08" height="1.08" fill="#9288fd"/>
<rect x="5" y="1" width="1.08" height="1.08" fill="#8175fd"/>
<rect x="6" y="1" width="1.08" height="1.08" fill="#7e72fd"/>
<rect x="7" y="1" width="1.08" height="1.08" fill="#988efd"/>
<rect x="8" y="1" width="1.08" height="1.08" fill="#978dfd"/>
<rect x="9" y="1" width="1.08" height="1.08" fill="#a59dfd"/>
<rect x="10" y="1" width="1.08" height="1.08" fill="#aea7fe"/>
<rect x="11" y="1" width="1.08" height="1.08" fill="#a49cfd"/>
<rect x="12" y="1" width="1.08" height="1.08" fill="#a29afd"/>
<rect x="13" y="1" width="1.08" height="1.08" fill="#9187fd"/>
<rect x="14" y="1" width="1.08" height="1.08" fill="#948afd"/>
<rect x="15" y="1" width="1.08" height="1.08" fill="#8479fd"/>
<rect x="16" y="1" width="1.08" height="1.08" fill="#887dfd"/>
<rect x="17" y="1" width="1.08" height="1.08" fill="#8276fd"/>
<rect x="18" y="1" width="1.08" height="1.08" fill="#6f62fd"/>
<rect x="0" y="2" width="1.08" height="1.08" fill="#aaa3fe"/>
<rect x="1" y="2" width="1.08" height="1.08" fill="#a79ffd"/>
<rect x="2" y="2" width="1.08" height="1.08" fill="#b1aafe"/>
<rect x="3" y="2" width="1.08" height="1.08" fill="#9f96fd"/>
<rect x="4" y="2" width="1.08" height="1.08" fill="#9e95fd"/>
<rect x="5" y="2" width="1.08" height="1.08" fill="#9085fd"/>
<rect x="6" y="2" width="1.08" height="1.08" fill="#9b92fd"/>
<rect x="7" y="2" width="1.08" height="1.08" fill="#a097fd"/>
<rect x="8" y="2" width="1.08" height="1.08" fill="#a49cfd"/>
<rect x="9" y="2" width="1.08" height="1.08" fill="#aea7fe"/>
<rect x="10" y="2" width="1.08" height="1.08" fill="#b0a9fe"/>
<rect x="11" y="2" width="1.08" height="1.08" fill="#b2abfe"/>
<rect x="12" y="2" width="1.08" height="1.08" fill="#a69dfd"/>
<rect x="13" y="2" width="1.08" height="1.08" fill="#a69efd"/>
<rect x="14" y="2" width="1.08" height="1.08" fill="#9e96fd"/>
<rect x="15" y="2" width="1.08" height="1.08" fill="#9a91fd"/>
<rect x="16" y="2" width="1.08" height="1.08" fill="#8b80fd"/>
<rect x="17" y="2" width="1.08" height="1.08" fill="#7a6efd"/>
<rect x="18" y="2" width="1.08" height="1.08" fill="#877cfd"/>
<rect x="0" y="3" width="1.08" height="1.08" fill="#cac5fe"/>
<rect x="1" y="3" width="1.08" height="1.08" fill="#c3bdfe"/>
<rect x="2" y="3" width="1.08" height="1.08" fill="#b4adfe"/>
<rect x="3" y="3" width="1.08" height="1.08" fill="#b1aafe"/>
<rect x="4" y="3" width="1.08" height="1.08" fill="#a299fd"/>
<rect x="5" y="3" width="1.08" height="1.08" fill="#ada5fe"/>
<rect x="6" y="3" width="1.08" height="1.08" fill="#afa8fe"/>
<rect x="7" y="3" width="1.08" height="1.08" fill="#b1aafe"/>
<rect x="8" y="3" width="1.08" height="1.08" fill="#ada6fe"/>
<rect x="9" y="3" width="1.08" height="1.08" fill="#c0bbfe"/>
<rect x="10" y="3" width="1.08" height="1.08" fill="#c4bffe"/>
<rect x="11" y="3" width="1.08" height="1.08" fill="#aea6fe"/>
<rect x="12" y="3" width="1.08" height="1.08" fill="#b8b1fe"/>
<rect x="13" y="3" width="1.08" height="1.08" fill="#a69efd"/>
<rect x="14" y="3" width="1.08" height="1.08" fill="#9990fd"/>
<rect x="15" y="3" width="1.08" height="1.08" fill="#958cfd"/>
<rect x="16" y="3" width="1.08" height="1.08" fill="#9990fd"/>
<rect x="17" y="3" width="1.08" height="1.08" fill="#988efd"/>
<rect x="18" y="3" width="1.08" height="1.08" fill="#8277fd"/>
<rect x="0" y="4" width="1.08" height="1.08" fill="#cbc6fe"/>
<rect x="1" y="4" width="1.08" height="1.08" fill="#bcb6fe"/>
<rect x="2" y="4" width="1.08" height="1.08" fill="#c4bffe"/>
<rect x="3" y="4" width="1.08" height="1.08" fill="#b6b0fe"/>
<rect x="4" y="4" width="1.08" height="1.08" fill="#bfb9fe"/>
<rect x="5" y="4" width="1.08" height="1.08" fill="#c0bafe"/>
<rect x="6" y="4" width="1.08" height="1.08" fill="#bcb5fe"/>
<rect x="7" y="4" width="1.08" height="1.08" fill="#cec9fe"/>
<rect x="8" y="4" width="1.08" height="1.08" fill="#c2bdfe"/>
<rect x="9" y="4" width="1.08" height="1.08" fill="#beb8fe"/>
<rect x="10" y="4" width="1.08" height="1.08" fill="#c8c3fe"/>
<rect x="11" y="4" width="1.08" height="1.08" fill="#bcb5fe"/>
<rect x="12" y="4" width="1.08" height="1.08" fill="#bab3fe"/>
<rect x="13" y="4" width="1.08" height="1.08" fill="#b3acfe"/>
<rect x="14" y="4" width="1.08" height="1.08" fill="#aea7fe"/>
<rect x="15" y="4" width="1.08" height="1.08" fill="#9d94fd"/>
<rect x="16" y="4" width="1.08" height="1.08" fill="#948afd"/>
<rect x="17" y="4" width="1.08" height="1.08" fill="#a299fd"/>
<rect x="18" y="4" width="1.08" height="1.08" fill="#9288fd"/>
<rect x="0" y="5" width="1.08" height="1.08" fill="#cecafe"/>
<rect x="1" y="5" width="1.08" height="1.08" fill="#cdc9fe"/>
<rect x="2" y="5" width="1.08" height="1.08" fill="#c1bbfe"/>
<rect x="3" y="5" width="1.08" height="1.08" fill="#c3bdfe"/>
<rect x="4" y="5" width="1.08" height="1.08" fill="#c3befe"/>
<rect x="5" y="5" width="1.08" height="1.08" fill="#c8c3fe"/>
<rect x="6" y="5" width="1.08" height="1.08" fill="#cbc6fe"/>
<rect x="7" y="5" width="1.08" height="1.08" fill="#d0cbfe"/>
<rect x="8" y="5" width="1.08" height="1.08" fill="#dad7fe"/>
<rect x="9" y="5" width="1.08" height="1.08" fill="#e8e6ff"/>
<rect x="10" y="5" width="1.08" height="1.08" fill="#d7d3fe"/>
<rect x="11" y="5" width="1.08" height="1.08" fill="#cfcafe"/>
<rect x="12" y="5" width="1.08" height="1.08" fill="#cdc8fe"/>
<rect x="13" y="5" width="1.08" height="1.08" fill="#b8b1fe"/>
<rect x="14" y="5" width="1.08" height="1.08" fill="#b0a9fe"/>
<rect x="15" y="5" width="1.08" height="1.08" fill="#bab4fe"/>
<rect x="16" y="5" width="1.08" height="1.08" fill="#a9a1fe"/>
<rect x="17" y="5" width="1.08" height="1.08" fill="#a39afd"/>
<rect x="18" y="5" width="1.08" height="1.08" fill="#9187fd"/>
<rect x="0" y="6" width="1.08" height="1.08" fill="#bfb9fe"/>
<rect x="1" y="6" width="1.08" height="1.08" fill="#c6c1fe"/>
<rect x="2" y="6" width="1.08" height="1.08" fill="#bcb6fe"/>
<rect x="3" y="6" width="1.08" height="1.08" fill="#cdc8fe"/>
<rect x="4" y="6" width="1.08" height="1.08" fill="#d0cbfe"/>
<rect x="5" y="6" width="1.08" height="1.08" fill="#c8c3fe"/>
<rect x="6" y="6" width="1.08" height="1.08" fill="#dad7fe"/>
<rect x="7" y="6" width="1.08" height="1.08" fill="#dfdcfe"/>
<rect x="8" y="6" width="1.08" height="1.08" fill="#f1f0ff"/>
<rect x="9" y="6" width="1.08" height="1.08" fill="#f2f1ff"/>
<rect x="10" y="6" width="1.08" height="1.08" fill="#e9e7ff"/>
<rect x="11" y="6" width="1.08" height="1.08" fill="#dddafe"/>
<rect x="12" y="6" width="1.08" height="1.08" fill="#c2bcfe"/>
<rect x="13" y="6" width="1.08" height="1.08" fill="#b7b1fe"/>
<rect x="14" y="6" width="1.08" height="1.08" fill="#bdb7fe"/>
<rect x="15" y="6" width="1.08" height="1.08" fill="#bdb7fe"/>
<rect x="16" y="6" width="1.08" height="1.08" fill="#a8a0fe"/>
<rect x="17" y="6" width="1.08" height="1.08" fill="#a69efd"/>
<rect x="18" y="6" width="1.08" height="1.08" fill="#a39bfd"/>
<rect x="0" y="7" width="1.08" height="1.08" fill="#bcb5fe"/>
<rect x="1" y="7" width="1.08" height="1.08" fill="#c3befe"/>
<rect x="2" y="7" width="1.08" height="1.08" fill="#c7c2fe"/>
<rect x="3" y="7" width="1.08" height="1.08" fill="#cfcafe"/>
<rect x="4" y="7" width="1.08" height="1.08" fill="#d9d6fe"/>
<rect x="5" y="7" width="1.08" height="1.08" fill="#dbd7fe"/>
<rect x="6" y="7" width="1.08" height="1.08" fill="#e4e1ff"/>
<rect x="7" y="7" width="1.08" height="1.08" fill="#fbfbff"/>
<rect x="8" y="7" width="1.08" height="1.08" fill="#ffffff"/>
<rect x="9" y="7" width="1.08" height="1.08" fill="#fdecee"/>
<rect x="10" y="7" width="1.08" height="1.08" fill="#fbfbff"/>
<rect x="11" y="7" width="1.08" height="1.08" fill="#dcd8fe"/>
<rect x="12" y="7" width="1.08" height="1.08" fill="#cbc7fe"/>
<rect x="13" y="7" width="1.08" height="1.08" fill="#cbc7fe"/>
<rect x="14" y="7" width="1.08" height="1.08" fill="#b7b0fe"/>
<rect x="15" y="7" width="1.08" height="1.08" fill="#b0a8fe"/>
<rect x="16" y="7" width="1.08" height="1.08" fill="#b0a8fe"/>
<rect x="17" y="7" width="1.08" height="1.08" fill="#b0a9fe"/>
<rect x="18" y="7" width="1.08" height="1.08" fill="#9d94fd"/>
<rect x="0" y="8" width="1.08" height="1.08" fill="#bcb5fe"/>
<rect x="1" y="8" width="1.08" height="1.08" fill="#c5c0fe"/>
<rect x="2" y="8" width="1.08" height="1.08" fill="#d8d4fe"/>
<rect x="3" y="8" width="1.08" height="1.08" fill="#d5d1fe"/>
<rect x="4" y="8" width="1.08" height="1.08" fill="#e5e2ff"/>
<rect x="5" y="8" width="1.08" height="1.08" fill="#e1dffe"/>
<rect x="6" y="8" width="1.08" height="1.08" fill="#f0efff"/>
<rect x="7" y="8" width="1.08" height="1.08" fill="#fef2f3"/>
<rect x="8" y="8" width="1.08" height="1.08" fill="#fbced3"/>
<rect x="9" y="8" width="1.08" height="1.08" fill="#fbd6db"/>
<rect x="10" y="8" width="1.08" height="1.08" fill="#ffffff"/>
<rect x="11" y="8" width="1.08" height="1.08" fill="#e0ddfe"/>
<rect x="12" y="8" width="1.08" height="1.08" fill="#d8d4fe"/>
<rect x="13" y="8" width="1.08" height="1.08" fill="#c1bbfe"/>
<rect x="14" y="8" width="1.08" height="1.08" fill="#c6c1fe"/>
<rect x="15" y="8" width="1.08" height="1.08" fill="#c0bbfe"/>
<rect x="16" y="8" width="1.08" height="1.08" fill="#ada5fe"/>
<rect x="17" y="8" width="1.08" height="1.08" fill="#aba3fe"/>
<rect x="18" y="8" width="1.08" height="1.08" fill="#b2abfe"/>
<rect x="0" y="9" width="1.08" height="1.08" fill="#c7c2fe"/>
<rect x="1" y="9" width="1.08" height="1.08" fill="#d5d1fe"/>
<rect x="2" y="9" width="1.08" height="1.08" fill="#d2cefe"/>
<rect x="3" y="9" width="1.08" height="1.08" fill="#d3cffe"/>
<rect x="4" y="9" width="1.08" height="1.08" fill="#dfdcfe"/>
<rect x="5" y="9" width="1.08" height="1.08" fill="#f9f8ff"/>
<rect x="6" y="9" width="1.08" height="1.08" fill="#fafaff"/>
<rect x="7" y="9" width="1.08" height="1.08" fill="#feeff1"/>
<rect x="8" y="9" width="1.08" height="1.08" fill="#fbd6da"/>
<rect x="9" y="9" width="1.08" height="1.08" fill="#fcd9dd"/>
<rect x="10" y="9" width="1.08" height="1.08" fill="#fef4f5"/>
<rect x="11" y="9" width="1.08" height="1.08" fill="#fbfaff"/>
<rect x="12" y="9" width="1.08" height="1.08" fill="#d5d1fe"/>
<rect x="13" y="9" width="1.08" height="1.08" fill="#beb8fe"/>
<rect x="14" y="9" width="1.08" height="1.08" fill="#ccc7fe"/>
<rect x="15" y="9" width="1.08" height="1.08" fill="#c3befe"/>
<rect x="16" y="9" width="1.08" height="1.08" fill="#c1bcfe"/>
<rect x="17" y="9" width="1.08" height="1.08" fill="#b1aafe"/>
<rect x="18" y="9" width="1.08" height="1.08" fill="#bab3fe"/>
<rect x="0" y="10" width="1.08" height="1.08" fill="#d4d0fe"/>
<rect x="1" y="10" width="1.08" height="1.08" fill="#d0ccfe"/>
<rect x="2" y="10" width="1.08" height="1.08" fill="#e4e2ff"/>
<rect x="3" y="10" width="1.08" height="1.08" fill="#eceaff"/>
<rect x="4" y="10" width="1.08" height="1.08" fill="#f0efff"/>
<rect x="5" y="10" width="1.08" height="1.08" fill="#faf9ff"/>
<rect x="6" y="10" width="1.08" height="1.08" fill="#fffbfb"/>
<rect x="7" y="10" width="1.08" height="1.08" fill="#fde9eb"/>
<rect x="8" y="10" width="1.08" height="1.08" fill="#fcdade"/>
<rect x="9" y="10" width="1.08" height="1.08" fill="#fde4e7"/>
<rect x="10" y="10" width="1.08" height="1.08" fill="#fdeaec"/>
<rect x="11" y="10" width="1.08" height="1.08" fill="#f5f5ff"/>
<rect x="12" y="10" width="1.08" height="1.08" fill="#e9e7ff"/>
<rect x="13" y="10" width="1.08" height="1.08" fill="#c4bffe"/>
<rect x="14" y="10" width="1.08" height="1.08" fill="#cfcbfe"/>
<rect x="15" y="10" width="1.08" height="1.08" fill="#c2bdfe"/>
<rect x="16" y="10" width="1.08" height="1.08" fill="#c3befe"/>
<rect x="17" y="10" width="1.08" height="1.08" fill="#bfb9fe"/>
<rect x="18" y="10" width="1.08" height="1.08" fill="#bdb7fe"/>
<rect x="0" y="11" width="1.08" height="1.08" fill="#d8d5fe"/>
<rect x="1" y="11" width="1.08" height="1.08" fill="#d6d2fe"/>
<rect x="2" y="11" width="1.08" height="1.08" fill="#edebff"/>
<rect x="3" y="11" width="1.08" height="1.08" fill="#e6e3ff"/>
<rect x="4" y="11" width="1.08" height="1.08" fill="#efeeff"/>
<rect x="5" y="11" width="1.08" height="1.08" fill="#fffdfd"/>
<rect x="6" y="11" width="1.08" height="1.08" fill="#fef5f6"/>
<rect x="7" y="11" width="1.08" height="1.08" fill="#fde9ec"/>
<rect x="8" y="11" width="1.08" height="1.08" fill="#fbced3"/>
<rect x="9" y="11" width="1.08" height="1.08" fill="#fcdde1"/>
<rect x="10" y="11" width="1.08" height="1.08" fill="#fdeeef"/>
<rect x="11" y="11" width="1.08" height="1.08" fill="#fbfbff"/>
<rect x="12" y="11" width="1.08" height="1.08" fill="#efeeff"/>
<rect x="13" y="11" width="1.08" height="1.08" fill="#d3cffe"/>
<rect x="14" y="11" width="1.08" height="1.08" fill="#d2cefe"/>
<rect x="15" y="11" width="1.08" height="1.08" fill="#c0bbfe"/>
<rect x="16" y="11" width="1.08" height="1.08" fill="#b8b2fe"/>
<rect x="17" y="11" width="1.08" height="1.08" fill="#bbb5fe"/>
<rect x="18" y="11" width="1.08" height="1.08" fill="#c0bafe"/>
<rect x="0" y="12" width="1.08" height="1.08" fill="#dfdcfe"/>
<rect x="1" y="12" width="1.08" height="1.08" fill="#f3f2ff"/>
<rect x="2" y="12" width="1.08" height="1.08" fill="#faf9ff"/>
<rect x="3" y="12" width="1.08" height="1.08" fill="#fcfbff"/>
<rect x="4" y="12" width="1.08" height="1.08" fill="#fffdfd"/>
<rect x="5" y="12" width="1.08" height="1.08" fill="#f5f4ff"/>
<rect x="6" y="12" width="1.08" height="1.08" fill="#fef3f4"/>
<rect x="7" y="12" width="1.08" height="1.08" fill="#fde3e5"/>
<rect x="8" y="12" width="1.08" height="1.08" fill="#fdecee"/>
<rect x="9" y="12" width="1.08" height="1.08" fill="#fdeef0"/>
<rect x="10" y="12" width="1.08" height="1.08" fill="#fef6f7"/>
<rect x="11" y="12" width="1.08" height="1.08" fill="#fffefe"/>
<rect x="12" y="12" width="1.08" height="1.08" fill="#eceaff"/>
<rect x="13" y="12" width="1.08" height="1.08" fill="#dddafe"/>
<rect x="14" y="12" width="1.08" height="1.08" fill="#dad6fe"/>
<rect x="15" y="12" width="1.08" height="1.08" fill="#bfb9fe"/>
<rect x="16" y="12" width="1.08" height="1.08" fill="#bab4fe"/>
<rect x="17" y="12" width="1.08" height="1.08" fill="#b7b0fe"/>
<rect x="18" y="12" width="1.08" height="1.08" fill="#b5aefe"/>
<rect x="0" y="13" width="1.08" height="1.08" fill="#ebe9ff"/>
<rect x="1" y="13" width="1.08" height="1.08" fill="#fffdfd"/>
<rect x="2" y="13" width="1.08" height="1.08" fill="#fffdfe"/>
<rect x="3" y="13" width="1.08" height="1.08" fill="#f3f1ff"/>
<rect x="4" y="13" width="1.08" height="1.08" fill="#ffffff"/>
<rect x="5" y="13" width="1.08" height="1.08" fill="#fefeff"/>
<rect x="6" y="13" width="1.08" height="1.08" fill="#fffafb"/>
<rect x="7" y="13" width="1.08" height="1.08" fill="#fef2f4"/>
<rect x="8" y="13" width="1.08" height="1.08" fill="#fde6e9"/>
<rect x="9" y="13" width="1.08" height="1.08" fill="#fdebed"/>
<rect x="10" y="13" width="1.08" height="1.08" fill="#fef8f9"/>
<rect x="11" y="13" width="1.08" height="1.08" fill="#fafaff"/>
<rect x="12" y="13" width="1.08" height="1.08" fill="#f3f2ff"/>
<rect x="13" y="13" width="1.08" height="1.08" fill="#e2dfff"/>
<rect x="14" y="13" width="1.08" height="1.08" fill="#e0ddfe"/>
<rect x="15" y="13" width="1.08" height="1.08" fill="#d9d6fe"/>
<rect x="16" y="13" width="1.08" height="1.08" fill="#cac5fe"/>
<rect x="17" y="13" width="1.08" height="1.08" fill="#bcb6fe"/>
<rect x="18" y="13" width="1.08" height="1.08" fill="#bcb6fe"/>
<rect x="0" y="14" width="1.08" height="1.08" fill="#ffffff"/>
<rect x="1" y="14" width="1.08" height="1.08" fill="#fffafb"/>
<rect x="2" y="14" width="1.08" height="1.08" fill="#fef5f6"/>
<rect x="3" y="14" width="1.08" height="1.08" fill="#fffdfd"/>
<rect x="4" y="14" width="1.08" height="1.08" fill="#fef3f4"/>
<rect x="5" y="14" width="1.08" height="1.08" fill="#fef7f8"/>
<rect x="6" y="14" width="1.08" height="1.08" fill="#fef9fa"/>
<rect x="7" y="14" width="1.08" height="1.08" fill="#fef7f7"/>
<rect x="8" y="14" width="1.08" height="1.08" fill="#feeef0"/>
<rect x="9" y="14" width="1.08" height="1.08" fill="#fde6e9"/>
<rect x="10" y="14" width="1.08" height="1.08" fill="#feeff1"/>
<rect x="11" y="14" width="1.08" height="1.08" fill="#fef3f4"/>
<rect x="12" y="14" width="1.08" height="1.08" fill="#fdfcff"/>
<rect x="13" y="14" width="1.08" height="1.08" fill="#edebff"/>
<rect x="14" y="14" width="1.08" height="1.08" fill="#e8e6ff"/>
<rect x="15" y="14" width="1.08" height="1.08" fill="#e2dfff"/>
<rect x="16" y="14" width="1.08" height="1.08" fill="#cac5fe"/>
<rect x="17" y="14" width="1.08" height="1.08" fill="#cbc6fe"/>
<rect x="18" y="14" width="1.08" height="1.08" fill="#c9c4fe"/>
<rect x="0" y="15" width="1.08" height="1.08" fill="#fde7ea"/>
<rect x="1" y="15" width="1.08" height="1.08" fill="#fde7ea"/>
<rect x="2" y="15" width="1.08" height="1.08" fill="#fef5f6"/>
<rect x="3" y="15" width="1.08" height="1.08" fill="#fde8eb"/>
<rect x="4" y="15" width="1.08" height="1.08" fill="#fdebed"/>
<rect x="5" y="15" width="1.08" height="1.08" fill="#fef7f8"/>
<rect x="6" y="15" width="1.08" height="1.08" fill="#fef3f4"/>
<rect x="7" y="15" width="1.08" height="1.08" fill="#fffbfb"/>
<rect x="8" y="15" width="1.08" height="1.08" fill="#fde7ea"/>
<rect x="9" y="15" width="1.08" height="1.08" fill="#fde3e6"/>
<rect x="10" y="15" width="1.08" height="1.08" fill="#fcdee1"/>
<rect x="11" y="15" width="1.08" height="1.08" fill="#fdebed"/>
<rect x="12" y="15" width="1.08" height="1.08" fill="#fef9fa"/>
<rect x="13" y="15" width="1.08" height="1.08" fill="#fbfaff"/>
<rect x="14" y="15" width="1.08" height="1.08" fill="#ebeaff"/>
<rect x="15" y="15" width="1.08" height="1.08" fill="#d9d6fe"/>
<rect x="16" y="15" width="1.08" height="1.08" fill="#dcd9fe"/>
<rect x="17" y="15" width="1.08" height="1.08" fill="#cac5fe"/>
<rect x="18" y="15" width="1.08" height="1.08" fill="#cbc6fe"/>
<rect x="0" y="16" width="1.08" height="1.08" fill="#fcdde1"/>
<rect x="1" y="16" width="1.08" height="1.08" fill="#fef0f2"/>
<rect x="2" y="16" width="1.08" height="1.08" fill="#fef0f2"/>
<rect x="3" y="16" width="1.08" height="1.08" fill="#fef1f3"/>
<rect x="4" y="16" width="1.08" height="1.08" fill="#fce0e3"/>
<rect x="5" y="16" width="1.08" height="1.08" fill="#fef1f2"/>
<rect x="6" y="16" width="1.08" height="1.08" fill="#fef6f7"/>
<rect x="7" y="16" width="1.08" height="1.08" fill="#fde4e7"/>
<rect x="8" y="16" width="1.08" height="1.08" fill="#fef5f6"/>
<rect x="9" y="16" width="1.08" height="1.08" fill="#fce1e4"/>
<rect x="10" y="16" width="1.08" height="1.08" fill="#fde8ea"/>
<rect x="11" y="16" width="1.08" height="1.08" fill="#fdecee"/>
<rect x="12" y="16" width="1.08" height="1.08" fill="#fef2f4"/>
<rect x="13" y="16" width="1.08" height="1.08" fill="#f9f8ff"/>
<rect x="14" y="16" width="1.08" height="1.08" fill="#f3f2ff"/>
<rect x="15" y="16" width="1.08" height="1.08" fill="#dcd9fe"/>
<rect x="16" y="16" width="1.08" height="1.08" fill="#e6e4ff"/>
<rect x="17" y="16" width="1.08" height="1.08" fill="#dddafe"/>
<rect x="18" y="16" width="1.08" height="1.08" fill="#e0ddfe"/>
<rect x="0" y="17" width="1.08" height="1.08" fill="#fce1e4"/>
<rect x="1" y="17" width="1.08" height="1.08" fill="#fbd3d8"/>
<rect x="2" y="17" width="1.08" height="1.08" fill="#fbd0d5"/>
<rect x="3" y="17" width="1.08" height="1.08" fill="#fde5e8"/>
<rect x="4" y="17" width="1.08" height="1.08" fill="#fce0e3"/>
<rect x="5" y="17" width="1.08" height="1.08" fill="#fcdcdf"/>
<rect x="6" y="17" width="1.08" height="1.08" fill="#fcd9dd"/>
<rect x="7" y="17" width="1.08" height="1.08" fill="#fdeaec"/>
<rect x="8" y="17" width="1.08" height="1.08" fill="#fef2f3"/>
<rect x="9" y="17" width="1.08" height="1.08" fill="#fef4f5"/>
<rect x="10" y="17" width="1.08" height="1.08" fill="#fef0f1"/>
<rect x="11" y="17" width="1.08" height="1.08" fill="#fef3f4"/>
<rect x="12" y="17" width="1.08" height="1.08" fill="#fbfaff"/>
<rect x="13" y="17" width="1.08" height="1.08" fill="#f0efff"/>
<rect x="14" y="17" width="1.08" height="1.08" fill="#e8e6ff"/>
<rect x="15" y="17" width="1.08" height="1.08" fill="#e6e4ff"/>
<rect x="16" y="17" width="1.08" height="1.08" fill="#e4e2ff"/>
<rect x="17" y="17" width="1.08" height="1.08" fill="#dbd8fe"/>
<rect x="18" y="17" width="1.08" height="1.08" fill="#e3e0ff"/>
<rect x="0" y="18" width="1.08" height="1.08" fill="#fac4ca"/>
<rect x="1" y="18" width="1.08" height="1.08" fill="#fbd1d6"/>
<rect x="2" y="18" width="1.08" height="1.08" fill="#fac9cf"/>
<rect x="3" y="18" width="1.08" height="1.08" fill="#fbd6da"/>
<rect x="4" y="18" width="1.08" height="1.08" fill="#fac9cf"/>
<rect x="5" y="18" width="1.08" height="1.08" fill="#facacf"/>
<rect x="6" y="18" width="1.08" height="1.08" fill="#fbd0d5"/>
<rect x="7" y="18" width="1.08" height="1.08" fill="#fcd9dd"/>
<rect x="8" y="18" width="1.08" height="1.08" fill="#fde3e6"/>
<rect x="9" y="18" width="1.08" height="1.08" fill="#fde7e9"/>
<rect x="10" y="18" width="1.08" height="1.08" fill="#fde9eb"/>
<rect x="11" y="18" width="1.08" height="1.08" fill="#fbfbff"/>
<rect x="12" y="18" width="1.08" height="1.08" fill="#f1f0ff"/>
<rect x="13" y="18" width="1.08" height="1.08" fill="#f5f4ff"/>
<rect x="14" y="18" width="1.08" height="1.08" fill="#f3f2ff"/>
<rect x="15" y="18" width="1.08" height="1.08" fill="#eceaff"/>
<rect x="16" y="18" width="1.08" height="1.08" fill="#eae8ff"/>
<rect x="17" y="18" width="1.08" height="1.08" fill="#efeeff"/>
<rect x="18" y="18" width="1.08" height="1.08" fill="#e2dffe"/>
<rect x="0" y="19" width="1.08" height="1.08" fill="#fbcdd2"/>
<rect x="1" y="19" width="1.08" height="1.08" fill="#fbced3"/>
<rect x="2" y="19" width="1.08" height="1.08" fill="#fac5cb"/>
<rect x="3" y="19" width="1.08" height="1.08" fill="#facbd0"/>
<rect x="4" y="19" width="1.08" height="1.08" fill="#fbccd1"/>
<rect x="5" y="19" width="1.08" height="1.08" fill="#fac3ca"/>
<rect x="6" y="19" width="1.08" height="1.08" fill="#fac0c7"/>
<rect x="7" y="19" width="1.08" height="1.08" fill="#fbd5d9"/>
<rect x="8" y="19" width="1.08" height="1.08" fill="#fbd6da"/>
<rect x="9" y="19" width="1.08" height="1.08" fill="#fde7ea"/>
<rect x="10" y="19" width="1.08" height="1.08" fill="#fde6e9"/>
<rect x="11" y="19" width="1.08" height="1.08" fill="#fef5f6"/>
<rect x="12" y="19" width="1.08" height="1.08" fill="#fafaff"/>
<rect x="13" y="19" width="1.08" height="1.08" fill="#f1efff"/>
<rect x="14" y="19" width="1.08" height="1.08" fill="#e8e6ff"/>
<rect x="15" y="19" width="1.08" height="1.08" fill="#f2f1ff"/>
<rect x="16" y="19" width="1.08" height="1.08" fill="#f0eeff"/>
<rect x="17" y="19" width="1.08" height="1.08" fill="#e9e7ff"/>
<rect x="18" y="19" width="1.08" height="1.08" fill="#ebeaff"/>
<rect x="0" y="20" width="1.08" height="1.08" fill="#fac3c9"/>
<rect x="1" y="20" width="1.08" height="1.08" fill="#f9b9c0"/>
<rect x="2" y="20" width="1.08" height="1.08" fill="#fac7cd"/>
<rect x="3" y="20" width="1.08" height="1.08" fill="#f9b5bc"/>
<rect x="4" y="20" width="1.08" height="1.08" fill="#fac2c8"/>
<rect x="5" y="20" width="1.08" height="1.08" fill="#fac4ca"/>
<rect x="6" y="20" width="1.08" height="1.08" fill="#fbccd1"/>
<rect x="7" y="20" width="1.08" height="1.08" fill="#facad0"/>
<rect x="8" y="20" width="1.08" height="1.08" fill="#fbd4d8"/>
<rect x="9" y="20" width="1.08" height="1.08" fill="#fde3e6"/>
<rect x="10" y="20" width="1.08" height="1.08" fill="#fdedee"/>
<rect x="11" y="20" width="1.08" height="1.08" fill="#feeff1"/>
<rect x="12" y="20" width="1.08" height="1.08" fill="#fef0f1"/>
<rect x="13" y="20" width="1.08" height="1.08" fill="#ffffff"/>
<rect x="14" y="20" width="1.08" height="1.08" fill="#fffafb"/>
<rect x="15" y="20" width="1.08" height="1.08" fill="#fef5f6"/>
<rect x="16" y="20" width="1.08" height="1.08" fill="#fcfcff"/>
<rect x="17" y="20" width="1.08" height="1.08" fill="#f4f3ff"/>
<rect x="18" y="20" width="1.08" height="1.08" fill="#f2f1ff"/>
<rect x="0" y="21" width="1.08" height="1.08" fill="#f8aeb6"/>
<rect x="1" y="21" width="1.08" height="1.08" fill="#f8b3ba"/>
<rect x="2" y="21" width="1.08" height="1.08" fill="#f8afb7"/>
<rect x="3" y="21" width="1.08" height="1.08" fill="#f8b4bb"/>
<rect x="4" y="21" width="1.08" height="1.08" fill="#fac4ca"/>
<rect x="5" y="21" width="1.08" height="1.08" fill="#fbccd1"/>
<rect x="6" y="21" width="1.08" height="1.08" fill="#fbd2d7"/>
<rect x="7" y="21" width="1.08" height="1.08" fill="#fcdcdf"/>
<rect x="8" y="21" width="1.08" height="1.08" fill="#fcd8dc"/>
<rect x="9" y="21" width="1.08" height="1.08" fill="#fcdde0"/>
<rect x="10" y="21" width="1.08" height="1.08" fill="#fde2e5"/>
<rect x="11" y="21" width="1.08" height="1.08" fill="#fef8f9"/>
<rect x="12" y="21" width="1.08" height="1.08" fill="#fdedef"/>
<rect x="13" y="21" width="1.08" height="1.08" fill="#fffcfc"/>
<rect x="14" y="21" width="1.08" height="1.08" fill="#fef9fa"/>
<rect x="15" y="21" width="1.08" height="1.08" fill="#fef1f2"/>
<rect x="16" y="21" width="1.08" height="1.08" fill="#fefeff"/>
<rect x="17" y="21" width="1.08" height="1.08" fill="#fcfcff"/>
<rect x="18" y="21" width="1.08" height="1.08" fill="#fef4f5"/>
</g>
<path d="M11.20 559.20L20.80 556.90L33.60 552.50L44.50 547.60" stroke="#222" stroke-width="0.55" fill="none" stroke-linejoin="round"/>
<path d="M65.44 599.01L66.08 598.07L67.13 597.64L67.99 596.97L69.13 596.24L70.36 596.52L71.57 596.66L72.76 596.32L73.80 596.50L74.63 597.48L75.62 597.03L76.61 596.66L77.66 596.82L78.72 596.97L79.63 597.66L80.99 596.99L81.79 597.99L82.76 598.43L83.96 597.97L84.75 599.19L85.87 599.01L86.81 599.61L88.02 599.10L88.81 600.29L89.96 600.04L90.91 600.61L92.16 599.93L93.06 600.67L94.05 601.06L94.94 601.84L95.81 602.65L97.12 602.59L98.04 603.08L98.45 603.92L98.30 605.12L99.16 605.66L98.16 606.46L99.06 607.89L98.14 608.72L97.48 609.98L96.09 610.25L95.40 610.97L95.67 612.06L95.07 612.81L94.52 613.77L93.27 614.16L93.03 615.36L91.78 615.84L90.98 616.90L89.66 616.92L88.43 617.41L87.04 617.12L85.87 617.92L85.01 617.10L83.83 616.90L82.66 616.80L81.72 617.37L80.77 617.92L79.81 617.28L78.72 616.90L77.62 616.17L77.70 614.85L76.95 613.79L75.66 613.83L74.91 612.77L73.61 612.81L72.46 612.22L71.57 611.28L70.33 610.84L69.01 610.77L67.59 611.22L66.46 610.25L65.44 610.00L64.42 609.74L63.90 608.21L65.22 608.14L66.46 607.70L67.34 606.91L68.50 606.68L68.90 605.60L69.52 604.63L70.27 603.73L70.04 602.59L68.89 602.20L68.50 601.06L67.70 600.60L66.63 600.55L66.11 599.67Z" stroke="#f05af0" stroke-width="1.05" fill="none" stroke-linejoin="round"/>
<circle cx="92.21" cy="598.71" r="1.1" fill="#dde" stroke="#777" stroke-width="0.4"/>
<circle cx="83.83" cy="607.50" r="1.1" fill="#dde" stroke="#777" stroke-width="0.4"/>
<circle cx="86.39" cy="612.30" r="1.1" fill="#dde" stroke="#777" stroke-width="0.4"/>
<circle cx="99.16" cy="617.41" r="1.1" fill="#dde" stroke="#777" stroke-width="0.4"/>
<circle cx="68.71" cy="609.74" r="1.1" fill="#dde" stroke="#777" stroke-width="0.4"/>
<circle cx="73.61" cy="610.77" r="1.1" fill="#dde" stroke="#777" stroke-width="0.4"/>
<circle cx="77.50" cy="609.95" r="1.1" fill="#dde" stroke="#777" stroke-width="0.4"/>
</g>
<rect x="11.20" y="547.60" width="138.50" height="118.50" fill="none" stroke="#8e8e8e" stroke-width="0.9"/>
<path d="M61.86 588.28L77.70 586.44L78.93 590.84L86.39 590.12L87.71 594.62L95.28 593.90L96.60 598.30L104.47 597.69L105.80 602.39L99.16 603.41L100.18 607.90L93.03 608.72L94.05 613.01L87.10 613.83L87.92 618.43L80.77 619.14L79.95 614.85L72.59 615.67L71.77 611.28L64.42 611.99L63.39 607.50L56.75 608.21L50.62 600.55L57.77 599.52L57.06 594.93L63.39 594.21Z" stroke="#86972e" stroke-width="1.1" fill="none" stroke-linejoin="miter"/>
<path d="M65.44 598.50L80.77 596.66L81.58 600.55L89.14 599.83L90.47 605.25L83.83 606.17L84.44 610.56L77.50 611.28L75.66 607.50L69.01 607.90Z" stroke="#a8262e" stroke-width="1.1" fill="none" stroke-linejoin="miter"/>
<clipPath id="m514_16"><rect x="514.80" y="16.30" width="134.60" height="117.60"/></clipPath>
<g clip-path="url(#m514_16)">
<g transform="matrix(13.1600 0.2400 -0.3700 11.4600 517.600 16.400)">
<rect x="0" y="0" width="1.08" height="1.08" fill="#fac4ca"/>
<rect x="1" y="0" width="1.08" height="1.08" fill="#fcd8dc"/>
<rect x="2" y="0" width="1.08" height="1.08" fill="#fde6e8"/>
<rect x="3" y="0" width="1.08" height="1.08" fill="#fef9fa"/>
<rect x="4" y="0" width="1.08" height="1.08" fill="#f2f1ff"/>
<rect x="5" y="0" width="1.08" height="1.08" fill="#e5e3ff"/>
<rect x="6" y="0" width="1.08" height="1.08" fill="#dedbfe"/>
<rect x="7" y="0" width="1.08" height="1.08" fill="#dedbfe"/>
<rect x="8" y="0" width="1.08" height="1.08" fill="#e9e7ff"/>
<rect x="9" y="0" width="1.08" height="1.08" fill="#c9c4fe"/>
<rect x="0" y="1" width="1.08" height="1.08" fill="#fac1c7"/>
<rect x="1" y="1" width="1.08" height="1.08" fill="#fbd0d5"/>
<rect x="2" y="1" width="1.08" height="1.08" fill="#fce2e5"/>
<rect x="3" y="1" width="1.08" height="1.08" fill="#fef5f6"/>
<rect x="4" y="1" width="1.08" height="1.08" fill="#f9f9ff"/>
<rect x="5" y="1" width="1.08" height="1.08" fill="#e9e7ff"/>
<rect x="6" y="1" width="1.08" height="1.08" fill="#dedbfe"/>
<rect x="7" y="1" width="1.08" height="1.08" fill="#d6d2fe"/>
<rect x="8" y="1" width="1.08" height="1.08" fill="#d2cefe"/>
<rect x="9" y="1" width="1.08" height="1.08" fill="#d6d2fe"/>
<rect x="0" y="2" width="1.08" height="1.08" fill="#f9bbc2"/>
<rect x="1" y="2" width="1.08" height="1.08" fill="#fac4ca"/>
<rect x="2" y="2" width="1.08" height="1.08" fill="#fcd8dc"/>
<rect x="3" y="2" width="1.08" height="1.08" fill="#fdecee"/>
<rect x="4" y="2" width="1.08" height="1.08" fill="#fef5f6"/>
<rect x="5" y="2" width="1.08" height="1.08" fill="#f8f7ff"/>
<rect x="6" y="2" width="1.08" height="1.08" fill="#e5e3ff"/>
<rect x="7" y="2" width="1.08" height="1.08" fill="#dad7fe"/>
<rect x="8" y="2" width="1.08" height="1.08" fill="#d2cefe"/>
<rect x="9" y="2" width="1.08" height="1.08" fill="#d6d2fe"/>
<rect x="0" y="3" width="1.08" height="1.08" fill="#f9b9c0"/>
<rect x="1" y="3" width="1.08" height="1.08" fill="#f9bfc5"/>
<rect x="2" y="3" width="1.08" height="1.08" fill="#fbd0d5"/>
<rect x="3" y="3" width="1.08" height="1.08" fill="#fce2e5"/>
<rect x="4" y="3" width="1.08" height="1.08" fill="#fdecee"/>
<rect x="5" y="3" width="1.08" height="1.08" fill="#f8f7ff"/>
<rect x="6" y="3" width="1.08" height="1.08" fill="#ecebff"/>
<rect x="7" y="3" width="1.08" height="1.08" fill="#e1dffe"/>
<rect x="8" y="3" width="1.08" height="1.08" fill="#dad7fe"/>
<rect x="9" y="3" width="1.08" height="1.08" fill="#d6d2fe"/>
<rect x="0" y="4" width="1.08" height="1.08" fill="#f9bfc5"/>
<rect x="1" y="4" width="1.08" height="1.08" fill="#fac4ca"/>
<rect x="2" y="4" width="1.08" height="1.08" fill="#fbd0d5"/>
<rect x="3" y="4" width="1.08" height="1.08" fill="#fce2e5"/>
<rect x="4" y="4" width="1.08" height="1.08" fill="#feeff1"/>
<rect x="5" y="4" width="1.08" height="1.08" fill="#f0efff"/>
<rect x="6" y="4" width="1.08" height="1.08" fill="#f4f3ff"/>
<rect x="7" y="4" width="1.08" height="1.08" fill="#e9e7ff"/>
<rect x="8" y="4" width="1.08" height="1.08" fill="#e1dffe"/>
<rect x="9" y="4" width="1.08" height="1.08" fill="#dedbfe"/>
<rect x="0" y="5" width="1.08" height="1.08" fill="#fbd0d5"/>
<rect x="1" y="5" width="1.08" height="1.08" fill="#fbd0d5"/>
<rect x="2" y="5" width="1.08" height="1.08" fill="#fcdce0"/>
<rect x="3" y="5" width="1.08" height="1.08" fill="#fde6e8"/>
<rect x="4" y="5" width="1.08" height="1.08" fill="#fef3f4"/>
<rect x="5" y="5" width="1.08" height="1.08" fill="#fef9fa"/>
<rect x="6" y="5" width="1.08" height="1.08" fill="#fffbfc"/>
<rect x="7" y="5" width="1.08" height="1.08" fill="#f8f7ff"/>
<rect x="8" y="5" width="1.08" height="1.08" fill="#ecebff"/>
<rect x="9" y="5" width="1.08" height="1.08" fill="#e9e7ff"/>
<rect x="0" y="6" width="1.08" height="1.08" fill="#fef9fa"/>
<rect x="1" y="6" width="1.08" height="1.08" fill="#fdecee"/>
<rect x="2" y="6" width="1.08" height="1.08" fill="#fde6e8"/>
<rect x="3" y="6" width="1.08" height="1.08" fill="#feeff1"/>
<rect x="4" y="6" width="1.08" height="1.08" fill="#fef3f4"/>
<rect x="5" y="6" width="1.08" height="1.08" fill="#fef1f3"/>
<rect x="6" y="6" width="1.08" height="1.08" fill="#fdedef"/>
<rect x="7" y="6" width="1.08" height="1.08" fill="#fef3f4"/>
<rect x="8" y="6" width="1.08" height="1.08" fill="#fef7f8"/>
<rect x="9" y="6" width="1.08" height="1.08" fill="#fffdfd"/>
<rect x="0" y="7" width="1.08" height="1.08" fill="#d1ccfe"/>
<rect x="1" y="7" width="1.08" height="1.08" fill="#e1dffe"/>
<rect x="2" y="7" width="1.08" height="1.08" fill="#ecebff"/>
<rect x="3" y="7" width="1.08" height="1.08" fill="#f6f5ff"/>
<rect x="4" y="7" width="1.08" height="1.08" fill="#fef9fa"/>
<rect x="5" y="7" width="1.08" height="1.08" fill="#fbd4d8"/>
<rect x="6" y="7" width="1.08" height="1.08" fill="#fbd0d5"/>
<rect x="7" y="7" width="1.08" height="1.08" fill="#fcdce0"/>
<rect x="8" y="7" width="1.08" height="1.08" fill="#fce2e5"/>
<rect x="9" y="7" width="1.08" height="1.08" fill="#fdecee"/>
<rect x="0" y="8" width="1.08" height="1.08" fill="#9086fd"/>
<rect x="1" y="8" width="1.08" height="1.08" fill="#ada6fe"/>
<rect x="2" y="8" width="1.08" height="1.08" fill="#c0bafe"/>
<rect x="3" y="8" width="1.08" height="1.08" fill="#e5e3ff"/>
<rect x="4" y="8" width="1.08" height="1.08" fill="#fef9fa"/>
<rect x="5" y="8" width="1.08" height="1.08" fill="#f9bfc5"/>
<rect x="6" y="8" width="1.08" height="1.08" fill="#f9b7be"/>
<rect x="7" y="8" width="1.08" height="1.08" fill="#f9bfc5"/>
<rect x="8" y="8" width="1.08" height="1.08" fill="#fac8ce"/>
<rect x="9" y="8" width="1.08" height="1.08" fill="#fbd4d8"/>
<rect x="0" y="9" width="1.08" height="1.08" fill="#5040fc"/>
<rect x="1" y="9" width="1.08" height="1.08" fill="#887dfd"/>
<rect x="2" y="9" width="1.08" height="1.08" fill="#ada6fe"/>
<rect x="3" y="9" width="1.08" height="1.08" fill="#dad7fe"/>
<rect x="4" y="9" width="1.08" height="1.08" fill="#fef5f6"/>
<rect x="5" y="9" width="1.08" height="1.08" fill="#f9bfc5"/>
<rect x="6" y="9" width="1.08" height="1.08" fill="#f7a7b0"/>
<rect x="7" y="9" width="1.08" height="1.08" fill="#f8b3bb"/>
<rect x="8" y="9" width="1.08" height="1.08" fill="#f9bfc5"/>
<rect x="9" y="9" width="1.08" height="1.08" fill="#fbd0d5"/>
</g>
<path d="M568.76 63.20L581.92 63.44M568.39 74.66L581.55 74.90M568.76 63.20L568.39 74.66M581.18 86.36L594.34 86.60M581.55 74.90L581.18 86.36M594.71 75.14L594.34 86.60M595.08 63.68L608.24 63.92M594.71 75.14L607.87 75.38M608.24 63.92L607.87 75.38M582.29 51.98L595.45 52.22M582.29 51.98L581.92 63.44M595.45 52.22L595.08 63.68" stroke="#86972e" stroke-width="1.1" fill="none" stroke-linecap="square"/>
<path d="M581.92 63.44L595.08 63.68M581.55 74.90L594.71 75.14M581.92 63.44L581.55 74.90M595.08 63.68L594.71 75.14" stroke="#a8262e" stroke-width="1.1" fill="none" stroke-linecap="square"/>
<path d="M581.49 47.72L582.51 47.34L583.53 47.72L584.55 47.21L585.57 47.72L584.85 48.63L585.45 49.86L584.73 50.77L584.55 51.81L584.13 52.96L585.11 53.82L584.48 55.01L585.03 55.96L585.57 56.92L586.13 57.78L586.65 58.67L587.31 59.45L588.19 60.06L588.64 61.01L588.53 62.19L589.78 62.46L589.57 63.71L590.68 64.07L591.60 64.79L592.87 63.79L593.82 64.33L594.78 64.86L595.79 65.09L596.67 65.88L597.99 65.32L598.86 66.12L599.94 65.94L600.84 65.25L601.92 65.09L602.93 65.07L603.85 64.85L604.55 64.22L604.99 63.05L606.01 63.05L606.42 64.01L607.44 64.35L608.06 65.09L608.35 66.23L609.45 66.70L610.10 67.55L611.32 67.76L612.38 67.52L613.33 66.93L614.19 66.12L615.21 66.60L616.23 66.59L617.25 66.25L618.27 66.12L617.94 67.14L616.40 66.96L616.23 68.16L615.44 68.62L614.92 69.63L613.82 69.47L613.02 69.91L612.14 70.20L611.26 70.97L609.88 70.23L609.08 71.22L609.09 72.51L608.06 73.27L606.95 73.27L606.48 74.23L606.02 75.20L604.99 75.31L604.34 76.00L603.50 76.40L603.01 77.32L601.92 77.36L601.09 77.90L600.71 78.76L599.79 79.25L599.88 80.42L598.76 80.84L598.04 81.65L597.05 82.19L596.82 83.49L595.93 84.35L596.09 85.48L595.99 86.54L595.79 87.57L594.79 87.03L593.75 86.55L593.40 85.54L592.84 84.74L591.71 84.51L591.61 83.47L591.11 82.69L589.58 82.60L589.66 81.44L588.67 81.81L587.77 82.55L586.57 82.09L585.57 82.47L584.70 82.77L583.90 83.20L582.88 83.21L582.49 84.47L581.49 84.51L580.52 84.61L579.79 85.21L579.23 86.12L577.90 85.50L577.40 86.55L576.17 86.85L575.34 85.92L574.33 85.53L574.04 84.49L573.79 83.44L573.31 82.47L574.59 82.21L574.90 80.99L576.02 80.58L576.38 79.40L576.43 78.28L577.03 77.35L577.40 76.33L576.45 75.86L576.55 74.68L575.77 74.10L575.36 73.27L575.51 72.14L574.28 71.37L574.54 70.22L574.33 69.18L575.42 68.80L574.75 67.24L576.07 67.02L576.38 66.12L577.11 65.50L577.68 64.77L577.98 63.86L578.42 63.05L578.93 62.28L580.02 61.90L579.68 60.57L580.47 59.98L580.97 59.02L581.12 57.99L581.41 56.99L581.25 55.89L581.49 54.87L580.37 54.51L580.81 53.11L579.68 52.76L579.44 51.81L580.23 51.18L580.91 50.50L581.04 49.54L580.95 48.47Z" stroke="#f05af0" stroke-width="1.05" fill="none" stroke-linejoin="round"/>
</g>
<rect x="514.80" y="16.30" width="134.60" height="117.60" fill="none" stroke="#8e8e8e" stroke-width="0.9"/>
<clipPath id="m514_149"><rect x="514.70" y="149.10" width="119.30" height="118.10"/></clipPath>
<g clip-path="url(#m514_149)">
<g transform="matrix(11.9300 0.0000 0.0000 11.8100 514.700 149.100)">
<rect x="0" y="0" width="1.08" height="1.08" fill="#fef5f6"/>
<rect x="1" y="0" width="1.08" height="1.08" fill="#5040fc"/>
<rect x="2" y="0" width="1.08" height="1.08" fill="#5040fc"/>
<rect x="3" y="0" width="1.08" height="1.08" fill="#5040fc"/>
<rect x="4" y="0" width="1.08" height="1.08" fill="#5040fc"/>
<rect x="5" y="0" width="1.08" height="1.08" fill="#5040fc"/>
<rect x="6" y="0" width="1.08" height="1.08" fill="#5040fc"/>
<rect x="7" y="0" width="1.08" height="1.08" fill="#5040fc"/>
<rect x="8" y="0" width="1.08" height="1.08" fill="#5040fc"/>
<rect x="9" y="0" width="1.08" height="1.08" fill="#5040fc"/>
<rect x="0" y="1" width="1.08" height="1.08" fill="#fef5f6"/>
<rect x="1" y="1" width="1.08" height="1.08" fill="#5040fc"/>
<rect x="2" y="1" width="1.08" height="1.08" fill="#5040fc"/>
<rect x="3" y="1" width="1.08" height="1.08" fill="#5040fc"/>
<rect x="4" y="1" width="1.08" height="1.08" fill="#5040fc"/>
<rect x="5" y="1" width="1.08" height="1.08" fill="#5040fc"/>
<rect x="6" y="1" width="1.08" height="1.08" fill="#5040fc"/>
<rect x="7" y="1" width="1.08" height="1.08" fill="#5040fc"/>
<rect x="8" y="1" width="1.08" height="1.08" fill="#5040fc"/>
<rect x="9" y="1" width="1.08" height="1.08" fill="#5040fc"/>
<rect x="0" y="2" width="1.08" height="1.08" fill="#fef5f6"/>
<rect x="1" y="2" width="1.08" height="1.08" fill="#5040fc"/>
<rect x="2" y="2" width="1.08" height="1.08" fill="#5040fc"/>
<rect x="3" y="2" width="1.08" height="1.08" fill="#5040fc"/>
<rect x="4" y="2" width="1.08" height="1.08" fill="#5040fc"/>
<rect x="5" y="2" width="1.08" height="1.08" fill="#5040fc"/>
<rect x="6" y="2" width="1.08" height="1.08" fill="#5040fc"/>
<rect x="7" y="2" width="1.08" height="1.08" fill="#5040fc"/>
<rect x="8" y="2" width="1.08" height="1.08" fill="#5040fc"/>
<rect x="9" y="2" width="1.08" height="1.08" fill="#5040fc"/>
<rect x="0" y="3" width="1.08" height="1.08" fill="#5040fc"/>
<rect x="1" y="3" width="1.08" height="1.08" fill="#5040fc"/>
<rect x="2" y="3" width="1.08" height="1.08" fill="#5040fc"/>
<rect x="3" y="3" width="1.08" height="1.08" fill="#5040fc"/>
<rect x="4" y="3" width="1.08" height="1.08" fill="#5040fc"/>
<rect x="5" y="3" width="1.08" height="1.08" fill="#5040fc"/>
<rect x="6" y="3" width="1.08" height="1.08" fill="#5040fc"/>
<rect x="7" y="3" width="1.08" height="1.08" fill="#5040fc"/>
<rect x="8" y="3" width="1.08" height="1.08" fill="#5040fc"/>
<rect x="9" y="3" width="1.08" height="1.08" fill="#5040fc"/>
<rect x="0" y="4" width="1.08" height="1.08" fill="#5040fc"/>
<rect x="1" y="4" width="1.08" height="1.08" fill="#eeedff"/>
<rect x="2" y="4" width="1.08" height="1.08" fill="#fef7f8"/>
<rect x="3" y="4" width="1.08" height="1.08" fill="#fef7f8"/>
<rect x="4" y="4" width="1.08" height="1.08" fill="#f9bfc5"/>
<rect x="5" y="4" width="1.08" height="1.08" fill="#f9bfc5"/>
<rect x="6" y="4" width="1.08" height="1.08" fill="#fbd0d5"/>
<rect x="7" y="4" width="1.08" height="1.08" fill="#fcd8dc"/>
<rect x="8" y="4" width="1.08" height="1.08" fill="#5040fc"/>
<rect x="9" y="4" width="1.08" height="1.08" fill="#5040fc"/>
<rect x="0" y="5" width="1.08" height="1.08" fill="#5040fc"/>
<rect x="1" y="5" width="1.08" height="1.08" fill="#d1ccfe"/>
<rect x="2" y="5" width="1.08" height="1.08" fill="#dad7fe"/>
<rect x="3" y="5" width="1.08" height="1.08" fill="#e1dffe"/>
<rect x="4" y="5" width="1.08" height="1.08" fill="#fef5f6"/>
<rect x="5" y="5" width="1.08" height="1.08" fill="#fde8ea"/>
<rect x="6" y="5" width="1.08" height="1.08" fill="#fef5f6"/>
<rect x="7" y="5" width="1.08" height="1.08" fill="#fdecee"/>
<rect x="8" y="5" width="1.08" height="1.08" fill="#fde8ea"/>
<rect x="9" y="5" width="1.08" height="1.08" fill="#fde8ea"/>
<rect x="0" y="6" width="1.08" height="1.08" fill="#c0bafe"/>
<rect x="1" y="6" width="1.08" height="1.08" fill="#bab4fe"/>
<rect x="2" y="6" width="1.08" height="1.08" fill="#a29afd"/>
<rect x="3" y="6" width="1.08" height="1.08" fill="#b5aefe"/>
<rect x="4" y="6" width="1.08" height="1.08" fill="#938afd"/>
<rect x="5" y="6" width="1.08" height="1.08" fill="#978efd"/>
<rect x="6" y="6" width="1.08" height="1.08" fill="#a29afd"/>
<rect x="7" y="6" width="1.08" height="1.08" fill="#aca4fe"/>
<rect x="8" y="6" width="1.08" height="1.08" fill="#c9c4fe"/>
<rect x="9" y="6" width="1.08" height="1.08" fill="#d8d4fe"/>
<rect x="0" y="7" width="1.08" height="1.08" fill="#5040fc"/>
<rect x="1" y="7" width="1.08" height="1.08" fill="#5040fc"/>
<rect x="2" y="7" width="1.08" height="1.08" fill="#9086fd"/>
<rect x="3" y="7" width="1.08" height="1.08" fill="#796dfd"/>
<rect x="4" y="7" width="1.08" height="1.08" fill="#8175fd"/>
<rect x="5" y="7" width="1.08" height="1.08" fill="#796dfd"/>
<rect x="6" y="7" width="1.08" height="1.08" fill="#6b5dfc"/>
<rect x="7" y="7" width="1.08" height="1.08" fill="#5040fc"/>
<rect x="8" y="7" width="1.08" height="1.08" fill="#5040fc"/>
<rect x="9" y="7" width="1.08" height="1.08" fill="#7669fd"/>
<rect x="0" y="8" width="1.08" height="1.08" fill="#5040fc"/>
<rect x="1" y="8" width="1.08" height="1.08" fill="#5040fc"/>
<rect x="2" y="8" width="1.08" height="1.08" fill="#5040fc"/>
<rect x="3" y="8" width="1.08" height="1.08" fill="#5040fc"/>
<rect x="4" y="8" width="1.08" height="1.08" fill="#887dfd"/>
<rect x="5" y="8" width="1.08" height="1.08" fill="#6b5dfc"/>
<rect x="6" y="8" width="1.08" height="1.08" fill="#5040fc"/>
<rect x="7" y="8" width="1.08" height="1.08" fill="#5040fc"/>
<rect x="8" y="8" width="1.08" height="1.08" fill="#5040fc"/>
<rect x="9" y="8" width="1.08" height="1.08" fill="#5040fc"/>
<rect x="0" y="9" width="1.08" height="1.08" fill="#5040fc"/>
<rect x="1" y="9" width="1.08" height="1.08" fill="#5040fc"/>
<rect x="2" y="9" width="1.08" height="1.08" fill="#5040fc"/>
<rect x="3" y="9" width="1.08" height="1.08" fill="#5040fc"/>
<rect x="4" y="9" width="1.08" height="1.08" fill="#9f96fd"/>
<rect x="5" y="9" width="1.08" height="1.08" fill="#938afd"/>
<rect x="6" y="9" width="1.08" height="1.08" fill="#5040fc"/>
<rect x="7" y="9" width="1.08" height="1.08" fill="#5040fc"/>
<rect x="8" y="9" width="1.08" height="1.08" fill="#5040fc"/>
<rect x="9" y="9" width="1.08" height="1.08" fill="#5040fc"/>
</g>
<path d="M526.31 149.07L525.90 158.26L525.08 170.52L523.85 179.72L521.81 184.83L519.15 186.87L515.07 184.42" stroke="#222" stroke-width="0.55" fill="none" stroke-linejoin="round"/>
<path d="M515.07 219.57L517.11 217.53L520.17 213.44L522.22 207.31L524.26 201.18L528.35 195.05L531.42 189.94L534.48 186.87L538.57 186.87L540.61 190.96L545.72 189.94L550.83 191.98L556.96 193.01L562.07 195.05L567.18 194.03L573.31 196.07L582.51 196.07L585.57 195.05L586.60 189.94L589.66 187.90L595.79 189.94L601.92 191.98L608.06 195.05L614.19 199.14L618.27 202.20L623.38 203.22L628.49 202.20L634.01 203.22" stroke="#222" stroke-width="0.55" fill="none" stroke-linejoin="round"/>
<path d="M515.07 235.92L520.17 235.92L528.35 236.95L534.48 238.99L540.61 241.03L546.74 243.08L552.87 244.10L559.01 244.10L562.07 247.16L561.05 252.27L556.96 256.36L553.90 260.45L555.94 264.54L561.05 267.19" stroke="#222" stroke-width="0.55" fill="none" stroke-linejoin="round"/>
<path d="M562.42 196.34L574.35 196.34M574.35 219.96L586.28 219.96M550.49 196.34L562.42 196.34M562.42 219.96L574.35 219.96M586.28 196.34L598.21 196.34M538.56 196.34L550.49 196.34M538.56 196.34L538.56 208.15M598.21 219.96L610.14 219.96M610.14 208.15L610.14 219.96M574.35 196.34L586.28 196.34M586.28 219.96L598.21 219.96M550.49 231.77L562.42 231.77M550.49 219.96L550.49 231.77M562.42 219.96L562.42 231.77M598.21 196.34L610.14 196.34M610.14 196.34L610.14 208.15M538.56 219.96L550.49 219.96M538.56 208.15L538.56 219.96" stroke="#86972e" stroke-width="1.1" fill="none" stroke-linecap="square"/>
<path d="M562.42 196.34L574.35 196.34M562.42 196.34L562.42 208.15M574.35 196.34L586.28 196.34M586.28 196.34L586.28 208.15M562.42 219.96L574.35 219.96M562.42 208.15L562.42 219.96M574.35 219.96L586.28 219.96M586.28 208.15L586.28 219.96" stroke="#a8262e" stroke-width="1.1" fill="none" stroke-linecap="square"/>
<path d="M538.57 195.05L539.61 195.23L540.64 195.47L541.80 195.15L542.66 196.07L543.29 196.84L544.17 197.12L544.99 197.53L545.94 197.67L546.74 198.12L547.70 198.62L548.65 199.18L549.74 199.16L550.83 199.14L551.54 198.52L552.73 198.85L553.16 197.67L553.82 196.94L554.92 197.09L555.85 196.48L556.96 196.58L558.12 196.85L559.01 196.07L559.96 195.51L561.13 195.62L562.07 195.05L562.98 194.38L563.89 193.70L565.14 194.03L565.99 194.98L567.15 194.64L568.22 194.74L569.22 195.05L569.72 195.92L570.98 196.02L571.27 197.09L572.29 197.66L573.31 196.80L574.33 197.78L575.36 197.09L576.50 196.87L577.41 197.55L578.49 197.58L579.44 198.12L580.51 198.03L581.33 196.96L582.35 196.70L583.53 197.09L584.62 197.09L585.74 196.96L586.48 198.32L587.62 198.12L588.60 198.56L588.88 199.49L589.12 200.43L589.66 201.18L590.74 201.07L590.99 202.61L592.25 202.13L592.89 202.90L593.75 203.22L594.37 202.43L595.21 202.07L596.29 202.17L597.16 201.87L597.84 201.18L598.75 201.86L599.72 202.35L600.75 202.58L601.92 202.20L602.75 202.91L603.97 203.23L604.59 204.14L604.99 205.27L605.44 206.25L606.13 206.88L607.25 206.86L608.06 207.31L609.31 207.34L609.90 208.26L610.29 209.44L611.61 209.39L612.14 210.38L613.25 210.28L614.21 210.79L615.13 211.45L616.23 211.40L615.26 211.60L614.78 212.55L614.04 213.10L613.16 213.44L612.14 213.42L611.12 213.50L610.10 212.72L609.08 214.05L608.06 213.44L607.06 213.78L606.05 214.03L604.99 213.95L603.88 213.60L602.87 213.85L601.92 214.47L600.86 214.55L599.93 215.17L598.82 215.08L597.84 215.49L596.91 214.82L595.81 214.99L594.89 214.28L593.61 215.36L592.73 214.47L591.71 214.12L590.88 213.19L589.66 213.44L588.91 214.06L587.98 214.48L587.62 215.49L587.40 216.40L586.14 216.79L586.81 218.15L585.94 218.74L585.57 219.57L584.58 219.64L583.62 219.75L583.17 220.90L582.11 220.82L581.49 221.62L580.57 221.83L579.69 222.11L578.80 222.37L578.26 223.34L577.40 223.66L577.07 224.55L576.03 224.97L576.04 226.08L575.36 226.73L575.28 227.78L574.69 228.50L573.84 229.04L573.31 229.79L572.91 230.61L572.92 231.64L571.49 231.95L572.15 233.30L571.27 233.88L571.29 234.89L572.29 235.41L572.02 236.57L572.40 237.40L573.31 237.97L574.38 238.24L575.39 238.61L575.73 239.85L576.24 240.87L577.40 241.03L578.00 241.87L578.92 242.09L580.00 241.97L580.33 243.34L581.49 243.08L582.46 242.63L583.60 242.84L584.61 242.53L585.57 242.06L586.29 241.44L587.36 241.54L588.15 241.07L589.08 240.89L589.66 240.01L590.52 240.39L591.36 240.79L592.25 241.12L592.73 242.06L592.81 240.99L593.67 240.12L593.88 239.09L593.75 237.97L594.09 236.94L595.13 236.62L595.79 235.92L596.64 234.97L597.92 235.76L598.86 235.18L599.88 234.90L599.86 233.81L599.18 233.16L598.14 232.74L597.84 231.84L597.03 231.40L595.90 231.62L595.55 230.28L594.36 230.61L593.75 229.79L592.61 230.02L591.58 229.78L590.76 228.73L589.66 228.77L588.76 229.49L587.66 229.46L586.59 229.50L585.57 229.79L584.98 230.56L583.87 230.56L582.87 230.72L582.51 231.84L582.06 232.92L580.72 233.11L580.33 234.25L579.44 234.90L578.58 234.03L577.52 233.92L576.37 234.19L575.36 233.88L575.01 232.86L573.76 232.75L573.31 231.84L573.09 230.70L574.15 230.21L573.89 229.06L575.23 228.71L575.36 227.75L574.79 226.96L574.38 226.00L573.31 225.71L572.15 225.34L571.41 224.54L571.05 223.37L570.25 222.64L569.35 222.32L568.48 221.97L567.64 221.56L567.18 220.60L566.11 220.08L566.10 218.93L565.28 218.26L565.30 217.09L564.18 216.61L564.12 215.49L564.07 214.49L562.96 214.02L562.38 213.29L562.64 212.14L562.07 211.40L561.66 210.35L560.82 209.96L559.37 210.47L559.01 209.36L558.00 209.33L557.19 208.91L556.79 207.65L555.71 207.77L554.92 207.31L553.82 207.30L553.05 206.79L552.84 205.45L551.85 205.27L551.47 204.19L550.43 204.08L549.84 203.30L548.79 203.22L547.90 202.95L547.32 202.07L546.43 201.81L545.70 201.22L544.70 201.18L543.99 200.56L543.18 200.13L541.95 200.54L541.20 200.01L540.61 199.14L540.47 198.19L539.34 197.73L538.86 196.95L538.35 196.18Z" stroke="#f05af0" stroke-width="1.05" fill="none" stroke-linejoin="round"/>
</g>
<rect x="514.70" y="149.10" width="119.30" height="118.10" fill="none" stroke="#8e8e8e" stroke-width="0.9"/>
<clipPath id="m514_282"><rect x="514.80" y="282.70" width="144.60" height="117.40"/></clipPath>
<g clip-path="url(#m514_282)">
<g transform="matrix(14.3000 0.0000 0.0000 11.7200 515.600 283.000)">
<rect x="0" y="0" width="1.08" height="1.08" fill="#f4818e"/>
<rect x="1" y="0" width="1.08" height="1.08" fill="#f58894"/>
<rect x="2" y="0" width="1.08" height="1.08" fill="#f58f9a"/>
<rect x="3" y="0" width="1.08" height="1.08" fill="#f696a0"/>
<rect x="4" y="0" width="1.08" height="1.08" fill="#f7a4ad"/>
<rect x="5" y="0" width="1.08" height="1.08" fill="#f9b7be"/>
<rect x="6" y="0" width="1.08" height="1.08" fill="#f9bec5"/>
<rect x="7" y="0" width="1.08" height="1.08" fill="#fbd5d9"/>
<rect x="8" y="0" width="1.08" height="1.08" fill="#fdedef"/>
<rect x="9" y="0" width="1.08" height="1.08" fill="#fffbfc"/>
<rect x="0" y="1" width="1.08" height="1.08" fill="#f58b97"/>
<rect x="1" y="1" width="1.08" height="1.08" fill="#f58f9a"/>
<rect x="2" y="1" width="1.08" height="1.08" fill="#f696a0"/>
<rect x="3" y="1" width="1.08" height="1.08" fill="#f69da7"/>
<rect x="4" y="1" width="1.08" height="1.08" fill="#f8adb5"/>
<rect x="5" y="1" width="1.08" height="1.08" fill="#fbced3"/>
<rect x="6" y="1" width="1.08" height="1.08" fill="#fbd5d9"/>
<rect x="7" y="1" width="1.08" height="1.08" fill="#fde8eb"/>
<rect x="8" y="1" width="1.08" height="1.08" fill="#fffafa"/>
<rect x="9" y="1" width="1.08" height="1.08" fill="#e9e7ff"/>
<rect x="0" y="2" width="1.08" height="1.08" fill="#f699a4"/>
<rect x="1" y="2" width="1.08" height="1.08" fill="#f69da7"/>
<rect x="2" y="2" width="1.08" height="1.08" fill="#f7a4ad"/>
<rect x="3" y="2" width="1.08" height="1.08" fill="#f8b0b8"/>
<rect x="4" y="2" width="1.08" height="1.08" fill="#fbced3"/>
<rect x="5" y="2" width="1.08" height="1.08" fill="#5040fc"/>
<rect x="6" y="2" width="1.08" height="1.08" fill="#fef6f7"/>
<rect x="7" y="2" width="1.08" height="1.08" fill="#f9f9ff"/>
<rect x="8" y="2" width="1.08" height="1.08" fill="#e9e7ff"/>
<rect x="9" y="2" width="1.08" height="1.08" fill="#d8d4fe"/>
<rect x="0" y="3" width="1.08" height="1.08" fill="#f7a7b0"/>
<rect x="1" y="3" width="1.08" height="1.08" fill="#f8abb3"/>
<rect x="2" y="3" width="1.08" height="1.08" fill="#f8b0b8"/>
<rect x="3" y="3" width="1.08" height="1.08" fill="#f9bbc2"/>
<rect x="4" y="3" width="1.08" height="1.08" fill="#fffafa"/>
<rect x="5" y="3" width="1.08" height="1.08" fill="#5040fc"/>
<rect x="6" y="3" width="1.08" height="1.08" fill="#5040fc"/>
<rect x="7" y="3" width="1.08" height="1.08" fill="#e9e7ff"/>
<rect x="8" y="3" width="1.08" height="1.08" fill="#d8d4fe"/>
<rect x="9" y="3" width="1.08" height="1.08" fill="#c9c4fe"/>
<rect x="0" y="4" width="1.08" height="1.08" fill="#f8b0b8"/>
<rect x="1" y="4" width="1.08" height="1.08" fill="#f8b4bb"/>
<rect x="2" y="4" width="1.08" height="1.08" fill="#f9bbc2"/>
<rect x="3" y="4" width="1.08" height="1.08" fill="#fac9ce"/>
<rect x="4" y="4" width="1.08" height="1.08" fill="#fbced3"/>
<rect x="5" y="4" width="1.08" height="1.08" fill="#5040fc"/>
<rect x="6" y="4" width="1.08" height="1.08" fill="#5040fc"/>
<rect x="7" y="4" width="1.08" height="1.08" fill="#5040fc"/>
<rect x="8" y="4" width="1.08" height="1.08" fill="#5040fc"/>
<rect x="9" y="4" width="1.08" height="1.08" fill="#5040fc"/>
<rect x="0" y="5" width="1.08" height="1.08" fill="#f9b7be"/>
<rect x="1" y="5" width="1.08" height="1.08" fill="#f9bec5"/>
<rect x="2" y="5" width="1.08" height="1.08" fill="#fac5cb"/>
<rect x="3" y="5" width="1.08" height="1.08" fill="#fbd5d9"/>
<rect x="4" y="5" width="1.08" height="1.08" fill="#fde5e7"/>
<rect x="5" y="5" width="1.08" height="1.08" fill="#fffafa"/>
<rect x="6" y="5" width="1.08" height="1.08" fill="#c9c4fe"/>
<rect x="7" y="5" width="1.08" height="1.08" fill="#5040fc"/>
<rect x="8" y="5" width="1.08" height="1.08" fill="#5040fc"/>
<rect x="9" y="5" width="1.08" height="1.08" fill="#5040fc"/>
<rect x="0" y="6" width="1.08" height="1.08" fill="#fac2c8"/>
<rect x="1" y="6" width="1.08" height="1.08" fill="#fac9ce"/>
<rect x="2" y="6" width="1.08" height="1.08" fill="#fbd5d9"/>
<rect x="3" y="6" width="1.08" height="1.08" fill="#fde5e7"/>
<rect x="4" y="6" width="1.08" height="1.08" fill="#fdedef"/>
<rect x="5" y="6" width="1.08" height="1.08" fill="#fbfbff"/>
<rect x="6" y="6" width="1.08" height="1.08" fill="#e5e3ff"/>
<rect x="7" y="6" width="1.08" height="1.08" fill="#bab4fe"/>
<rect x="8" y="6" width="1.08" height="1.08" fill="#ada6fe"/>
<rect x="9" y="6" width="1.08" height="1.08" fill="#5040fc"/>
<rect x="0" y="7" width="1.08" height="1.08" fill="#fbced3"/>
<rect x="1" y="7" width="1.08" height="1.08" fill="#fbd5d9"/>
<rect x="2" y="7" width="1.08" height="1.08" fill="#fcd8dc"/>
<rect x="3" y="7" width="1.08" height="1.08" fill="#fde8eb"/>
<rect x="4" y="7" width="1.08" height="1.08" fill="#fef6f7"/>
<rect x="5" y="7" width="1.08" height="1.08" fill="#f8f7ff"/>
<rect x="6" y="7" width="1.08" height="1.08" fill="#e1dffe"/>
<rect x="7" y="7" width="1.08" height="1.08" fill="#c0bafe"/>
<rect x="8" y="7" width="1.08" height="1.08" fill="#ada6fe"/>
<rect x="9" y="7" width="1.08" height="1.08" fill="#7669fd"/>
<rect x="0" y="8" width="1.08" height="1.08" fill="#fcd8dc"/>
<rect x="1" y="8" width="1.08" height="1.08" fill="#fcdfe3"/>
<rect x="2" y="8" width="1.08" height="1.08" fill="#fde5e7"/>
<rect x="3" y="8" width="1.08" height="1.08" fill="#fef1f2"/>
<rect x="4" y="8" width="1.08" height="1.08" fill="#fffbfc"/>
<rect x="5" y="8" width="1.08" height="1.08" fill="#ecebff"/>
<rect x="6" y="8" width="1.08" height="1.08" fill="#d8d4fe"/>
<rect x="7" y="8" width="1.08" height="1.08" fill="#c0bafe"/>
<rect x="8" y="8" width="1.08" height="1.08" fill="#9b92fd"/>
<rect x="9" y="8" width="1.08" height="1.08" fill="#6b5dfc"/>
<rect x="0" y="9" width="1.08" height="1.08" fill="#fde8eb"/>
<rect x="1" y="9" width="1.08" height="1.08" fill="#fdedef"/>
<rect x="2" y="9" width="1.08" height="1.08" fill="#fef4f6"/>
<rect x="3" y="9" width="1.08" height="1.08" fill="#fef8f9"/>
<rect x="4" y="9" width="1.08" height="1.08" fill="#f2f1ff"/>
<rect x="5" y="9" width="1.08" height="1.08" fill="#e1dffe"/>
<rect x="6" y="9" width="1.08" height="1.08" fill="#d1ccfe"/>
<rect x="7" y="9" width="1.08" height="1.08" fill="#b5aefe"/>
<rect x="8" y="9" width="1.08" height="1.08" fill="#9086fd"/>
<rect x="9" y="9" width="1.08" height="1.08" fill="#5040fc"/>
</g>
<path d="M582.51 282.72L583.16 289.95L586.45 296.52L589.73 300.90L591.92 307.47L590.83 314.03L587.54 318.41L586.45 321.70L588.64 324.98L593.02 329.36L596.30 333.74L599.58 338.12L603.96 342.50L608.34 346.88L614.91 351.26L621.48 353.45L628.05 356.73L634.62 360.02L641.19 364.40L647.76 368.77L654.33 373.15L658.27 379.72L656.51 386.29L652.14 390.67L647.76 395.05L645.57 400.09" stroke="#222" stroke-width="0.55" fill="none" stroke-linejoin="round"/>
<path d="M588.64 282.72L588.20 289.95L589.73 296.52L595.21 303.09L601.77 309.65L608.34 315.13L612.72 320.60L616.01 326.08L621.48 327.61L630.24 326.08L639.00 325.42L647.76 326.08L654.33 326.08L659.36 326.73" stroke="#222" stroke-width="0.55" fill="none" stroke-linejoin="round"/>
<path d="M587.10 329.88L587.10 341.60M587.10 341.60L601.40 341.60M572.80 318.16L587.10 318.16M572.80 318.16L572.80 329.88M587.10 318.16L587.10 329.88M587.10 365.04L601.40 365.04M587.10 353.32L587.10 365.04M601.40 353.32L601.40 365.04M558.50 329.88L572.80 329.88M558.50 341.60L572.80 341.60M558.50 329.88L558.50 341.60M572.80 353.32L587.10 353.32M572.80 341.60L572.80 353.32M601.40 341.60L615.70 341.60M601.40 353.32L615.70 353.32M615.70 341.60L615.70 353.32" stroke="#86972e" stroke-width="1.1" fill="none" stroke-linecap="square"/>
<path d="M572.80 329.88L587.10 329.88M572.80 341.60L587.10 341.60M572.80 329.88L572.80 341.60M587.10 329.88L587.10 341.60" stroke="#a8262e" stroke-width="1.1" fill="none" stroke-linecap="square"/>
<path d="M567.84 326.08L569.11 326.26L569.98 325.20L571.12 324.98L572.20 325.22L573.26 325.74L574.44 324.91L575.50 325.42L576.59 325.61L577.67 325.87L578.68 326.58L579.88 326.08L581.29 326.00L582.07 327.17L583.18 327.37L583.57 328.29L583.69 329.49L584.33 330.16L585.35 330.46L586.47 330.80L586.37 332.36L587.54 332.65L588.24 333.41L588.51 334.60L589.73 334.84L590.53 335.97L591.92 335.93L592.98 336.41L592.42 337.97L593.59 338.38L594.11 339.21L595.09 339.75L595.25 340.83L596.28 341.32L596.30 342.50L596.91 343.36L597.91 343.65L599.09 343.65L599.58 344.69L600.81 344.66L601.77 345.43L602.87 345.78L602.45 346.88L602.87 347.97L601.88 348.66L600.87 349.26L599.58 349.07L598.59 349.81L597.40 350.16L597.39 351.34L596.51 351.94L595.29 352.32L595.21 353.45L594.32 354.42L593.02 354.54L591.79 354.26L590.83 353.45L589.86 352.69L588.50 353.14L587.54 352.35L586.19 352.32L585.35 351.26L584.36 350.79L584.01 349.68L583.16 349.07L583.10 347.87L582.68 346.79L582.07 345.78L580.68 345.82L579.88 344.69L578.93 345.53L577.69 345.78L576.34 345.75L575.50 344.69L575.03 343.55L574.40 342.50L574.58 341.34L575.49 340.43L575.50 339.21L574.44 338.75L573.35 338.37L572.21 338.12L571.12 338.61L570.02 338.06L568.93 338.12L567.84 338.77L566.74 338.72L565.65 338.12L565.55 336.96L564.55 336.37L565.17 335.54L565.88 334.92L567.15 335.51L567.84 334.84L568.23 333.77L569.08 333.16L570.02 332.65L570.14 331.55L570.68 330.46L570.02 329.36L568.88 328.94L569.12 327.59L567.80 327.28Z" stroke="#f05af0" stroke-width="1.05" fill="none" stroke-linejoin="round"/>
</g>
<rect x="514.80" y="282.70" width="144.60" height="117.40" fill="none" stroke="#8e8e8e" stroke-width="0.9"/>
<path d="M587.10 341.60L601.40 341.60L601.40 353.32L587.10 353.32Z" stroke="#a8262e" stroke-width="1.1" fill="none"/>
<clipPath id="m514_547"><rect x="514.30" y="547.70" width="144.90" height="118.00"/></clipPath>
<g clip-path="url(#m514_547)">
<g transform="matrix(8.7000 -0.4500 0.3500 5.3000 505.700 556.000)">
<rect x="0" y="0" width="1.08" height="1.08" fill="#5040fc"/>
<rect x="1" y="0" width="1.08" height="1.08" fill="#5040fc"/>
<rect x="2" y="0" width="1.08" height="1.08" fill="#5040fc"/>
<rect x="3" y="0" width="1.08" height="1.08" fill="#5040fc"/>
<rect x="4" y="0" width="1.08" height="1.08" fill="#7164fd"/>
<rect x="5" y="0" width="1.08" height="1.08" fill="#7c70fd"/>
<rect x="6" y="0" width="1.08" height="1.08" fill="#8479fd"/>
<rect x="7" y="0" width="1.08" height="1.08" fill="#988ffd"/>
<rect x="8" y="0" width="1.08" height="1.08" fill="#988ffd"/>
<rect x="9" y="0" width="1.08" height="1.08" fill="#a8a0fe"/>
<rect x="10" y="0" width="1.08" height="1.08" fill="#a8a0fe"/>
<rect x="11" y="0" width="1.08" height="1.08" fill="#afa8fe"/>
<rect x="12" y="0" width="1.08" height="1.08" fill="#b5affe"/>
<rect x="13" y="0" width="1.08" height="1.08" fill="#bcb6fe"/>
<rect x="14" y="0" width="1.08" height="1.08" fill="#a59dfd"/>
<rect x="15" y="0" width="1.08" height="1.08" fill="#9d94fd"/>
<rect x="16" y="0" width="1.08" height="1.08" fill="#a098fd"/>
<rect x="0" y="1" width="1.08" height="1.08" fill="#5040fc"/>
<rect x="1" y="1" width="1.08" height="1.08" fill="#5040fc"/>
<rect x="2" y="1" width="1.08" height="1.08" fill="#5040fc"/>
<rect x="3" y="1" width="1.08" height="1.08" fill="#7265fd"/>
<rect x="4" y="1" width="1.08" height="1.08" fill="#7063fd"/>
<rect x="5" y="1" width="1.08" height="1.08" fill="#8e84fd"/>
<rect x="6" y="1" width="1.08" height="1.08" fill="#9288fd"/>
<rect x="7" y="1" width="1.08" height="1.08" fill="#9c93fd"/>
<rect x="8" y="1" width="1.08" height="1.08" fill="#a59dfd"/>
<rect x="9" y="1" width="1.08" height="1.08" fill="#b2abfe"/>
<rect x="10" y="1" width="1.08" height="1.08" fill="#c0bafe"/>
<rect x="11" y="1" width="1.08" height="1.08" fill="#b9b2fe"/>
<rect x="12" y="1" width="1.08" height="1.08" fill="#c3befe"/>
<rect x="13" y="1" width="1.08" height="1.08" fill="#c6c0fe"/>
<rect x="14" y="1" width="1.08" height="1.08" fill="#b6affe"/>
<rect x="15" y="1" width="1.08" height="1.08" fill="#afa7fe"/>
<rect x="16" y="1" width="1.08" height="1.08" fill="#a097fd"/>
<rect x="0" y="2" width="1.08" height="1.08" fill="#5040fc"/>
<rect x="1" y="2" width="1.08" height="1.08" fill="#5040fc"/>
<rect x="2" y="2" width="1.08" height="1.08" fill="#7467fd"/>
<rect x="3" y="2" width="1.08" height="1.08" fill="#796dfd"/>
<rect x="4" y="2" width="1.08" height="1.08" fill="#8478fd"/>
<rect x="5" y="2" width="1.08" height="1.08" fill="#958cfd"/>
<rect x="6" y="2" width="1.08" height="1.08" fill="#a097fd"/>
<rect x="7" y="2" width="1.08" height="1.08" fill="#a9a1fe"/>
<rect x="8" y="2" width="1.08" height="1.08" fill="#bbb4fe"/>
<rect x="9" y="2" width="1.08" height="1.08" fill="#c1bcfe"/>
<rect x="10" y="2" width="1.08" height="1.08" fill="#bfb9fe"/>
<rect x="11" y="2" width="1.08" height="1.08" fill="#cbc6fe"/>
<rect x="12" y="2" width="1.08" height="1.08" fill="#cdc8fe"/>
<rect x="13" y="2" width="1.08" height="1.08" fill="#d5d1fe"/>
<rect x="14" y="2" width="1.08" height="1.08" fill="#c9c4fe"/>
<rect x="15" y="2" width="1.08" height="1.08" fill="#b6b0fe"/>
<rect x="16" y="2" width="1.08" height="1.08" fill="#bfb9fe"/>
<rect x="0" y="3" width="1.08" height="1.08" fill="#7265fd"/>
<rect x="1" y="3" width="1.08" height="1.08" fill="#7c70fd"/>
<rect x="2" y="3" width="1.08" height="1.08" fill="#897ffd"/>
<rect x="3" y="3" width="1.08" height="1.08" fill="#897efd"/>
<rect x="4" y="3" width="1.08" height="1.08" fill="#9c92fd"/>
<rect x="5" y="3" width="1.08" height="1.08" fill="#9f96fd"/>
<rect x="6" y="3" width="1.08" height="1.08" fill="#b5aefe"/>
<rect x="7" y="3" width="1.08" height="1.08" fill="#c1bbfe"/>
<rect x="8" y="3" width="1.08" height="1.08" fill="#c4bffe"/>
<rect x="9" y="3" width="1.08" height="1.08" fill="#d1ccfe"/>
<rect x="10" y="3" width="1.08" height="1.08" fill="#ccc7fe"/>
<rect x="11" y="3" width="1.08" height="1.08" fill="#d8d5fe"/>
<rect x="12" y="3" width="1.08" height="1.08" fill="#d9d5fe"/>
<rect x="13" y="3" width="1.08" height="1.08" fill="#d9d6fe"/>
<rect x="14" y="3" width="1.08" height="1.08" fill="#cfcbfe"/>
<rect x="15" y="3" width="1.08" height="1.08" fill="#cecafe"/>
<rect x="16" y="3" width="1.08" height="1.08" fill="#cec9fe"/>
<rect x="0" y="4" width="1.08" height="1.08" fill="#897efd"/>
<rect x="1" y="4" width="1.08" height="1.08" fill="#9389fd"/>
<rect x="2" y="4" width="1.08" height="1.08" fill="#9085fd"/>
<rect x="3" y="4" width="1.08" height="1.08" fill="#a79ffd"/>
<rect x="4" y="4" width="1.08" height="1.08" fill="#b4adfe"/>
<rect x="5" y="4" width="1.08" height="1.08" fill="#c6c0fe"/>
<rect x="6" y="4" width="1.08" height="1.08" fill="#ccc7fe"/>
<rect x="7" y="4" width="1.08" height="1.08" fill="#cbc6fe"/>
<rect x="8" y="4" width="1.08" height="1.08" fill="#d3cffe"/>
<rect x="9" y="4" width="1.08" height="1.08" fill="#dedbfe"/>
<rect x="10" y="4" width="1.08" height="1.08" fill="#d5d2fe"/>
<rect x="11" y="4" width="1.08" height="1.08" fill="#e0defe"/>
<rect x="12" y="4" width="1.08" height="1.08" fill="#dbd8fe"/>
<rect x="13" y="4" width="1.08" height="1.08" fill="#d9d5fe"/>
<rect x="14" y="4" width="1.08" height="1.08" fill="#cdc9fe"/>
<rect x="15" y="4" width="1.08" height="1.08" fill="#d2cefe"/>
<rect x="16" y="4" width="1.08" height="1.08" fill="#c5c0fe"/>
<rect x="0" y="5" width="1.08" height="1.08" fill="#8f84fd"/>
<rect x="1" y="5" width="1.08" height="1.08" fill="#9a90fd"/>
<rect x="2" y="5" width="1.08" height="1.08" fill="#ada6fe"/>
<rect x="3" y="5" width="1.08" height="1.08" fill="#aba3fe"/>
<rect x="4" y="5" width="1.08" height="1.08" fill="#bfbafe"/>
<rect x="5" y="5" width="1.08" height="1.08" fill="#cec9fe"/>
<rect x="6" y="5" width="1.08" height="1.08" fill="#dfdcfe"/>
<rect x="7" y="5" width="1.08" height="1.08" fill="#e7e5ff"/>
<rect x="8" y="5" width="1.08" height="1.08" fill="#efeeff"/>
<rect x="9" y="5" width="1.08" height="1.08" fill="#e8e6ff"/>
<rect x="10" y="5" width="1.08" height="1.08" fill="#e9e7ff"/>
<rect x="11" y="5" width="1.08" height="1.08" fill="#e7e5ff"/>
<rect x="12" y="5" width="1.08" height="1.08" fill="#efedff"/>
<rect x="13" y="5" width="1.08" height="1.08" fill="#edebff"/>
<rect x="14" y="5" width="1.08" height="1.08" fill="#d3cffe"/>
<rect x="15" y="5" width="1.08" height="1.08" fill="#cac6fe"/>
<rect x="16" y="5" width="1.08" height="1.08" fill="#cbc7fe"/>
<rect x="0" y="6" width="1.08" height="1.08" fill="#988ffd"/>
<rect x="1" y="6" width="1.08" height="1.08" fill="#a79ffd"/>
<rect x="2" y="6" width="1.08" height="1.08" fill="#b5aefe"/>
<rect x="3" y="6" width="1.08" height="1.08" fill="#bcb6fe"/>
<rect x="4" y="6" width="1.08" height="1.08" fill="#c5c0fe"/>
<rect x="5" y="6" width="1.08" height="1.08" fill="#dbd7fe"/>
<rect x="6" y="6" width="1.08" height="1.08" fill="#e7e4ff"/>
<rect x="7" y="6" width="1.08" height="1.08" fill="#f5f4ff"/>
<rect x="8" y="6" width="1.08" height="1.08" fill="#fef8f9"/>
<rect x="9" y="6" width="1.08" height="1.08" fill="#fffdfd"/>
<rect x="10" y="6" width="1.08" height="1.08" fill="#f5f4ff"/>
<rect x="11" y="6" width="1.08" height="1.08" fill="#eeedff"/>
<rect x="12" y="6" width="1.08" height="1.08" fill="#e7e5ff"/>
<rect x="13" y="6" width="1.08" height="1.08" fill="#d3cffe"/>
<rect x="14" y="6" width="1.08" height="1.08" fill="#dbd7fe"/>
<rect x="15" y="6" width="1.08" height="1.08" fill="#d2cefe"/>
<rect x="16" y="6" width="1.08" height="1.08" fill="#d4d0fe"/>
<rect x="0" y="7" width="1.08" height="1.08" fill="#aca5fe"/>
<rect x="1" y="7" width="1.08" height="1.08" fill="#aea7fe"/>
<rect x="2" y="7" width="1.08" height="1.08" fill="#bab4fe"/>
<rect x="3" y="7" width="1.08" height="1.08" fill="#c2bdfe"/>
<rect x="4" y="7" width="1.08" height="1.08" fill="#dad7fe"/>
<rect x="5" y="7" width="1.08" height="1.08" fill="#dddafe"/>
<rect x="6" y="7" width="1.08" height="1.08" fill="#ebe9ff"/>
<rect x="7" y="7" width="1.08" height="1.08" fill="#fcfcff"/>
<rect x="8" y="7" width="1.08" height="1.08" fill="#fef3f4"/>
<rect x="9" y="7" width="1.08" height="1.08" fill="#feeff1"/>
<rect x="10" y="7" width="1.08" height="1.08" fill="#fafaff"/>
<rect x="11" y="7" width="1.08" height="1.08" fill="#ebe9ff"/>
<rect x="12" y="7" width="1.08" height="1.08" fill="#dedbfe"/>
<rect x="13" y="7" width="1.08" height="1.08" fill="#d1cdfe"/>
<rect x="14" y="7" width="1.08" height="1.08" fill="#cec9fe"/>
<rect x="15" y="7" width="1.08" height="1.08" fill="#c1bcfe"/>
<rect x="16" y="7" width="1.08" height="1.08" fill="#d0ccfe"/>
<rect x="0" y="8" width="1.08" height="1.08" fill="#b0a9fe"/>
<rect x="1" y="8" width="1.08" height="1.08" fill="#b2abfe"/>
<rect x="2" y="8" width="1.08" height="1.08" fill="#bfbafe"/>
<rect x="3" y="8" width="1.08" height="1.08" fill="#cfcbfe"/>
<rect x="4" y="8" width="1.08" height="1.08" fill="#dedbfe"/>
<rect x="5" y="8" width="1.08" height="1.08" fill="#e7e5ff"/>
<rect x="6" y="8" width="1.08" height="1.08" fill="#fffbfb"/>
<rect x="7" y="8" width="1.08" height="1.08" fill="#fde4e7"/>
<rect x="8" y="8" width="1.08" height="1.08" fill="#fcd8dc"/>
<rect x="9" y="8" width="1.08" height="1.08" fill="#fcd7db"/>
<rect x="10" y="8" width="1.08" height="1.08" fill="#fef2f4"/>
<rect x="11" y="8" width="1.08" height="1.08" fill="#f9f9ff"/>
<rect x="12" y="8" width="1.08" height="1.08" fill="#eceaff"/>
<rect x="13" y="8" width="1.08" height="1.08" fill="#ddd9fe"/>
<rect x="14" y="8" width="1.08" height="1.08" fill="#dedcfe"/>
<rect x="15" y="8" width="1.08" height="1.08" fill="#cbc7fe"/>
<rect x="16" y="8" width="1.08" height="1.08" fill="#c6c1fe"/>
<rect x="0" y="9" width="1.08" height="1.08" fill="#bbb5fe"/>
<rect x="1" y="9" width="1.08" height="1.08" fill="#bfb9fe"/>
<rect x="2" y="9" width="1.08" height="1.08" fill="#c5bffe"/>
<rect x="3" y="9" width="1.08" height="1.08" fill="#dad6fe"/>
<rect x="4" y="9" width="1.08" height="1.08" fill="#dedbfe"/>
<rect x="5" y="9" width="1.08" height="1.08" fill="#f4f3ff"/>
<rect x="6" y="9" width="1.08" height="1.08" fill="#fef6f7"/>
<rect x="7" y="9" width="1.08" height="1.08" fill="#fde6e8"/>
<rect x="8" y="9" width="1.08" height="1.08" fill="#fbd2d7"/>
<rect x="9" y="9" width="1.08" height="1.08" fill="#fcd9dc"/>
<rect x="10" y="9" width="1.08" height="1.08" fill="#fde6e9"/>
<rect x="11" y="9" width="1.08" height="1.08" fill="#fffafb"/>
<rect x="12" y="9" width="1.08" height="1.08" fill="#fefeff"/>
<rect x="13" y="9" width="1.08" height="1.08" fill="#eceaff"/>
<rect x="14" y="9" width="1.08" height="1.08" fill="#e6e4ff"/>
<rect x="15" y="9" width="1.08" height="1.08" fill="#d6d2fe"/>
<rect x="16" y="9" width="1.08" height="1.08" fill="#d0ccfe"/>
<rect x="0" y="10" width="1.08" height="1.08" fill="#beb8fe"/>
<rect x="1" y="10" width="1.08" height="1.08" fill="#cfcafe"/>
<rect x="2" y="10" width="1.08" height="1.08" fill="#dad7fe"/>
<rect x="3" y="10" width="1.08" height="1.08" fill="#e7e5ff"/>
<rect x="4" y="10" width="1.08" height="1.08" fill="#f5f4ff"/>
<rect x="5" y="10" width="1.08" height="1.08" fill="#fdfdff"/>
<rect x="6" y="10" width="1.08" height="1.08" fill="#fdfdff"/>
<rect x="7" y="10" width="1.08" height="1.08" fill="#fdecee"/>
<rect x="8" y="10" width="1.08" height="1.08" fill="#fcdbdf"/>
<rect x="9" y="10" width="1.08" height="1.08" fill="#fcdfe2"/>
<rect x="10" y="10" width="1.08" height="1.08" fill="#fdeaec"/>
<rect x="11" y="10" width="1.08" height="1.08" fill="#fef1f3"/>
<rect x="12" y="10" width="1.08" height="1.08" fill="#fffefe"/>
<rect x="13" y="10" width="1.08" height="1.08" fill="#fbfbff"/>
<rect x="14" y="10" width="1.08" height="1.08" fill="#f3f2ff"/>
<rect x="15" y="10" width="1.08" height="1.08" fill="#e1dffe"/>
<rect x="16" y="10" width="1.08" height="1.08" fill="#e7e5ff"/>
<rect x="0" y="11" width="1.08" height="1.08" fill="#c6c1fe"/>
<rect x="1" y="11" width="1.08" height="1.08" fill="#d6d2fe"/>
<rect x="2" y="11" width="1.08" height="1.08" fill="#dcd8fe"/>
<rect x="3" y="11" width="1.08" height="1.08" fill="#e6e4ff"/>
<rect x="4" y="11" width="1.08" height="1.08" fill="#f3f2ff"/>
<rect x="5" y="11" width="1.08" height="1.08" fill="#fbfbff"/>
<rect x="6" y="11" width="1.08" height="1.08" fill="#fffafa"/>
<rect x="7" y="11" width="1.08" height="1.08" fill="#fde6e9"/>
<rect x="8" y="11" width="1.08" height="1.08" fill="#fbd4d8"/>
<rect x="9" y="11" width="1.08" height="1.08" fill="#fbd1d6"/>
<rect x="10" y="11" width="1.08" height="1.08" fill="#fcdde0"/>
<rect x="11" y="11" width="1.08" height="1.08" fill="#fce1e4"/>
<rect x="12" y="11" width="1.08" height="1.08" fill="#fde9eb"/>
<rect x="13" y="11" width="1.08" height="1.08" fill="#fcfcff"/>
<rect x="14" y="11" width="1.08" height="1.08" fill="#fcfbff"/>
<rect x="15" y="11" width="1.08" height="1.08" fill="#f9f8ff"/>
<rect x="16" y="11" width="1.08" height="1.08" fill="#f4f3ff"/>
<rect x="0" y="12" width="1.08" height="1.08" fill="#d0ccfe"/>
<rect x="1" y="12" width="1.08" height="1.08" fill="#dad7fe"/>
<rect x="2" y="12" width="1.08" height="1.08" fill="#e4e2ff"/>
<rect x="3" y="12" width="1.08" height="1.08" fill="#fcfbff"/>
<rect x="4" y="12" width="1.08" height="1.08" fill="#ffffff"/>
<rect x="5" y="12" width="1.08" height="1.08" fill="#feeef0"/>
<rect x="6" y="12" width="1.08" height="1.08" fill="#fde4e7"/>
<rect x="7" y="12" width="1.08" height="1.08" fill="#fde8ea"/>
<rect x="8" y="12" width="1.08" height="1.08" fill="#fce0e4"/>
<rect x="9" y="12" width="1.08" height="1.08" fill="#fbd1d5"/>
<rect x="10" y="12" width="1.08" height="1.08" fill="#fbd2d6"/>
<rect x="11" y="12" width="1.08" height="1.08" fill="#fce1e4"/>
<rect x="12" y="12" width="1.08" height="1.08" fill="#fdecee"/>
<rect x="13" y="12" width="1.08" height="1.08" fill="#fef3f4"/>
<rect x="14" y="12" width="1.08" height="1.08" fill="#fdebed"/>
<rect x="15" y="12" width="1.08" height="1.08" fill="#feeef0"/>
<rect x="16" y="12" width="1.08" height="1.08" fill="#fef8f8"/>
<rect x="0" y="13" width="1.08" height="1.08" fill="#e2e0ff"/>
<rect x="1" y="13" width="1.08" height="1.08" fill="#f2f1ff"/>
<rect x="2" y="13" width="1.08" height="1.08" fill="#faf9ff"/>
<rect x="3" y="13" width="1.08" height="1.08" fill="#ffffff"/>
<rect x="4" y="13" width="1.08" height="1.08" fill="#feeff0"/>
<rect x="5" y="13" width="1.08" height="1.08" fill="#fef4f5"/>
<rect x="6" y="13" width="1.08" height="1.08" fill="#fef3f4"/>
<rect x="7" y="13" width="1.08" height="1.08" fill="#fcdbde"/>
<rect x="8" y="13" width="1.08" height="1.08" fill="#fcdbdf"/>
<rect x="9" y="13" width="1.08" height="1.08" fill="#fcd9dd"/>
<rect x="10" y="13" width="1.08" height="1.08" fill="#fbced3"/>
<rect x="11" y="13" width="1.08" height="1.08" fill="#fcdce0"/>
<rect x="12" y="13" width="1.08" height="1.08" fill="#fcdce0"/>
<rect x="13" y="13" width="1.08" height="1.08" fill="#fde4e7"/>
<rect x="14" y="13" width="1.08" height="1.08" fill="#fef6f7"/>
<rect x="15" y="13" width="1.08" height="1.08" fill="#fef2f4"/>
<rect x="16" y="13" width="1.08" height="1.08" fill="#fde8ea"/>
<rect x="0" y="14" width="1.08" height="1.08" fill="#eae8ff"/>
<rect x="1" y="14" width="1.08" height="1.08" fill="#fbfbff"/>
<rect x="2" y="14" width="1.08" height="1.08" fill="#fffdfe"/>
<rect x="3" y="14" width="1.08" height="1.08" fill="#fef0f2"/>
<rect x="4" y="14" width="1.08" height="1.08" fill="#fdebed"/>
<rect x="5" y="14" width="1.08" height="1.08" fill="#fcdde1"/>
<rect x="6" y="14" width="1.08" height="1.08" fill="#fde9eb"/>
<rect x="7" y="14" width="1.08" height="1.08" fill="#fde3e6"/>
<rect x="8" y="14" width="1.08" height="1.08" fill="#fcdcdf"/>
<rect x="9" y="14" width="1.08" height="1.08" fill="#fbd2d7"/>
<rect x="10" y="14" width="1.08" height="1.08" fill="#fcdadd"/>
<rect x="11" y="14" width="1.08" height="1.08" fill="#fbd5da"/>
<rect x="12" y="14" width="1.08" height="1.08" fill="#fde6e9"/>
<rect x="13" y="14" width="1.08" height="1.08" fill="#fef0f2"/>
<rect x="14" y="14" width="1.08" height="1.08" fill="#fffafb"/>
<rect x="15" y="14" width="1.08" height="1.08" fill="#faf9ff"/>
<rect x="16" y="14" width="1.08" height="1.08" fill="#fef5f6"/>
<rect x="0" y="15" width="1.08" height="1.08" fill="#fefeff"/>
<rect x="1" y="15" width="1.08" height="1.08" fill="#fffafb"/>
<rect x="2" y="15" width="1.08" height="1.08" fill="#fce2e5"/>
<rect x="3" y="15" width="1.08" height="1.08" fill="#fde8ea"/>
<rect x="4" y="15" width="1.08" height="1.08" fill="#fcdbdf"/>
<rect x="5" y="15" width="1.08" height="1.08" fill="#fcd8dc"/>
<rect x="6" y="15" width="1.08" height="1.08" fill="#fcdde0"/>
<rect x="7" y="15" width="1.08" height="1.08" fill="#fcdfe2"/>
<rect x="8" y="15" width="1.08" height="1.08" fill="#fcd8dc"/>
<rect x="9" y="15" width="1.08" height="1.08" fill="#fcd8dc"/>
<rect x="10" y="15" width="1.08" height="1.08" fill="#fbd5d9"/>
<rect x="11" y="15" width="1.08" height="1.08" fill="#fde8ea"/>
<rect x="12" y="15" width="1.08" height="1.08" fill="#fde7ea"/>
<rect x="13" y="15" width="1.08" height="1.08" fill="#fffafa"/>
<rect x="14" y="15" width="1.08" height="1.08" fill="#f7f6ff"/>
<rect x="15" y="15" width="1.08" height="1.08" fill="#fdfdff"/>
<rect x="16" y="15" width="1.08" height="1.08" fill="#fdfdff"/>
<rect x="0" y="16" width="1.08" height="1.08" fill="#fde6e8"/>
<rect x="1" y="16" width="1.08" height="1.08" fill="#fcdadd"/>
<rect x="2" y="16" width="1.08" height="1.08" fill="#fbcfd4"/>
<rect x="3" y="16" width="1.08" height="1.08" fill="#fbd5d9"/>
<rect x="4" y="16" width="1.08" height="1.08" fill="#fbcfd4"/>
<rect x="5" y="16" width="1.08" height="1.08" fill="#fbd4d8"/>
<rect x="6" y="16" width="1.08" height="1.08" fill="#fbd6da"/>
<rect x="7" y="16" width="1.08" height="1.08" fill="#fbd1d6"/>
<rect x="8" y="16" width="1.08" height="1.08" fill="#fbd4d8"/>
<rect x="9" y="16" width="1.08" height="1.08" fill="#fcd7db"/>
<rect x="10" y="16" width="1.08" height="1.08" fill="#fcdee1"/>
<rect x="11" y="16" width="1.08" height="1.08" fill="#fcdbde"/>
<rect x="12" y="16" width="1.08" height="1.08" fill="#fde6e8"/>
<rect x="13" y="16" width="1.08" height="1.08" fill="#feeff1"/>
<rect x="14" y="16" width="1.08" height="1.08" fill="#fffdfe"/>
<rect x="15" y="16" width="1.08" height="1.08" fill="#f3f2ff"/>
<rect x="16" y="16" width="1.08" height="1.08" fill="#fffefe"/>
<rect x="0" y="17" width="1.08" height="1.08" fill="#fbd2d7"/>
<rect x="1" y="17" width="1.08" height="1.08" fill="#fbced3"/>
<rect x="2" y="17" width="1.08" height="1.08" fill="#fbd5d9"/>
<rect x="3" y="17" width="1.08" height="1.08" fill="#fbd2d7"/>
<rect x="4" y="17" width="1.08" height="1.08" fill="#fac9cf"/>
<rect x="5" y="17" width="1.08" height="1.08" fill="#fbd3d7"/>
<rect x="6" y="17" width="1.08" height="1.08" fill="#fbd2d7"/>
<rect x="7" y="17" width="1.08" height="1.08" fill="#fbd6db"/>
<rect x="8" y="17" width="1.08" height="1.08" fill="#facbd0"/>
<rect x="9" y="17" width="1.08" height="1.08" fill="#fbd0d5"/>
<rect x="10" y="17" width="1.08" height="1.08" fill="#fbd6da"/>
<rect x="11" y="17" width="1.08" height="1.08" fill="#fdebed"/>
<rect x="12" y="17" width="1.08" height="1.08" fill="#fde5e8"/>
<rect x="13" y="17" width="1.08" height="1.08" fill="#fef4f5"/>
<rect x="14" y="17" width="1.08" height="1.08" fill="#f0eeff"/>
<rect x="15" y="17" width="1.08" height="1.08" fill="#fefeff"/>
<rect x="16" y="17" width="1.08" height="1.08" fill="#fef5f6"/>
<rect x="0" y="18" width="1.08" height="1.08" fill="#fbd4d9"/>
<rect x="1" y="18" width="1.08" height="1.08" fill="#fac1c8"/>
<rect x="2" y="18" width="1.08" height="1.08" fill="#fac7cd"/>
<rect x="3" y="18" width="1.08" height="1.08" fill="#fac2c8"/>
<rect x="4" y="18" width="1.08" height="1.08" fill="#f9b5bd"/>
<rect x="5" y="18" width="1.08" height="1.08" fill="#f9bbc2"/>
<rect x="6" y="18" width="1.08" height="1.08" fill="#facad0"/>
<rect x="7" y="18" width="1.08" height="1.08" fill="#fac9ce"/>
<rect x="8" y="18" width="1.08" height="1.08" fill="#facad0"/>
<rect x="9" y="18" width="1.08" height="1.08" fill="#fbd4d9"/>
<rect x="10" y="18" width="1.08" height="1.08" fill="#fcdee2"/>
<rect x="11" y="18" width="1.08" height="1.08" fill="#fce2e5"/>
<rect x="12" y="18" width="1.08" height="1.08" fill="#fce1e4"/>
<rect x="13" y="18" width="1.08" height="1.08" fill="#fef8f9"/>
<rect x="14" y="18" width="1.08" height="1.08" fill="#fffafa"/>
<rect x="15" y="18" width="1.08" height="1.08" fill="#fffdfd"/>
<rect x="16" y="18" width="1.08" height="1.08" fill="#fdfdff"/>
<rect x="0" y="19" width="1.08" height="1.08" fill="#fbccd1"/>
<rect x="1" y="19" width="1.08" height="1.08" fill="#f9c0c6"/>
<rect x="2" y="19" width="1.08" height="1.08" fill="#f9bcc3"/>
<rect x="3" y="19" width="1.08" height="1.08" fill="#f9c0c6"/>
<rect x="4" y="19" width="1.08" height="1.08" fill="#f8abb4"/>
<rect x="5" y="19" width="1.08" height="1.08" fill="#f8b3bb"/>
<rect x="6" y="19" width="1.08" height="1.08" fill="#f8b3bb"/>
<rect x="7" y="19" width="1.08" height="1.08" fill="#facacf"/>
<rect x="8" y="19" width="1.08" height="1.08" fill="#fbcdd2"/>
<rect x="9" y="19" width="1.08" height="1.08" fill="#fbd7db"/>
<rect x="10" y="19" width="1.08" height="1.08" fill="#fbced3"/>
<rect x="11" y="19" width="1.08" height="1.08" fill="#fcdee2"/>
<rect x="12" y="19" width="1.08" height="1.08" fill="#fde8ea"/>
<rect x="13" y="19" width="1.08" height="1.08" fill="#fde8eb"/>
<rect x="14" y="19" width="1.08" height="1.08" fill="#fde5e8"/>
<rect x="15" y="19" width="1.08" height="1.08" fill="#fdeaec"/>
<rect x="16" y="19" width="1.08" height="1.08" fill="#fef6f7"/>
<rect x="0" y="20" width="1.08" height="1.08" fill="#facacf"/>
<rect x="1" y="20" width="1.08" height="1.08" fill="#f8b2ba"/>
<rect x="2" y="20" width="1.08" height="1.08" fill="#f8b2b9"/>
<rect x="3" y="20" width="1.08" height="1.08" fill="#f7a9b2"/>
<rect x="4" y="20" width="1.08" height="1.08" fill="#f8b2ba"/>
<rect x="5" y="20" width="1.08" height="1.08" fill="#f9b9c0"/>
<rect x="6" y="20" width="1.08" height="1.08" fill="#f8b3ba"/>
<rect x="7" y="20" width="1.08" height="1.08" fill="#fac1c7"/>
<rect x="8" y="20" width="1.08" height="1.08" fill="#fbd1d5"/>
<rect x="9" y="20" width="1.08" height="1.08" fill="#fac4ca"/>
<rect x="10" y="20" width="1.08" height="1.08" fill="#fbcfd4"/>
<rect x="11" y="20" width="1.08" height="1.08" fill="#fbd2d7"/>
<rect x="12" y="20" width="1.08" height="1.08" fill="#fde6e9"/>
<rect x="13" y="20" width="1.08" height="1.08" fill="#fcdde0"/>
<rect x="14" y="20" width="1.08" height="1.08" fill="#fef1f2"/>
<rect x="15" y="20" width="1.08" height="1.08" fill="#fde4e7"/>
<rect x="16" y="20" width="1.08" height="1.08" fill="#feeff0"/>
</g>
<path d="M514.30 554.80L523.70 551.70L535.60 547.60" stroke="#222" stroke-width="0.55" fill="none" stroke-linejoin="round"/>
<path d="M563.57 598.54L564.21 597.74L565.06 597.21L565.86 596.62L566.67 596.05L567.66 595.62L568.75 595.66L569.78 595.43L570.68 595.70L571.74 595.65L572.26 596.67L573.19 596.55L574.12 595.96L575.05 596.08L575.98 596.67L576.97 596.48L577.73 597.67L578.78 597.11L579.70 597.30L580.62 597.52L581.46 598.22L582.40 598.35L583.42 597.92L584.32 598.32L585.41 598.15L586.20 598.88L587.15 599.16L588.11 599.10L588.89 600.14L590.05 598.93L590.87 599.78L591.86 599.91L592.64 600.66L593.61 600.85L594.59 601.02L595.37 601.71L596.01 602.57L597.07 602.88L597.84 603.53L597.44 604.76L598.31 605.36L597.17 605.95L597.07 607.22L596.56 608.26L595.53 608.27L594.59 608.46L594.48 609.75L593.97 610.94L593.83 612.23L593.35 613.42L592.68 614.32L592.11 615.29L591.45 616.03L590.36 615.91L589.63 616.53L588.55 616.43L587.69 616.78L587.15 617.77L586.03 616.95L584.67 617.15L583.80 617.72L582.74 617.10L581.81 617.21L580.94 617.77L579.94 617.41L578.93 617.10L577.84 617.15L576.60 615.91L575.72 615.27L575.69 614.01L574.74 613.42L573.59 613.13L572.88 612.18L571.88 611.69L570.68 611.69L569.78 610.94L568.55 610.59L567.30 610.32L566.05 611.01L564.81 610.32L563.50 610.29L562.33 609.70L562.42 608.64L561.71 607.84L562.68 607.28L563.85 607.77L564.81 607.22L565.94 607.45L566.91 606.96L567.92 606.60L568.98 605.81L569.78 604.74L568.97 604.11L568.93 603.09L568.54 602.26L568.02 601.22L567.21 600.78L566.05 601.02L565.15 600.62L564.19 600.40L563.80 599.49Z" stroke="#f05af0" stroke-width="1.05" fill="none" stroke-linejoin="round"/>
<circle cx="591.49" cy="597.30" r="1.1" fill="#dde" stroke="#777" stroke-width="0.4"/>
<circle cx="582.18" cy="606.23" r="1.1" fill="#dde" stroke="#777" stroke-width="0.4"/>
<circle cx="584.91" cy="611.56" r="1.1" fill="#dde" stroke="#777" stroke-width="0.4"/>
<circle cx="581.56" cy="617.39" r="1.1" fill="#dde" stroke="#777" stroke-width="0.4"/>
<circle cx="598.31" cy="616.90" r="1.1" fill="#dde" stroke="#777" stroke-width="0.4"/>
<circle cx="566.67" cy="609.08" r="1.1" fill="#dde" stroke="#777" stroke-width="0.4"/>
<circle cx="572.01" cy="609.95" r="1.1" fill="#dde" stroke="#777" stroke-width="0.4"/>
<circle cx="575.73" cy="609.21" r="1.1" fill="#dde" stroke="#777" stroke-width="0.4"/>
</g>
<rect x="514.30" y="547.70" width="144.90" height="118.00" fill="none" stroke="#8e8e8e" stroke-width="0.9"/>
<path d="M573.50 578.68L582.18 578.44L583.67 588.61L600.79 588.36L601.79 593.33L609.48 593.08L610.22 598.04L618.41 597.79L619.40 605.98L611.71 606.60L612.33 613.42L604.52 614.04L605.38 619.63L597.32 620.25L598.06 625.83L590.25 626.45L590.87 632.03L582.18 632.66L581.19 627.07L573.25 627.44L572.51 622.11L564.32 622.11L563.57 617.39L555.63 617.15L553.90 607.59L544.96 607.59L544.22 602.63L558.86 601.89L558.61 591.71L566.67 591.09L566.05 584.64L574.12 584.27Z" stroke="#86972e" stroke-width="1.1" fill="none" stroke-linejoin="miter"/>
<path d="M544.96 602.51L577.22 601.02" stroke="#86972e" stroke-width="1.0" fill="none"/>
<path d="M575.98 595.43L584.42 594.81L584.91 599.78L593.35 599.28L594.59 609.70L586.90 610.32L587.39 616.15L579.45 616.77L577.84 607.22L569.78 607.22L569.16 601.02L576.60 600.40Z" stroke="#a8262e" stroke-width="1.1" fill="none" stroke-linejoin="miter"/>
<linearGradient id="cb16" x1="0" y1="0" x2="0" y2="1"><stop offset="0" stop-color="#ee4255"/><stop offset="0.4927" stop-color="#ffffff"/><stop offset="1" stop-color="#5040fc"/></linearGradient>
<rect x="664.00" y="16.60" width="5.90" height="117.70" fill="url(#cb16)" stroke="#999" stroke-width="0.5"/>
<line x1="669.90" y1="26.90" x2="671.40" y2="26.90" stroke="#444" stroke-width="0.5"/>
<text x="672.60" y="28.90" font-size="5.7" text-anchor="start" font-weight="normal" fill="#333" textLength="8.43" lengthAdjust="spacingAndGlyphs">1.0</text>
<line x1="669.90" y1="50.75" x2="671.40" y2="50.75" stroke="#444" stroke-width="0.5"/>
<text x="672.60" y="52.75" font-size="5.7" text-anchor="start" font-weight="normal" fill="#333" textLength="8.43" lengthAdjust="spacingAndGlyphs">0.5</text>
<line x1="669.90" y1="74.60" x2="671.40" y2="74.60" stroke="#444" stroke-width="0.5"/>
<text x="672.60" y="76.60" font-size="5.7" text-anchor="start" font-weight="normal" fill="#333" textLength="8.43" lengthAdjust="spacingAndGlyphs">0.0</text>
<line x1="669.90" y1="98.45" x2="671.40" y2="98.45" stroke="#444" stroke-width="0.5"/>
<text x="672.60" y="100.45" font-size="5.7" text-anchor="start" font-weight="normal" fill="#333" textLength="12.87" lengthAdjust="spacingAndGlyphs">−0.5</text>
<line x1="669.90" y1="122.29" x2="671.40" y2="122.29" stroke="#444" stroke-width="0.5"/>
<text x="672.60" y="124.29" font-size="5.7" text-anchor="start" font-weight="normal" fill="#333" textLength="12.87" lengthAdjust="spacingAndGlyphs">−1.0</text>
<linearGradient id="cb148" x1="0" y1="0" x2="0" y2="1"><stop offset="0" stop-color="#ee3c50"/><stop offset="0.5000" stop-color="#ffffff"/><stop offset="1" stop-color="#5040fc"/></linearGradient>
<rect x="663.40" y="148.90" width="6.50" height="117.70" fill="url(#cb148)" stroke="#999" stroke-width="0.5"/>
<line x1="669.90" y1="148.90" x2="671.40" y2="148.90" stroke="#444" stroke-width="0.5"/>
<text x="672.60" y="150.90" font-size="5.7" text-anchor="start" font-weight="normal" fill="#333" textLength="3.37" lengthAdjust="spacingAndGlyphs">4</text>
<line x1="669.90" y1="163.61" x2="671.40" y2="163.61" stroke="#444" stroke-width="0.5"/>
<text x="672.60" y="165.61" font-size="5.7" text-anchor="start" font-weight="normal" fill="#333" textLength="3.37" lengthAdjust="spacingAndGlyphs">3</text>
<line x1="669.90" y1="178.33" x2="671.40" y2="178.33" stroke="#444" stroke-width="0.5"/>
<text x="672.60" y="180.33" font-size="5.7" text-anchor="start" font-weight="normal" fill="#333" textLength="3.37" lengthAdjust="spacingAndGlyphs">2</text>
<line x1="669.90" y1="193.04" x2="671.40" y2="193.04" stroke="#444" stroke-width="0.5"/>
<text x="672.60" y="195.04" font-size="5.7" text-anchor="start" font-weight="normal" fill="#333" textLength="3.37" lengthAdjust="spacingAndGlyphs">1</text>
<line x1="669.90" y1="207.75" x2="671.40" y2="207.75" stroke="#444" stroke-width="0.5"/>
<text x="672.60" y="209.75" font-size="5.7" text-anchor="start" font-weight="normal" fill="#333" textLength="3.37" lengthAdjust="spacingAndGlyphs">0</text>
<line x1="669.90" y1="222.46" x2="671.40" y2="222.46" stroke="#444" stroke-width="0.5"/>
<text x="672.60" y="224.46" font-size="5.7" text-anchor="start" font-weight="normal" fill="#333" textLength="7.81" lengthAdjust="spacingAndGlyphs">−1</text>
<line x1="669.90" y1="237.18" x2="671.40" y2="237.18" stroke="#444" stroke-width="0.5"/>
<text x="672.60" y="239.18" font-size="5.7" text-anchor="start" font-weight="normal" fill="#333" textLength="7.81" lengthAdjust="spacingAndGlyphs">−2</text>
<line x1="669.90" y1="251.89" x2="671.40" y2="251.89" stroke="#444" stroke-width="0.5"/>
<text x="672.60" y="253.89" font-size="5.7" text-anchor="start" font-weight="normal" fill="#333" textLength="7.81" lengthAdjust="spacingAndGlyphs">−3</text>
<line x1="669.90" y1="266.60" x2="671.40" y2="266.60" stroke="#444" stroke-width="0.5"/>
<text x="672.60" y="268.60" font-size="5.7" text-anchor="start" font-weight="normal" fill="#333" textLength="7.81" lengthAdjust="spacingAndGlyphs">−4</text>
<linearGradient id="cb282" x1="0" y1="0" x2="0" y2="1"><stop offset="0" stop-color="#ee3c50"/><stop offset="0.5000" stop-color="#ffffff"/><stop offset="1" stop-color="#5040fc"/></linearGradient>
<rect x="663.40" y="282.70" width="6.50" height="117.60" fill="url(#cb282)" stroke="#999" stroke-width="0.5"/>
<line x1="669.90" y1="282.70" x2="671.40" y2="282.70" stroke="#444" stroke-width="0.5"/>
<text x="672.60" y="284.70" font-size="5.7" text-anchor="start" font-weight="normal" fill="#333" textLength="8.43" lengthAdjust="spacingAndGlyphs">2.0</text>
<line x1="669.90" y1="297.40" x2="671.40" y2="297.40" stroke="#444" stroke-width="0.5"/>
<text x="672.60" y="299.40" font-size="5.7" text-anchor="start" font-weight="normal" fill="#333" textLength="8.43" lengthAdjust="spacingAndGlyphs">1.5</text>
<line x1="669.90" y1="312.10" x2="671.40" y2="312.10" stroke="#444" stroke-width="0.5"/>
<text x="672.60" y="314.10" font-size="5.7" text-anchor="start" font-weight="normal" fill="#333" textLength="8.43" lengthAdjust="spacingAndGlyphs">1.0</text>
<line x1="669.90" y1="326.80" x2="671.40" y2="326.80" stroke="#444" stroke-width="0.5"/>
<text x="672.60" y="328.80" font-size="5.7" text-anchor="start" font-weight="normal" fill="#333" textLength="8.43" lengthAdjust="spacingAndGlyphs">0.5</text>
<line x1="669.90" y1="341.50" x2="671.40" y2="341.50" stroke="#444" stroke-width="0.5"/>
<text x="672.60" y="343.50" font-size="5.7" text-anchor="start" font-weight="normal" fill="#333" textLength="8.43" lengthAdjust="spacingAndGlyphs">0.0</text>
<line x1="669.90" y1="356.20" x2="671.40" y2="356.20" stroke="#444" stroke-width="0.5"/>
<text x="672.60" y="358.20" font-size="5.7" text-anchor="start" font-weight="normal" fill="#333" textLength="12.87" lengthAdjust="spacingAndGlyphs">−0.5</text>
<line x1="669.90" y1="370.90" x2="671.40" y2="370.90" stroke="#444" stroke-width="0.5"/>
<text x="672.60" y="372.90" font-size="5.7" text-anchor="start" font-weight="normal" fill="#333" textLength="12.87" lengthAdjust="spacingAndGlyphs">−1.0</text>
<line x1="669.90" y1="385.60" x2="671.40" y2="385.60" stroke="#444" stroke-width="0.5"/>
<text x="672.60" y="387.60" font-size="5.7" text-anchor="start" font-weight="normal" fill="#333" textLength="12.87" lengthAdjust="spacingAndGlyphs">−1.5</text>
<line x1="669.90" y1="400.30" x2="671.40" y2="400.30" stroke="#444" stroke-width="0.5"/>
<text x="672.60" y="402.30" font-size="5.7" text-anchor="start" font-weight="normal" fill="#333" textLength="12.87" lengthAdjust="spacingAndGlyphs">−2.0</text>
<linearGradient id="cb415" x1="0" y1="0" x2="0" y2="1"><stop offset="0" stop-color="#ee3c50"/><stop offset="0.5000" stop-color="#ffffff"/><stop offset="1" stop-color="#5040fc"/></linearGradient>
<rect x="663.30" y="415.00" width="6.60" height="117.90" fill="url(#cb415)" stroke="#999" stroke-width="0.5"/>
<line x1="669.90" y1="415.00" x2="671.40" y2="415.00" stroke="#444" stroke-width="0.5"/>
<text x="672.60" y="417.00" font-size="5.7" text-anchor="start" font-weight="normal" fill="#333" textLength="8.43" lengthAdjust="spacingAndGlyphs">2.0</text>
<line x1="669.90" y1="429.74" x2="671.40" y2="429.74" stroke="#444" stroke-width="0.5"/>
<text x="672.60" y="431.74" font-size="5.7" text-anchor="start" font-weight="normal" fill="#333" textLength="8.43" lengthAdjust="spacingAndGlyphs">1.5</text>
<line x1="669.90" y1="444.48" x2="671.40" y2="444.48" stroke="#444" stroke-width="0.5"/>
<text x="672.60" y="446.48" font-size="5.7" text-anchor="start" font-weight="normal" fill="#333" textLength="8.43" lengthAdjust="spacingAndGlyphs">1.0</text>
<line x1="669.90" y1="459.21" x2="671.40" y2="459.21" stroke="#444" stroke-width="0.5"/>
<text x="672.60" y="461.21" font-size="5.7" text-anchor="start" font-weight="normal" fill="#333" textLength="8.43" lengthAdjust="spacingAndGlyphs">0.5</text>
<line x1="669.90" y1="473.95" x2="671.40" y2="473.95" stroke="#444" stroke-width="0.5"/>
<text x="672.60" y="475.95" font-size="5.7" text-anchor="start" font-weight="normal" fill="#333" textLength="8.43" lengthAdjust="spacingAndGlyphs">0.0</text>
<line x1="669.90" y1="488.69" x2="671.40" y2="488.69" stroke="#444" stroke-width="0.5"/>
<text x="672.60" y="490.69" font-size="5.7" text-anchor="start" font-weight="normal" fill="#333" textLength="12.87" lengthAdjust="spacingAndGlyphs">−0.5</text>
<line x1="669.90" y1="503.42" x2="671.40" y2="503.42" stroke="#444" stroke-width="0.5"/>
<text x="672.60" y="505.42" font-size="5.7" text-anchor="start" font-weight="normal" fill="#333" textLength="12.87" lengthAdjust="spacingAndGlyphs">−1.0</text>
<line x1="669.90" y1="518.16" x2="671.40" y2="518.16" stroke="#444" stroke-width="0.5"/>
<text x="672.60" y="520.16" font-size="5.7" text-anchor="start" font-weight="normal" fill="#333" textLength="12.87" lengthAdjust="spacingAndGlyphs">−1.5</text>
<line x1="669.90" y1="532.90" x2="671.40" y2="532.90" stroke="#444" stroke-width="0.5"/>
<text x="672.60" y="534.90" font-size="5.7" text-anchor="start" font-weight="normal" fill="#333" textLength="12.87" lengthAdjust="spacingAndGlyphs">−2.0</text>
<linearGradient id="cb548" x1="0" y1="0" x2="0" y2="1"><stop offset="0" stop-color="#ee3c50"/><stop offset="0.5000" stop-color="#ffffff"/><stop offset="1" stop-color="#5040fc"/></linearGradient>
<rect x="663.60" y="548.00" width="6.40" height="117.60" fill="url(#cb548)" stroke="#999" stroke-width="0.5"/>
<line x1="670.00" y1="548.00" x2="671.50" y2="548.00" stroke="#444" stroke-width="0.5"/>
<text x="672.60" y="550.00" font-size="5.7" text-anchor="start" font-weight="normal" fill="#333" textLength="8.43" lengthAdjust="spacingAndGlyphs">2.0</text>
<line x1="670.00" y1="562.70" x2="671.50" y2="562.70" stroke="#444" stroke-width="0.5"/>
<text x="672.60" y="564.70" font-size="5.7" text-anchor="start" font-weight="normal" fill="#333" textLength="8.43" lengthAdjust="spacingAndGlyphs">1.5</text>
<line x1="670.00" y1="577.40" x2="671.50" y2="577.40" stroke="#444" stroke-width="0.5"/>
<text x="672.60" y="579.40" font-size="5.7" text-anchor="start" font-weight="normal" fill="#333" textLength="8.43" lengthAdjust="spacingAndGlyphs">1.0</text>
<line x1="670.00" y1="592.10" x2="671.50" y2="592.10" stroke="#444" stroke-width="0.5"/>
<text x="672.60" y="594.10" font-size="5.7" text-anchor="start" font-weight="normal" fill="#333" textLength="8.43" lengthAdjust="spacingAndGlyphs">0.5</text>
<line x1="670.00" y1="606.80" x2="671.50" y2="606.80" stroke="#444" stroke-width="0.5"/>
<text x="672.60" y="608.80" font-size="5.7" text-anchor="start" font-weight="normal" fill="#333" textLength="8.43" lengthAdjust="spacingAndGlyphs">0.0</text>
<line x1="670.00" y1="621.50" x2="671.50" y2="621.50" stroke="#444" stroke-width="0.5"/>
<text x="672.60" y="623.50" font-size="5.7" text-anchor="start" font-weight="normal" fill="#333" textLength="12.87" lengthAdjust="spacingAndGlyphs">−0.5</text>
<line x1="670.00" y1="636.20" x2="671.50" y2="636.20" stroke="#444" stroke-width="0.5"/>
<text x="672.60" y="638.20" font-size="5.7" text-anchor="start" font-weight="normal" fill="#333" textLength="12.87" lengthAdjust="spacingAndGlyphs">−1.0</text>
<line x1="670.00" y1="650.90" x2="671.50" y2="650.90" stroke="#444" stroke-width="0.5"/>
<text x="672.60" y="652.90" font-size="5.7" text-anchor="start" font-weight="normal" fill="#333" textLength="12.87" lengthAdjust="spacingAndGlyphs">−1.5</text>
<line x1="670.00" y1="665.60" x2="671.50" y2="665.60" stroke="#444" stroke-width="0.5"/>
<text x="672.60" y="667.60" font-size="5.7" text-anchor="start" font-weight="normal" fill="#333" textLength="12.87" lengthAdjust="spacingAndGlyphs">−2.0</text>
<text x="23.80" y="27.40" font-size="9.4" text-anchor="start" font-weight="bold" fill="#000">a)</text>
<text x="161.20" y="27.00" font-size="9.4" text-anchor="start" font-weight="bold" fill="#000">b)</text>
<text x="349.40" y="27.50" font-size="9.4" text-anchor="start" font-weight="bold" fill="#000">c)</text>
<text x="519.50" y="27.50" font-size="9.4" text-anchor="start" font-weight="bold" fill="#000">d)</text>
<text x="20.00" y="159.90" font-size="9.4" text-anchor="start" font-weight="bold" fill="#000">e)</text>
<text x="163.50" y="160.00" font-size="9.4" text-anchor="start" font-weight="bold" fill="#000">f)</text>
<text x="348.30" y="160.00" font-size="9.4" text-anchor="start" font-weight="bold" fill="#000">g)</text>
<text x="516.20" y="159.90" font-size="9.4" text-anchor="start" font-weight="bold" fill="#000">h)</text>
<text x="19.50" y="293.50" font-size="9.4" text-anchor="start" font-weight="bold" fill="#000">i)</text>
<text x="163.50" y="293.30" font-size="9.4" text-anchor="start" font-weight="bold" fill="#000">j)</text>
<text x="349.10" y="293.30" font-size="9.4" text-anchor="start" font-weight="bold" fill="#000">k)</text>
<text x="521.50" y="293.30" font-size="9.4" text-anchor="start" font-weight="bold" fill="#000">l)</text>
<text x="13.30" y="426.70" font-size="9.4" text-anchor="start" font-weight="bold" fill="#000">m)</text>
<text x="161.20" y="427.00" font-size="9.4" text-anchor="start" font-weight="bold" fill="#000">n)</text>
<text x="16.00" y="560.50" font-size="9.4" text-anchor="start" font-weight="bold" fill="#000">o)</text>
<text x="161.20" y="561.20" font-size="9.4" text-anchor="start" font-weight="bold" fill="#000">p)</text>
<text x="348.60" y="561.10" font-size="9.4" text-anchor="start" font-weight="bold" fill="#000">q)</text>
<text x="520.10" y="565.00" font-size="9.4" text-anchor="start" font-weight="bold" fill="#fff">r)</text>
<text x="85.60" y="9.10" font-size="10.3" text-anchor="middle" font-weight="normal" fill="#111" textLength="29.00" lengthAdjust="spacingAndGlyphs">REMO</text>
<line x1="21.50" y1="11.40" x2="319.80" y2="11.40" stroke="#444" stroke-width="0.9"/>
<text x="586.60" y="8.20" font-size="10.3" text-anchor="middle" font-weight="normal" fill="#111" textLength="33.00" lengthAdjust="spacingAndGlyphs">RegCM</text>
<line x1="344.20" y1="11.40" x2="649.30" y2="11.40" stroke="#444" stroke-width="0.9"/>
<text x="667.10" y="11.90" font-size="7.2" text-anchor="middle" font-weight="normal" fill="#222" textLength="13.20" lengthAdjust="spacingAndGlyphs">(°C)</text>
<text x="9.30" y="75.00" font-size="10.3" text-anchor="middle" font-weight="normal" fill="#111" transform="rotate(-90 9.30 75.00)" textLength="44.40" lengthAdjust="spacingAndGlyphs">New Delhi</text>
<text x="9.30" y="210.50" font-size="10.3" text-anchor="middle" font-weight="normal" fill="#111" transform="rotate(-90 9.30 210.50)" textLength="31.70" lengthAdjust="spacingAndGlyphs">Jakarta</text>
<text x="9.30" y="341.10" font-size="10.3" text-anchor="middle" font-weight="normal" fill="#111" transform="rotate(-90 9.30 341.10)" textLength="56.60" lengthAdjust="spacingAndGlyphs">Buenos Aires</text>
<text x="8.70" y="473.70" font-size="10.3" text-anchor="middle" font-weight="normal" fill="#111" transform="rotate(-90 8.70 473.70)" textLength="66.50" lengthAdjust="spacingAndGlyphs">Paris (EUR-22)</text>
<text x="8.70" y="605.30" font-size="10.3" text-anchor="middle" font-weight="normal" fill="#111" transform="rotate(-90 8.70 605.30)" textLength="65.20" lengthAdjust="spacingAndGlyphs">Paris (EUR-11)</text>
</svg>
</body></html>
